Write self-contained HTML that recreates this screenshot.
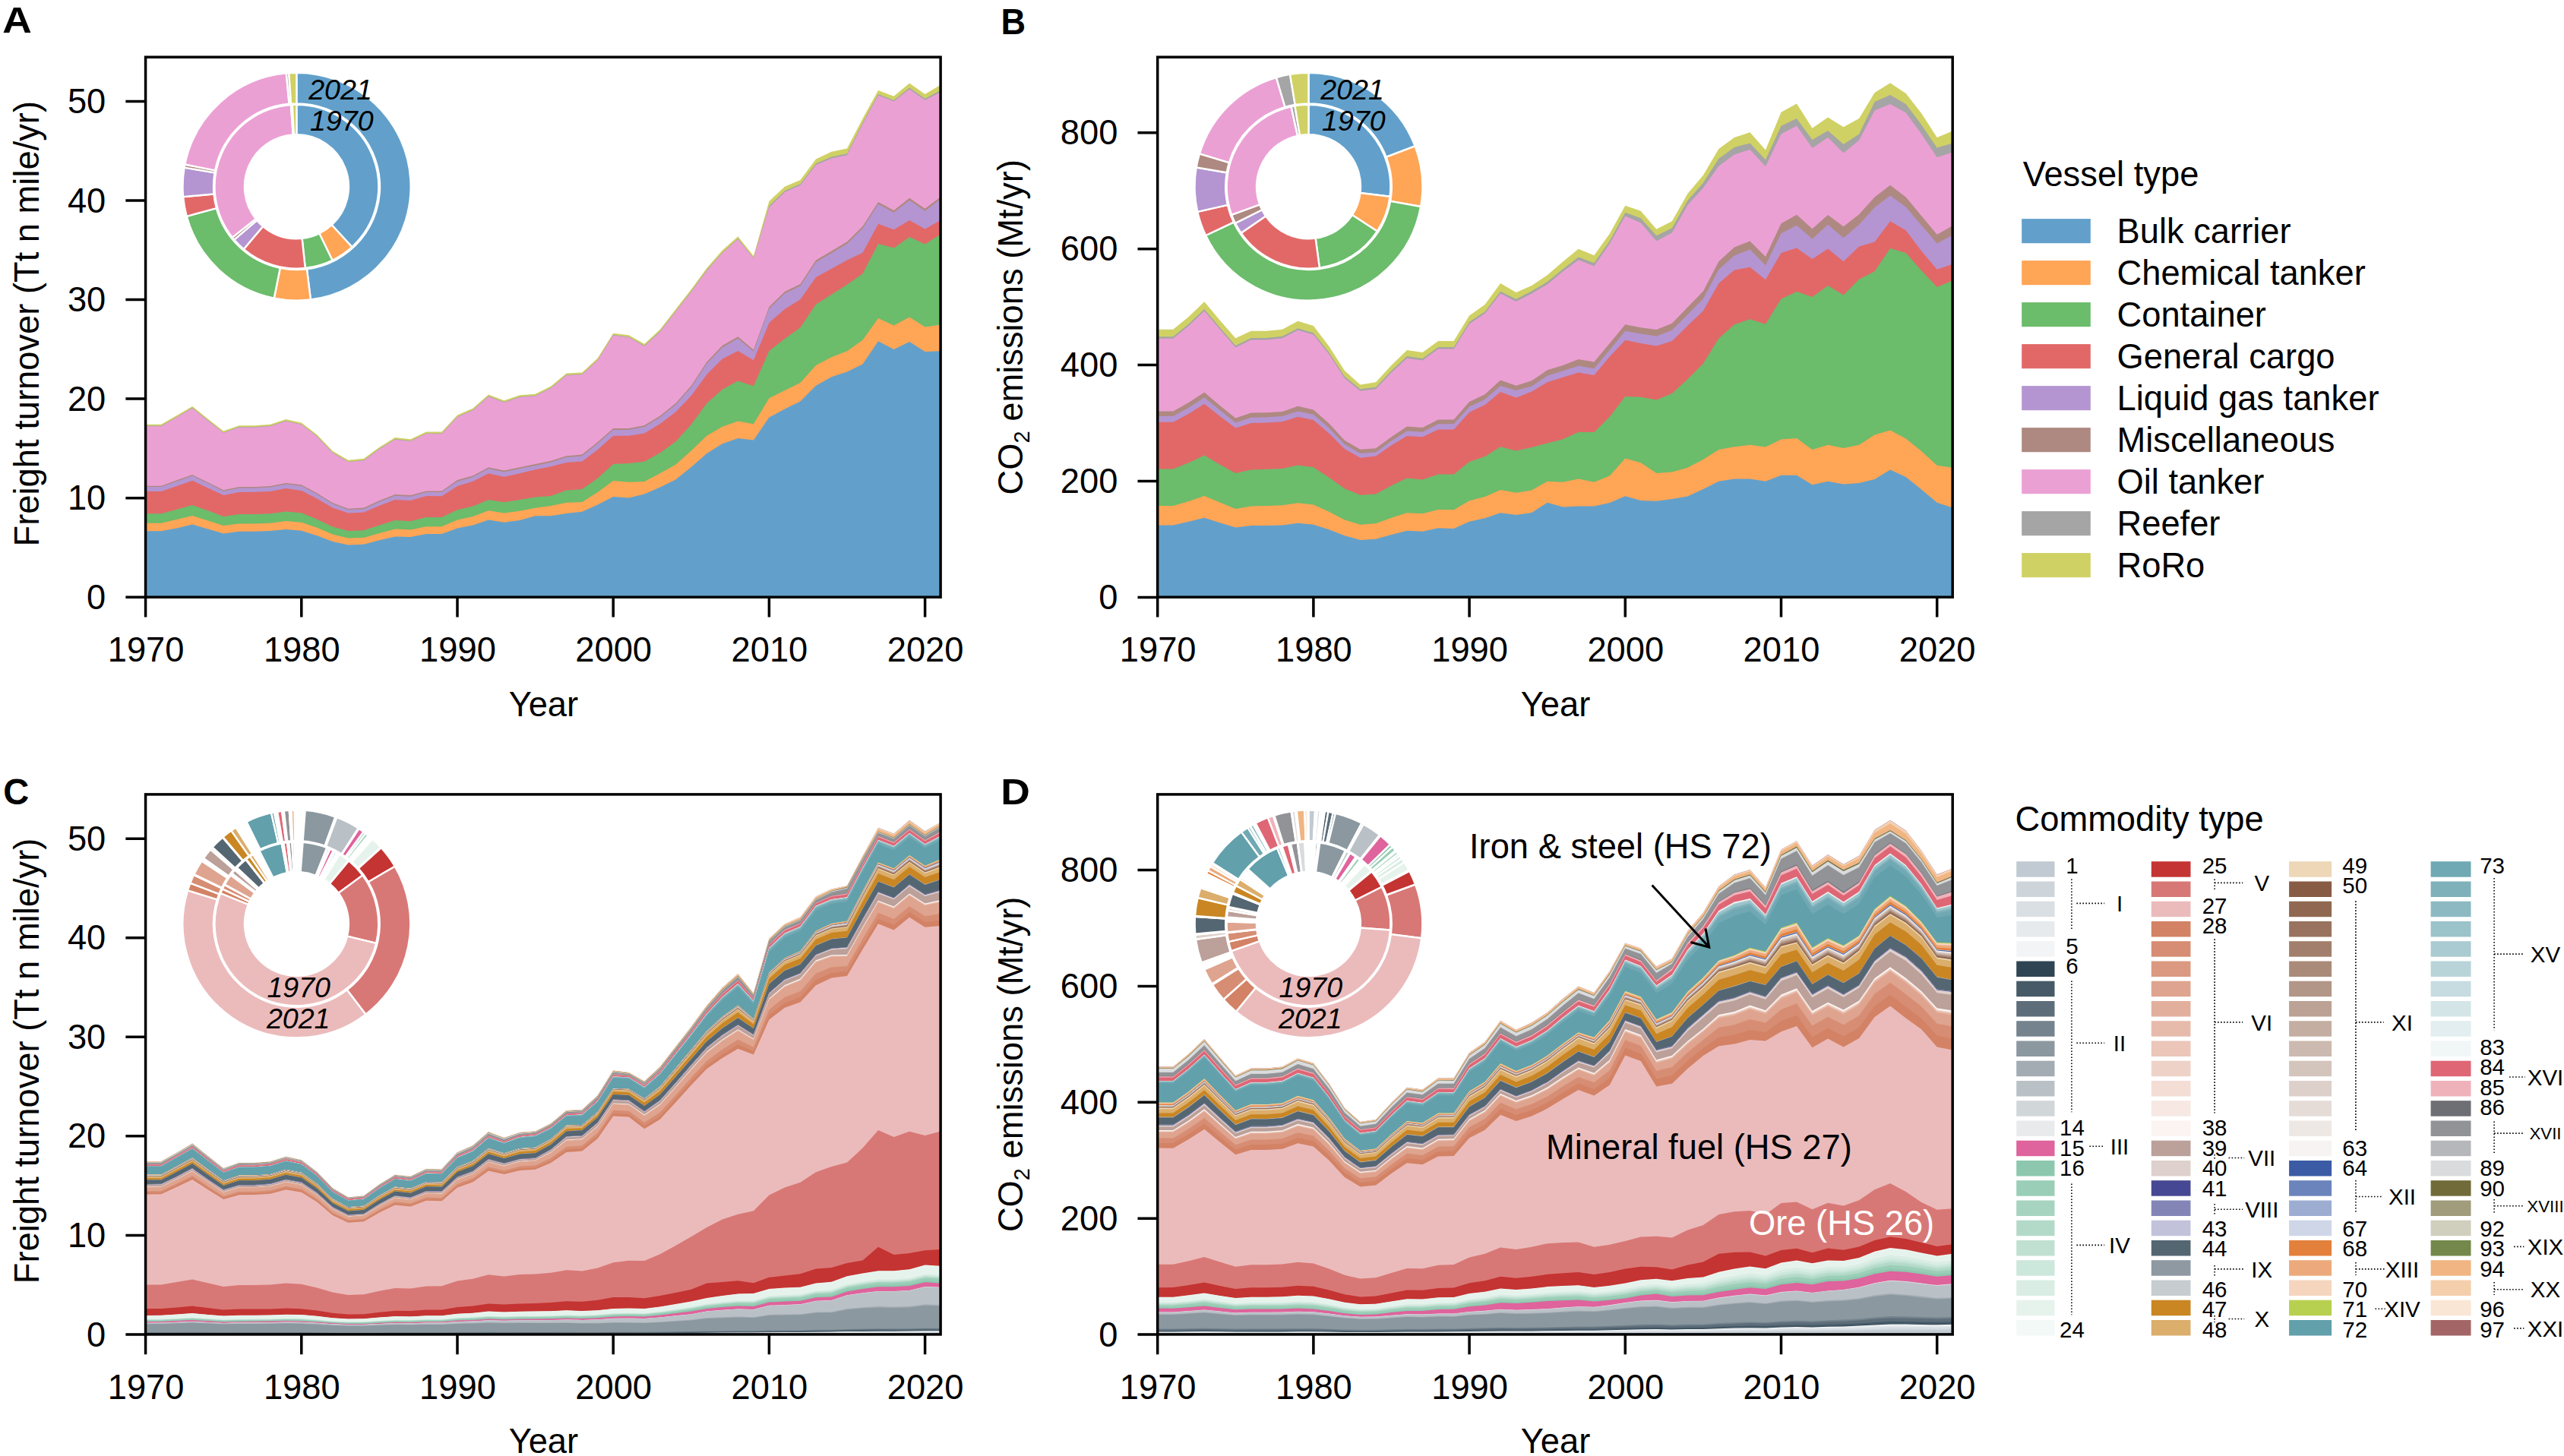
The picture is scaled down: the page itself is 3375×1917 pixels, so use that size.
<!DOCTYPE html>
<html><head><meta charset="utf-8"><title>Figure</title>
<style>html,body{margin:0;padding:0;background:#fff}svg{display:block}</style></head>
<body>
<svg width="3375" height="1917" viewBox="0 0 3375 1917" font-family="'Liberation Sans',sans-serif" font-size="45.3" fill="#000">
<rect width="3375" height="1917" fill="#fff"/>
<g id="pa">
<path fill="#d0d164" d="M191.6 786.2L191.6 558.7L212.1 558.7L232.6 547L253.2 534.9L273.7 551.4L294.2 567.5L314.7 560.2L335.2 560.2L355.8 558.7L376.3 552.1L396.8 556.5L417.3 572.3L437.8 593.8L458.4 605.7L478.9 603.7L499.4 588.8L519.9 576L540.4 578.2L561 568.4L581.5 568.6L602 546.4L622.5 537.6L643 519.6L663.6 527.3L684.1 520.2L704.6 518.7L725.1 508.5L745.6 491.4L766.2 490.4L786.7 471.6L807.2 438.7L827.7 441.3L848.2 452.8L868.8 433.7L889.3 407.3L909.8 381L930.3 353L950.8 329.6L971.4 311.2L991.9 337L1012.4 265L1032.9 245.7L1053.4 236.9L1074 209.5L1094.5 199.8L1115 195.6L1135.5 156.2L1156 119.1L1176.6 126.8L1197.1 109.4L1217.6 123.9L1238.1 111.7L1238.1 786.2Z"/>
<path fill="#a5a5a5" d="M191.6 786.2L191.6 560.6L212.1 560.6L232.6 548.9L253.2 536.8L273.7 553.3L294.2 569.4L314.7 562.1L335.2 562.1L355.8 560.6L376.3 554L396.8 558.4L417.3 574.3L437.8 595.8L458.4 607.7L478.9 605.7L499.4 590.8L519.9 578L540.4 580.2L561 570.4L581.5 570.6L602 548.4L622.5 539.6L643 521.6L663.6 529.3L684.1 522.3L704.6 520.8L725.1 510.6L745.6 493.5L766.2 492.5L786.7 473.7L807.2 440.8L827.7 443.5L848.2 455.1L868.8 436.1L889.3 409.8L909.8 383.5L930.3 355.6L950.8 332.4L971.4 314.1L991.9 339.5L1012.4 271.1L1032.9 251.2L1053.4 242.3L1074 215.3L1094.5 206.4L1115 202.2L1135.5 161.5L1156 123.9L1176.6 131.9L1197.1 115.5L1217.6 129.7L1238.1 118.9L1238.1 786.2Z"/>
<path fill="#eba0d4" d="M191.6 786.2L191.6 561.2L212.1 561.2L232.6 549.6L253.2 537.5L273.7 554L294.2 570L314.7 562.8L335.2 562.8L355.8 561.3L376.3 554.7L396.8 559.1L417.3 574.9L437.8 596.5L458.4 608.3L478.9 606.4L499.4 591.4L519.9 578.7L540.4 580.9L561 571L581.5 571.3L602 549.1L622.5 540.3L643 522.3L663.6 530L684.1 523L704.6 521.5L725.1 511.3L745.6 494.2L766.2 493.2L786.7 474.4L807.2 441.5L827.7 444.2L848.2 455.9L868.8 436.9L889.3 410.6L909.8 384.4L930.3 356.5L950.8 333.3L971.4 315.1L991.9 340.3L1012.4 273.1L1032.9 253.1L1053.4 244L1074 217.2L1094.5 208.5L1115 204.3L1135.5 163.3L1156 125.5L1176.6 133.6L1197.1 117.5L1217.6 131.7L1238.1 121.3L1238.1 786.2Z"/>
<path fill="#ae8981" d="M191.6 786.2L191.6 639.8L212.1 639.8L232.6 632.3L253.2 625.1L273.7 634.9L294.2 645.3L314.7 641.1L335.2 641.1L355.8 640L376.3 636L396.8 638.2L417.3 649.2L437.8 662L458.4 669.7L478.9 668.6L499.4 659.1L519.9 651L540.4 652.1L561 646.4L581.5 646.4L602 632.1L622.5 626.2L643 615.2L663.6 619.6L684.1 615.2L704.6 611L725.1 606.8L745.6 600.2L766.2 598.5L786.7 582L807.2 563.9L827.7 563.9L848.2 559.9L868.8 547.4L889.3 530.9L909.8 507.9L930.3 476.6L950.8 455.1L971.4 443.3L991.9 460.4L1012.4 403.9L1032.9 383.9L1053.4 373.9L1074 342.5L1094.5 330.6L1115 318.3L1135.5 298L1156 266L1176.6 277L1197.1 260.8L1217.6 274.7L1238.1 259.2L1238.1 786.2Z"/>
<path fill="#b495d1" d="M191.6 786.2L191.6 641.1L212.1 641.1L232.6 633.7L253.2 626.4L273.7 636.3L294.2 646.7L314.7 642.5L335.2 642.6L355.8 641.5L376.3 637.6L396.8 639.8L417.3 650.8L437.8 663.6L458.4 671.3L478.9 670.2L499.4 660.8L519.9 652.7L540.4 653.8L561 648.1L581.5 648.1L602 633.9L622.5 627.9L643 617L663.6 621.4L684.1 617L704.6 612.9L725.1 608.7L745.6 602.1L766.2 600.5L786.7 584L807.2 565.9L827.7 566L848.2 562L868.8 549.6L889.3 533.1L909.8 510.1L930.3 478.8L950.8 457.5L971.4 445.7L991.9 462.8L1012.4 406.4L1032.9 386.4L1053.4 376.4L1074 345.2L1094.5 333.3L1115 321L1135.5 300.7L1156 268.8L1176.6 279.8L1197.1 263.7L1217.6 277.7L1238.1 262.2L1238.1 786.2Z"/>
<path fill="#e26868" d="M191.6 786.2L191.6 647L212.1 647L232.6 640L253.2 632.7L273.7 642.6L294.2 652.1L314.7 648.1L335.2 647.7L355.8 647L376.3 643.1L396.8 645.9L417.3 656.5L437.8 668.6L458.4 675.6L478.9 674.5L499.4 665.7L519.9 658L540.4 659.1L561 653L581.5 653.2L602 640L622.5 633.8L643 623.3L663.6 627.7L684.1 623.3L704.6 618.3L725.1 614.3L745.6 609.1L766.2 607.4L786.7 591.9L807.2 573.8L827.7 573.8L848.2 570.5L868.8 558L889.3 542.5L909.8 521.1L930.3 493L950.8 472.6L971.4 462L991.9 474.3L1012.4 424.9L1032.9 407.1L1053.4 394.2L1074 365.1L1094.5 353.8L1115 342.5L1135.5 332.8L1156 294.7L1176.6 302.2L1197.1 289.9L1217.6 301.5L1238.1 289.9L1238.1 786.2Z"/>
<path fill="#6bbc6b" d="M191.6 786.2L191.6 676.3L212.1 676.3L232.6 670.8L253.2 665.1L273.7 672.3L294.2 680L314.7 677.1L335.2 677.1L355.8 676.3L376.3 673.4L396.8 675.2L417.3 683.7L437.8 693.6L458.4 699.1L478.9 698.2L499.4 691.4L519.9 685.1L540.4 686.2L561 681.1L581.5 681.1L602 671.2L622.5 666.4L643 658L663.6 661.3L684.1 658L704.6 654.5L725.1 652.9L745.6 645.6L766.2 644L786.7 629.8L807.2 611L827.7 610L848.2 607.7L868.8 596.2L889.3 581.4L909.8 559L930.3 530.9L950.8 512.8L971.4 501.4L991.9 508.2L1012.4 462L1032.9 445.9L1053.4 431.3L1074 400.7L1094.5 387.7L1115 374.8L1135.5 360.3L1156 320.9L1176.6 326.4L1197.1 311.9L1217.6 321.5L1238.1 308.6L1238.1 786.2Z"/>
<path fill="#ffa556" d="M191.6 786.2L191.6 688.8L212.1 688.8L232.6 684L253.2 678.9L273.7 685.5L294.2 692.1L314.7 689.5L335.2 689.5L355.8 688.8L376.3 685.9L396.8 687.7L417.3 694.7L437.8 703.5L458.4 708.6L478.9 707.9L499.4 702L519.9 696.5L540.4 697.6L561 693.2L581.5 693.2L602 684.4L622.5 680L643 672.3L663.6 675.6L684.1 672.7L704.6 668.7L725.1 666.1L745.6 661.8L766.2 661.1L786.7 647.9L807.2 633.1L827.7 634.8L848.2 634.1L868.8 623.2L889.3 611.7L909.8 593.6L930.3 573.8L950.8 561.7L971.4 554.5L991.9 558.2L1012.4 524.2L1032.9 514.1L1053.4 504L1074 480.9L1094.5 470.3L1115 462.2L1135.5 447.8L1156 418.9L1176.6 428.4L1197.1 417.5L1217.6 430.5L1238.1 427.6L1238.1 786.2Z"/>
<path fill="#62a0cb" d="M191.6 786.2L191.6 699.3L212.1 699.3L232.6 695.4L253.2 690.5L273.7 696.5L294.2 702.6L314.7 699.8L335.2 699.8L355.8 699.1L376.3 696.9L396.8 698.7L417.3 705.3L437.8 713L458.4 717.4L478.9 716.7L499.4 711.2L519.9 706.4L540.4 707L561 703.1L581.5 703.1L602 695.4L622.5 691.6L643 684.4L663.6 687.7L684.1 685.1L704.6 679.3L725.1 679.3L745.6 676L766.2 673.7L786.7 664.4L807.2 653.9L827.7 655.5L848.2 650.6L868.8 641.4L889.3 631.5L909.8 615L930.3 596.9L950.8 584.2L971.4 576.9L991.9 579.5L1012.4 549.6L1032.9 538.6L1053.4 528.5L1074 507.7L1094.5 496.2L1115 489.6L1135.5 479.5L1156 449.2L1176.6 459.9L1197.1 450.1L1217.6 463L1238.1 462.2L1238.1 786.2Z"/>
<rect x="191.6" y="75.2" width="1046.5" height="711" fill="none" stroke="#000" stroke-width="3.5"/>
<text x="192.1" y="871" text-anchor="middle">1970</text>
<text x="397.3" y="871" text-anchor="middle">1980</text>
<text x="602.5" y="871" text-anchor="middle">1990</text>
<text x="807.7" y="871" text-anchor="middle">2000</text>
<text x="1012.9" y="871" text-anchor="middle">2010</text>
<text x="1218.1" y="871" text-anchor="middle">2020</text>
<text x="139.3" y="801.8" text-anchor="end">0</text>
<text x="139.3" y="671.3" text-anchor="end">10</text>
<text x="139.3" y="540.7" text-anchor="end">20</text>
<text x="139.3" y="410.2" text-anchor="end">30</text>
<text x="139.3" y="279.6" text-anchor="end">40</text>
<text x="139.3" y="149.1" text-anchor="end">50</text>
<path d="M191.6 786.2v26.3M396.8 786.2v26.3M602 786.2v26.3M807.2 786.2v26.3M1012.4 786.2v26.3M1217.6 786.2v26.3M191.6 786.2h-26.2M191.6 655.7h-26.2M191.6 525.1h-26.2M191.6 394.6h-26.2M191.6 264h-26.2M191.6 133.5h-26.2" stroke="#000" stroke-width="3.5" fill="none"/>
<text x="715.4" y="942.5" text-anchor="middle">Year</text>
<text transform="translate(50.8 426.2) rotate(-90)" text-anchor="middle">Freight turnover (Tt n mile/yr)</text>
</g>
<g id="pb">
<path fill="#d0d164" d="M1523.7 786.4L1523.7 433.7L1544.2 433.7L1564.7 416.9L1585.3 397.3L1605.8 421.7L1626.3 445.3L1646.8 435.8L1667.3 435.8L1687.9 433.7L1708.4 422.8L1728.9 429.1L1749.4 455.9L1769.9 488.1L1790.5 506.4L1811 503.2L1831.5 481.1L1852 461.1L1872.5 463.9L1893.1 448.9L1913.6 448.9L1934.1 415.4L1954.6 401.1L1975.1 373.1L1995.7 385L2016.2 375.9L2036.7 362.3L2057.2 344.4L2077.7 327.8L2098.3 336.2L2118.8 307.7L2139.3 270.7L2159.8 277.7L2180.3 301.8L2200.9 291.3L2221.4 255L2241.9 230.8L2262.4 196L2282.9 180.9L2303.5 174.3L2324 197.5L2344.5 147.7L2365 136.5L2385.5 168.8L2406.1 154.6L2426.6 167.3L2447.1 156.1L2467.6 122L2488.1 109.3L2508.7 122.9L2529.2 149.2L2549.7 180.9L2570.2 172.5L2570.2 786.4Z"/>
<path fill="#a5a5a5" d="M1523.7 786.4L1523.7 443.2L1544.2 443.2L1564.7 426.4L1585.3 407L1605.8 431.2L1626.3 455L1646.8 444.9L1667.3 444.9L1687.9 442.8L1708.4 432.3L1728.9 438.2L1749.4 463.9L1769.9 495.5L1790.5 512.3L1811 509.8L1831.5 488.1L1852 469.1L1872.5 471.9L1893.1 457.1L1913.6 457.1L1934.1 423.8L1954.6 410.2L1975.1 383.8L1995.7 393.8L2016.2 383.2L2036.7 371.1L2057.2 354.3L2077.7 338.6L2098.3 346.3L2118.8 317.3L2139.3 279.8L2159.8 287.3L2180.3 310.3L2200.9 300.3L2221.4 264.1L2241.9 240.8L2262.4 208.7L2282.9 193.9L2303.5 188.5L2324 210.2L2344.5 165.8L2365 156.1L2385.5 183.9L2406.1 171.9L2426.6 190L2447.1 176.4L2467.6 134.1L2488.1 125L2508.7 137.1L2529.2 164.3L2549.7 194.5L2570.2 188.5L2570.2 786.4Z"/>
<path fill="#eba0d4" d="M1523.7 786.4L1523.7 445.7L1544.2 445.7L1564.7 428.9L1585.3 409.5L1605.8 433.7L1626.3 457.5L1646.8 447.4L1667.3 447.4L1687.9 445.3L1708.4 434.8L1728.9 440.7L1749.4 466.4L1769.9 498L1790.5 514.8L1811 512.3L1831.5 490.6L1852 471.7L1872.5 474.4L1893.1 459.6L1913.6 459.6L1934.1 426.4L1954.6 412.7L1975.1 386.4L1995.7 397.1L2016.2 386.5L2036.7 374.4L2057.2 357.4L2077.7 342.3L2098.3 350.3L2118.8 321L2139.3 284.6L2159.8 293.4L2180.3 317.6L2200.9 306.4L2221.4 270.1L2241.9 247.4L2262.4 218.7L2282.9 203.6L2303.5 196.9L2324 219.3L2344.5 176.4L2365 165.8L2385.5 195.1L2406.1 180.9L2426.6 201.5L2447.1 184.8L2467.6 145.6L2488.1 137.1L2508.7 148.6L2529.2 176.4L2549.7 207.2L2570.2 200.6L2570.2 786.4Z"/>
<path fill="#ae8981" d="M1523.7 786.4L1523.7 541.6L1544.2 541.6L1564.7 530.1L1585.3 516.6L1605.8 534.1L1626.3 550.5L1646.8 543.5L1667.3 543.2L1687.9 541.9L1708.4 534.8L1728.9 539.5L1749.4 557.5L1769.9 579.7L1790.5 591.7L1811 590.2L1831.5 575.3L1852 561.5L1872.5 563L1893.1 552.6L1913.6 552.6L1934.1 529.1L1954.6 519.2L1975.1 500.4L1995.7 507.8L2016.2 501.2L2036.7 487.3L2057.2 481L2077.7 472.9L2098.3 476.6L2118.8 452.1L2139.3 427.3L2159.8 431.2L2180.3 433.9L2200.9 425.8L2221.4 404.6L2241.9 383.5L2262.4 344.2L2282.9 325.4L2303.5 317.6L2324 338.1L2344.5 294.3L2365 282.8L2385.5 301.2L2406.1 283.1L2426.6 298.2L2447.1 282.2L2467.6 259.5L2488.1 243.8L2508.7 259.5L2529.2 284.3L2549.7 308.8L2570.2 297.3L2570.2 786.4Z"/>
<path fill="#b495d1" d="M1523.7 786.4L1523.7 547.9L1544.2 547.9L1564.7 536.7L1585.3 523.6L1605.8 540.1L1626.3 556.5L1646.8 549.7L1667.3 549.2L1687.9 547.9L1708.4 541.4L1728.9 545.8L1749.4 563.5L1769.9 584.9L1790.5 597L1811 595.4L1831.5 580.5L1852 567.5L1872.5 568.8L1893.1 558.3L1913.6 558.3L1934.1 535.6L1954.6 525.7L1975.1 508L1995.7 514.1L2016.2 508.4L2036.7 494.8L2057.2 488.2L2077.7 481.8L2098.3 485.3L2118.8 460.8L2139.3 435.8L2159.8 439.4L2180.3 442.4L2200.9 434.8L2221.4 414.3L2241.9 393.4L2262.4 354.7L2282.9 336.6L2303.5 328.4L2324 349.3L2344.5 307.3L2365 296.7L2385.5 314.5L2406.1 295.8L2426.6 313.3L2447.1 295.8L2467.6 273.1L2488.1 257.4L2508.7 272.5L2529.2 296.7L2549.7 320.6L2570.2 309.4L2570.2 786.4Z"/>
<path fill="#e26868" d="M1523.7 786.4L1523.7 555.7L1544.2 555.7L1564.7 544.8L1585.3 531.7L1605.8 547.9L1626.3 563.5L1646.8 557L1667.3 556.5L1687.9 555.2L1708.4 548.7L1728.9 553.1L1749.4 570.6L1769.9 591L1790.5 602.7L1811 600.6L1831.5 586.3L1852 574L1872.5 575.3L1893.1 565.4L1913.6 565.4L1934.1 542.7L1954.6 533L1975.1 516L1995.7 523.4L2016.2 515.6L2036.7 503.2L2057.2 496.8L2077.7 490.5L2098.3 493.9L2118.8 469.4L2139.3 447.8L2159.8 452.1L2180.3 455.4L2200.9 449.1L2221.4 428.8L2241.9 409.2L2262.4 372.9L2282.9 355.6L2303.5 351.7L2324 368.3L2344.5 333L2365 326.6L2385.5 341.1L2406.1 327.5L2426.6 344.2L2447.1 324.5L2467.6 318.5L2488.1 291.3L2508.7 303.3L2529.2 330.6L2549.7 354.7L2570.2 347.8L2570.2 786.4Z"/>
<path fill="#6bbc6b" d="M1523.7 786.4L1523.7 617.6L1544.2 617.6L1564.7 609.2L1585.3 599.6L1605.8 611.8L1626.3 623.1L1646.8 618.4L1667.3 617.8L1687.9 617.1L1708.4 612.4L1728.9 615.2L1749.4 628.8L1769.9 643.2L1790.5 651.8L1811 650.5L1831.5 639.2L1852 629.6L1872.5 631.4L1893.1 624.4L1913.6 624.4L1934.1 607.9L1954.6 600.9L1975.1 588.3L1995.7 593.5L2016.2 589.1L2036.7 583.4L2057.2 578.2L2077.7 568.9L2098.3 568.9L2118.8 548.7L2139.3 521.9L2159.8 522.8L2180.3 526.5L2200.9 517.9L2221.4 499.2L2241.9 478.7L2262.4 445.4L2282.9 427.3L2303.5 420.3L2324 426.7L2344.5 393.4L2365 384.1L2385.5 391L2406.1 375.9L2426.6 388.6L2447.1 367.7L2467.6 357.2L2488.1 326.9L2508.7 333L2529.2 356.3L2549.7 378L2570.2 369.3L2570.2 786.4Z"/>
<path fill="#ffa556" d="M1523.7 786.4L1523.7 665.9L1544.2 665.9L1564.7 660.1L1585.3 653.1L1605.8 661.4L1626.3 670L1646.8 666.6L1667.3 666.1L1687.9 665.3L1708.4 662.2L1728.9 664.6L1749.4 673.7L1769.9 684.4L1790.5 690.7L1811 689.3L1831.5 681.8L1852 675.3L1872.5 676.3L1893.1 671.1L1913.6 671.3L1934.1 659.3L1954.6 654.1L1975.1 645L1995.7 648.8L2016.2 645.4L2036.7 633.8L2057.2 634.7L2077.7 630.4L2098.3 634.7L2118.8 626.6L2139.3 603.6L2159.8 609.3L2180.3 622.9L2200.9 621.4L2221.4 615.7L2241.9 605L2262.4 592L2282.9 588.3L2303.5 585.7L2324 588.6L2344.5 578.5L2365 577L2385.5 592L2406.1 585.7L2426.6 590L2447.1 585.7L2467.6 572.4L2488.1 566.6L2508.7 577.6L2529.2 594L2549.7 612.8L2570.2 615.7L2570.2 786.4Z"/>
<path fill="#62a0cb" d="M1523.7 786.4L1523.7 691.4L1544.2 691.4L1564.7 686.7L1585.3 681.8L1605.8 688.3L1626.3 694.6L1646.8 692L1667.3 692L1687.9 691.4L1708.4 688.8L1728.9 690.7L1749.4 697.2L1769.9 705.3L1790.5 711L1811 709.7L1831.5 704L1852 698.7L1872.5 699.8L1893.1 695.3L1913.6 695.9L1934.1 686.7L1954.6 682.3L1975.1 675.3L1995.7 678L2016.2 675.1L2036.7 661.8L2057.2 667.6L2077.7 666.4L2098.3 666.4L2118.8 662.1L2139.3 653.2L2159.8 658.9L2180.3 659.8L2200.9 656.9L2221.4 653.5L2241.9 643.9L2262.4 633.8L2282.9 630.4L2303.5 630.4L2324 633.8L2344.5 625.8L2365 625.8L2385.5 638.2L2406.1 633.8L2426.6 637.6L2447.1 635.9L2467.6 631L2488.1 618.6L2508.7 628.1L2529.2 644.5L2549.7 661.8L2570.2 668.5L2570.2 786.4Z"/>
<rect x="1523.7" y="75.2" width="1046.5" height="711" fill="none" stroke="#000" stroke-width="3.5"/>
<text x="1524.2" y="871" text-anchor="middle">1970</text>
<text x="1729.4" y="871" text-anchor="middle">1980</text>
<text x="1934.6" y="871" text-anchor="middle">1990</text>
<text x="2139.8" y="871" text-anchor="middle">2000</text>
<text x="2345" y="871" text-anchor="middle">2010</text>
<text x="2550.2" y="871" text-anchor="middle">2020</text>
<text x="1471.4" y="802" text-anchor="end">0</text>
<text x="1471.4" y="649.1" text-anchor="end">200</text>
<text x="1471.4" y="496.2" text-anchor="end">400</text>
<text x="1471.4" y="343.3" text-anchor="end">600</text>
<text x="1471.4" y="190.4" text-anchor="end">800</text>
<path d="M1523.7 786.2v26.3M1728.9 786.2v26.3M1934.1 786.2v26.3M2139.3 786.2v26.3M2344.5 786.2v26.3M2549.7 786.2v26.3M1523.7 786.4h-26.2M1523.7 633.5h-26.2M1523.7 480.6h-26.2M1523.7 327.7h-26.2M1523.7 174.8h-26.2" stroke="#000" stroke-width="3.5" fill="none"/>
<text x="2047.5" y="942.5" text-anchor="middle">Year</text>
<text transform="translate(1346 430.7) rotate(-90)" text-anchor="middle">CO<tspan font-size="29" dy="9.2">2</tspan><tspan dy="-9.2"> emissions (Mt/yr)</tspan></text>
</g>
<g id="pc">
<path fill="#a46567" d="M191.6 1756.9L191.6 1529.4L212.1 1529.4L232.6 1517.7L253.2 1505.6L273.7 1522.1L294.2 1538.2L314.7 1530.9L335.2 1530.9L355.8 1529.4L376.3 1522.8L396.8 1527.2L417.3 1543L437.8 1564.5L458.4 1576.4L478.9 1574.4L499.4 1559.5L519.9 1546.7L540.4 1548.9L561 1539.1L581.5 1539.3L602 1517.1L622.5 1508.3L643 1490.3L663.6 1498L684.1 1490.9L704.6 1489.4L725.1 1479.2L745.6 1462.1L766.2 1461.1L786.7 1442.3L807.2 1409.4L827.7 1412L848.2 1423.5L868.8 1404.4L889.3 1378L909.8 1351.7L930.3 1323.7L950.8 1300.3L971.4 1281.9L991.9 1307.7L1012.4 1235.7L1032.9 1216.4L1053.4 1207.6L1074 1180.2L1094.5 1170.5L1115 1166.3L1135.5 1126.9L1156 1089.8L1176.6 1097.5L1197.1 1080.1L1217.6 1094.6L1238.1 1082.4L1238.1 1756.9Z"/>
<path fill="#fae6d5" d="M191.6 1756.9L191.6 1529.4L212.1 1529.4L232.6 1517.8L253.2 1505.7L273.7 1522.2L294.2 1538.2L314.7 1531L335.2 1531L355.8 1529.4L376.3 1522.8L396.8 1527.2L417.3 1543L437.8 1564.6L458.4 1576.4L478.9 1574.5L499.4 1559.5L519.9 1546.8L540.4 1549L561 1539.1L581.5 1539.3L602 1517.1L622.5 1508.3L643 1490.3L663.6 1498L684.1 1491L704.6 1489.5L725.1 1479.3L745.6 1462.1L766.2 1461.2L786.7 1442.4L807.2 1409.4L827.7 1412.1L848.2 1423.6L868.8 1404.5L889.3 1378.1L909.8 1351.8L930.3 1323.8L950.8 1300.5L971.4 1282.1L991.9 1307.9L1012.4 1235.9L1032.9 1216.5L1053.4 1207.8L1074 1180.4L1094.5 1170.6L1115 1166.4L1135.5 1127.1L1156 1090.1L1176.6 1097.8L1197.1 1080.4L1217.6 1094.9L1238.1 1082.6L1238.1 1756.9Z"/>
<path fill="#f5ceac" d="M191.6 1756.9L191.6 1529.5L212.1 1529.5L232.6 1517.8L253.2 1505.8L273.7 1522.2L294.2 1538.3L314.7 1531L335.2 1531L355.8 1529.5L376.3 1522.9L396.8 1527.3L417.3 1543.1L437.8 1564.6L458.4 1576.5L478.9 1574.5L499.4 1559.6L519.9 1546.8L540.4 1549L561 1539.2L581.5 1539.4L602 1517.2L622.5 1508.4L643 1490.4L663.6 1498.1L684.1 1491.1L704.6 1489.6L725.1 1479.4L745.6 1462.3L766.2 1461.3L786.7 1442.5L807.2 1409.6L827.7 1412.2L848.2 1423.7L868.8 1404.7L889.3 1378.3L909.8 1352L930.3 1324L950.8 1300.7L971.4 1282.4L991.9 1308.1L1012.4 1236.1L1032.9 1216.8L1053.4 1208.1L1074 1180.8L1094.5 1170.9L1115 1166.6L1135.5 1127.5L1156 1090.6L1176.6 1098.3L1197.1 1080.9L1217.6 1095.4L1238.1 1083.1L1238.1 1756.9Z"/>
<path fill="#f0b582" d="M191.6 1756.9L191.6 1529.6L212.1 1529.6L232.6 1518L253.2 1505.9L273.7 1522.4L294.2 1538.4L314.7 1531.2L335.2 1531.2L355.8 1529.6L376.3 1523L396.8 1527.4L417.3 1543.2L437.8 1564.8L458.4 1576.6L478.9 1574.6L499.4 1559.7L519.9 1547L540.4 1549.2L561 1539.3L581.5 1539.5L602 1517.4L622.5 1508.6L643 1490.6L663.6 1498.3L684.1 1491.3L704.6 1489.8L725.1 1479.6L745.6 1462.5L766.2 1461.5L786.7 1442.8L807.2 1409.8L827.7 1412.5L848.2 1424L868.8 1405L889.3 1378.7L909.8 1352.4L930.3 1324.5L950.8 1301.3L971.4 1283L991.9 1308.5L1012.4 1236.6L1032.9 1217.4L1053.4 1208.8L1074 1181.5L1094.5 1171.5L1115 1166.9L1135.5 1128.2L1156 1091.7L1176.6 1099.4L1197.1 1081.9L1217.6 1096.4L1238.1 1084.2L1238.1 1756.9Z"/>
<path fill="#74884b" d="M191.6 1756.9L191.6 1530.1L212.1 1530.1L232.6 1518.5L253.2 1506.4L273.7 1522.8L294.2 1538.8L314.7 1531.6L335.2 1531.6L355.8 1530.1L376.3 1523.5L396.8 1527.9L417.3 1543.6L437.8 1565.1L458.4 1576.9L478.9 1575L499.4 1560.1L519.9 1547.4L540.4 1549.6L561 1539.8L581.5 1540L602 1517.9L622.5 1509.1L643 1491.2L663.6 1498.8L684.1 1491.8L704.6 1490.4L725.1 1480.2L745.6 1463.2L766.2 1462.2L786.7 1443.5L807.2 1410.7L827.7 1413.3L848.2 1424.9L868.8 1406L889.3 1379.9L909.8 1353.7L930.3 1326L950.8 1303L971.4 1284.9L991.9 1309.9L1012.4 1238.1L1032.9 1219.1L1053.4 1210.7L1074 1183.7L1094.5 1173.1L1115 1168L1135.5 1130.3L1156 1095.1L1176.6 1102.7L1197.1 1085.1L1217.6 1099.4L1238.1 1087.3L1238.1 1756.9Z"/>
<path fill="#d0cebd" d="M191.6 1756.9L191.6 1530.1L212.1 1530.1L232.6 1518.5L253.2 1506.4L273.7 1522.8L294.2 1538.8L314.7 1531.6L335.2 1531.6L355.8 1530.1L376.3 1523.5L396.8 1527.9L417.3 1543.6L437.8 1565.1L458.4 1577L478.9 1575L499.4 1560.1L519.9 1547.4L540.4 1549.6L561 1539.8L581.5 1540L602 1517.9L622.5 1509.2L643 1491.2L663.6 1498.8L684.1 1491.8L704.6 1490.4L725.1 1480.2L745.6 1463.2L766.2 1462.2L786.7 1443.5L807.2 1410.7L827.7 1413.3L848.2 1424.9L868.8 1406.1L889.3 1379.9L909.8 1353.7L930.3 1326L950.8 1303L971.4 1285L991.9 1309.9L1012.4 1238.2L1032.9 1219.1L1053.4 1210.7L1074 1183.7L1094.5 1173.1L1115 1168L1135.5 1130.4L1156 1095.1L1176.6 1102.7L1197.1 1085.1L1217.6 1099.4L1238.1 1087.4L1238.1 1756.9Z"/>
<path fill="#a09c7c" d="M191.6 1756.9L191.6 1530.1L212.1 1530.1L232.6 1518.5L253.2 1506.4L273.7 1522.9L294.2 1538.9L314.7 1531.6L335.2 1531.6L355.8 1530.1L376.3 1523.5L396.8 1527.9L417.3 1543.7L437.8 1565.1L458.4 1577L478.9 1575L499.4 1560.1L519.9 1547.4L540.4 1549.6L561 1539.8L581.5 1540L602 1517.9L622.5 1509.2L643 1491.2L663.6 1498.9L684.1 1491.9L704.6 1490.4L725.1 1480.2L745.6 1463.2L766.2 1462.2L786.7 1443.5L807.2 1410.7L827.7 1413.3L848.2 1424.9L868.8 1406.1L889.3 1379.9L909.8 1353.7L930.3 1326L950.8 1303.1L971.4 1285L991.9 1309.9L1012.4 1238.2L1032.9 1219.2L1053.4 1210.8L1074 1183.8L1094.5 1173.2L1115 1168.1L1135.5 1130.4L1156 1095.1L1176.6 1102.7L1197.1 1085.2L1217.6 1099.5L1238.1 1087.4L1238.1 1756.9Z"/>
<path fill="#716b3a" d="M191.6 1756.9L191.6 1530.1L212.1 1530.1L232.6 1518.5L253.2 1506.4L273.7 1522.9L294.2 1538.9L314.7 1531.6L335.2 1531.6L355.8 1530.1L376.3 1523.5L396.8 1527.9L417.3 1543.7L437.8 1565.1L458.4 1577L478.9 1575L499.4 1560.1L519.9 1547.4L540.4 1549.6L561 1539.8L581.5 1540L602 1517.9L622.5 1509.2L643 1491.2L663.6 1498.9L684.1 1491.9L704.6 1490.4L725.1 1480.3L745.6 1463.2L766.2 1462.2L786.7 1443.6L807.2 1410.8L827.7 1413.3L848.2 1425L868.8 1406.1L889.3 1379.9L909.8 1353.8L930.3 1326.1L950.8 1303.1L971.4 1285L991.9 1310L1012.4 1238.2L1032.9 1219.2L1053.4 1210.8L1074 1183.8L1094.5 1173.2L1115 1168.1L1135.5 1130.5L1156 1095.2L1176.6 1102.8L1197.1 1085.2L1217.6 1099.5L1238.1 1087.5L1238.1 1756.9Z"/>
<path fill="#dadbdc" d="M191.6 1756.9L191.6 1530.3L212.1 1530.2L232.6 1518.6L253.2 1506.6L273.7 1523L294.2 1539L314.7 1531.7L335.2 1531.7L355.8 1530.2L376.3 1523.6L396.8 1528L417.3 1543.8L437.8 1565.2L458.4 1577L478.9 1575.1L499.4 1560.2L519.9 1547.5L540.4 1549.8L561 1539.9L581.5 1540.2L602 1518.1L622.5 1509.4L643 1491.5L663.6 1499.1L684.1 1492L704.6 1490.5L725.1 1480.4L745.6 1463.4L766.2 1462.4L786.7 1443.8L807.2 1411L827.7 1413.5L848.2 1425.2L868.8 1406.3L889.3 1380.2L909.8 1354L930.3 1326.3L950.8 1303.4L971.4 1285.4L991.9 1310.2L1012.4 1238.6L1032.9 1219.5L1053.4 1211.1L1074 1184.1L1094.5 1173.6L1115 1168.7L1135.5 1131L1156 1095.6L1176.6 1103.2L1197.1 1085.7L1217.6 1100L1238.1 1088L1238.1 1756.9Z"/>
<path fill="#b6b7ba" d="M191.6 1756.9L191.6 1531.3L212.1 1531.3L232.6 1519.7L253.2 1507.6L273.7 1523.9L294.2 1539.8L314.7 1532.6L335.2 1532.5L355.8 1530.9L376.3 1524.4L396.8 1528.7L417.3 1544.4L437.8 1565.7L458.4 1577.5L478.9 1575.6L499.4 1560.8L519.9 1548.2L540.4 1550.5L561 1540.8L581.5 1541.1L602 1519.2L622.5 1510.5L643 1492.7L663.6 1500.1L684.1 1492.9L704.6 1491.2L725.1 1481.1L745.6 1464.1L766.2 1463.1L786.7 1444.6L807.2 1411.9L827.7 1414.1L848.2 1425.8L868.8 1407.1L889.3 1380.9L909.8 1354.8L930.3 1327.2L950.8 1304.3L971.4 1286.3L991.9 1310.9L1012.4 1239.3L1032.9 1220.3L1053.4 1211.8L1074 1184.8L1094.5 1174.6L1115 1169.9L1135.5 1132L1156 1096.4L1176.6 1104L1197.1 1086.5L1217.6 1100.9L1238.1 1089L1238.1 1756.9Z"/>
<path fill="#929397" d="M191.6 1756.9L191.6 1531.4L212.1 1531.3L232.6 1519.7L253.2 1507.7L273.7 1524L294.2 1539.9L314.7 1532.6L335.2 1532.6L355.8 1531L376.3 1524.4L396.8 1528.7L417.3 1544.4L437.8 1565.8L458.4 1577.5L478.9 1575.6L499.4 1560.9L519.9 1548.3L540.4 1550.6L561 1540.9L581.5 1541.2L602 1519.3L622.5 1510.6L643 1492.8L663.6 1500.2L684.1 1493L704.6 1491.3L725.1 1481.2L745.6 1464.2L766.2 1463.2L786.7 1444.7L807.2 1412L827.7 1414.2L848.2 1425.9L868.8 1407.2L889.3 1381.1L909.8 1354.9L930.3 1327.3L950.8 1304.5L971.4 1286.5L991.9 1311L1012.4 1239.5L1032.9 1220.4L1053.4 1212L1074 1184.9L1094.5 1174.8L1115 1170.1L1135.5 1132.2L1156 1096.6L1176.6 1104.2L1197.1 1086.7L1217.6 1101.1L1238.1 1089.2L1238.1 1756.9Z"/>
<path fill="#6d6f74" d="M191.6 1756.9L191.6 1532.8L212.1 1532.7L232.6 1521.1L253.2 1509.1L273.7 1525.3L294.2 1541L314.7 1533.8L335.2 1533.7L355.8 1532.1L376.3 1525.5L396.8 1529.7L417.3 1545.3L437.8 1566.5L458.4 1578.2L478.9 1576.4L499.4 1561.8L519.9 1549.4L540.4 1551.8L561 1542.2L581.5 1542.7L602 1521.1L622.5 1512.6L643 1495.1L663.6 1502L684.1 1494.6L704.6 1492.6L725.1 1482.6L745.6 1465.7L766.2 1464.9L786.7 1446.7L807.2 1414.4L827.7 1415.9L848.2 1427.9L868.8 1409.4L889.3 1383.5L909.8 1357.5L930.3 1330.2L950.8 1307.7L971.4 1290L991.9 1313.7L1012.4 1242.8L1032.9 1223.7L1053.4 1215.1L1074 1188.1L1094.5 1179.1L1115 1175.7L1135.5 1136.9L1156 1100.4L1176.6 1108.3L1197.1 1091.1L1217.6 1105.5L1238.1 1094.3L1238.1 1756.9Z"/>
<path fill="#efb2ba" d="M191.6 1756.9L191.6 1533L212.1 1532.9L232.6 1521.3L253.2 1509.3L273.7 1525.4L294.2 1541.1L314.7 1533.9L335.2 1533.8L355.8 1532.2L376.3 1525.6L396.8 1529.8L417.3 1545.4L437.8 1566.6L458.4 1578.3L478.9 1576.5L499.4 1561.9L519.9 1549.5L540.4 1551.9L561 1542.4L581.5 1542.8L602 1521.2L622.5 1512.8L643 1495.3L663.6 1502.2L684.1 1494.8L704.6 1492.8L725.1 1482.7L745.6 1465.9L766.2 1465.1L786.7 1446.9L807.2 1414.6L827.7 1416.1L848.2 1428.1L868.8 1409.6L889.3 1383.7L909.8 1357.8L930.3 1330.5L950.8 1308.1L971.4 1290.4L991.9 1314L1012.4 1243.2L1032.9 1224.1L1053.4 1215.5L1074 1188.4L1094.5 1179.5L1115 1176.2L1135.5 1137.4L1156 1100.8L1176.6 1108.7L1197.1 1091.5L1217.6 1106L1238.1 1094.8L1238.1 1756.9Z"/>
<path fill="#df6675" d="M191.6 1756.9L191.6 1533.5L212.1 1533.4L232.6 1521.9L253.2 1509.9L273.7 1526L294.2 1541.7L314.7 1534.5L335.2 1534.4L355.8 1532.8L376.3 1526.2L396.8 1530.5L417.3 1546L437.8 1567.1L458.4 1578.8L478.9 1577L499.4 1562.4L519.9 1550.1L540.4 1552.5L561 1542.9L581.5 1543.4L602 1521.8L622.5 1513.4L643 1495.9L663.6 1502.7L684.1 1495.3L704.6 1493.3L725.1 1483.3L745.6 1466.5L766.2 1465.7L786.7 1447.5L807.2 1415.3L827.7 1416.6L848.2 1428.9L868.8 1410.4L889.3 1384.6L909.8 1358.7L930.3 1331.4L950.8 1309.1L971.4 1291.5L991.9 1314.9L1012.4 1244.3L1032.9 1225.2L1053.4 1216.5L1074 1189.4L1094.5 1180.6L1115 1177.4L1135.5 1138.7L1156 1102.1L1176.6 1110L1197.1 1092.8L1217.6 1107.3L1238.1 1096.2L1238.1 1756.9Z"/>
<path fill="#f1f6f7" d="M191.6 1756.9L191.6 1535.2L212.1 1535.1L232.6 1523.7L253.2 1511.8L273.7 1527.8L294.2 1543.4L314.7 1536.3L335.2 1536.2L355.8 1534.7L376.3 1528.2L396.8 1532.4L417.3 1547.8L437.8 1568.8L458.4 1580.4L478.9 1578.6L499.4 1564.1L519.9 1551.8L540.4 1554.1L561 1544.6L581.5 1545L602 1523.6L622.5 1515.1L643 1497.7L663.6 1504.4L684.1 1497L704.6 1494.9L725.1 1485L745.6 1468.3L766.2 1467.5L786.7 1449.4L807.2 1417.4L827.7 1418.3L848.2 1431.1L868.8 1412.9L889.3 1387.2L909.8 1361.4L930.3 1334.4L950.8 1312.4L971.4 1295L991.9 1317.6L1012.4 1247.7L1032.9 1228.5L1053.4 1219.7L1074 1192.6L1094.5 1184L1115 1181.2L1135.5 1142.4L1156 1105.8L1176.6 1113.8L1197.1 1096.7L1217.6 1111.2L1238.1 1100.6L1238.1 1756.9Z"/>
<path fill="#e2eef0" d="M191.6 1756.9L191.6 1535.2L212.1 1535.2L232.6 1523.7L253.2 1511.9L273.7 1527.9L294.2 1543.5L314.7 1536.4L335.2 1536.3L355.8 1534.7L376.3 1528.2L396.8 1532.5L417.3 1547.9L437.8 1568.9L458.4 1580.4L478.9 1578.6L499.4 1564.2L519.9 1551.9L540.4 1554.2L561 1544.7L581.5 1545.1L602 1523.7L622.5 1515.2L643 1497.8L663.6 1504.5L684.1 1497.1L704.6 1495L725.1 1485.1L745.6 1468.4L766.2 1467.6L786.7 1449.5L807.2 1417.5L827.7 1418.4L848.2 1431.2L868.8 1413L889.3 1387.3L909.8 1361.5L930.3 1334.5L950.8 1312.6L971.4 1295.2L991.9 1317.8L1012.4 1247.9L1032.9 1228.7L1053.4 1219.9L1074 1192.8L1094.5 1184.2L1115 1181.4L1135.5 1142.6L1156 1106L1176.6 1114L1197.1 1096.9L1217.6 1111.4L1238.1 1100.8L1238.1 1756.9Z"/>
<path fill="#d4e5e8" d="M191.6 1756.9L191.6 1535.3L212.1 1535.2L232.6 1523.8L253.2 1512L273.7 1528L294.2 1543.6L314.7 1536.4L335.2 1536.4L355.8 1534.8L376.3 1528.3L396.8 1532.5L417.3 1547.9L437.8 1568.9L458.4 1580.5L478.9 1578.7L499.4 1564.2L519.9 1551.9L540.4 1554.2L561 1544.8L581.5 1545.2L602 1523.7L622.5 1515.3L643 1497.9L663.6 1504.6L684.1 1497.2L704.6 1495.1L725.1 1485.1L745.6 1468.5L766.2 1467.7L786.7 1449.6L807.2 1417.6L827.7 1418.5L848.2 1431.3L868.8 1413.1L889.3 1387.4L909.8 1361.7L930.3 1334.7L950.8 1312.8L971.4 1295.4L991.9 1317.9L1012.4 1248.1L1032.9 1228.9L1053.4 1220.1L1074 1193L1094.5 1184.5L1115 1181.6L1135.5 1142.8L1156 1106.2L1176.6 1114.2L1197.1 1097.1L1217.6 1111.6L1238.1 1101L1238.1 1756.9Z"/>
<path fill="#c6dce0" d="M191.6 1756.9L191.6 1535.3L212.1 1535.3L232.6 1523.8L253.2 1512L273.7 1528L294.2 1543.6L314.7 1536.5L335.2 1536.4L355.8 1534.8L376.3 1528.3L396.8 1532.6L417.3 1548L437.8 1569L458.4 1580.5L478.9 1578.7L499.4 1564.3L519.9 1552L540.4 1554.3L561 1544.8L581.5 1545.2L602 1523.8L622.5 1515.3L643 1497.9L663.6 1504.6L684.1 1497.2L704.6 1495.2L725.1 1485.2L745.6 1468.5L766.2 1467.7L786.7 1449.7L807.2 1417.7L827.7 1418.5L848.2 1431.3L868.8 1413.2L889.3 1387.5L909.8 1361.7L930.3 1334.8L950.8 1312.8L971.4 1295.5L991.9 1318L1012.4 1248.3L1032.9 1229.1L1053.4 1220.3L1074 1193.1L1094.5 1184.6L1115 1181.7L1135.5 1142.9L1156 1106.3L1176.6 1114.3L1197.1 1097.2L1217.6 1111.7L1238.1 1101.1L1238.1 1756.9Z"/>
<path fill="#b8d4d9" d="M191.6 1756.9L191.6 1535.3L212.1 1535.3L232.6 1523.9L253.2 1512L273.7 1528L294.2 1543.6L314.7 1536.5L335.2 1536.4L355.8 1534.9L376.3 1528.4L396.8 1532.6L417.3 1548L437.8 1569L458.4 1580.5L478.9 1578.7L499.4 1564.3L519.9 1552L540.4 1554.3L561 1544.8L581.5 1545.2L602 1523.8L622.5 1515.4L643 1498L663.6 1504.6L684.1 1497.3L704.6 1495.2L725.1 1485.2L745.6 1468.6L766.2 1467.8L786.7 1449.7L807.2 1417.7L827.7 1418.6L848.2 1431.4L868.8 1413.2L889.3 1387.6L909.8 1361.8L930.3 1334.9L950.8 1312.9L971.4 1295.6L991.9 1318.1L1012.4 1248.4L1032.9 1229.2L1053.4 1220.4L1074 1193.2L1094.5 1184.7L1115 1181.8L1135.5 1143L1156 1106.4L1176.6 1114.4L1197.1 1097.3L1217.6 1111.8L1238.1 1101.2L1238.1 1756.9Z"/>
<path fill="#a9cbd1" d="M191.6 1756.9L191.6 1535.4L212.1 1535.3L232.6 1523.9L253.2 1512.1L273.7 1528.1L294.2 1543.6L314.7 1536.5L335.2 1536.5L355.8 1534.9L376.3 1528.4L396.8 1532.6L417.3 1548L437.8 1569L458.4 1580.6L478.9 1578.8L499.4 1564.3L519.9 1552L540.4 1554.3L561 1544.9L581.5 1545.3L602 1523.9L622.5 1515.4L643 1498L663.6 1504.7L684.1 1497.3L704.6 1495.3L725.1 1485.3L745.6 1468.6L766.2 1467.8L786.7 1449.8L807.2 1417.8L827.7 1418.6L848.2 1431.4L868.8 1413.3L889.3 1387.6L909.8 1361.9L930.3 1334.9L950.8 1313L971.4 1295.7L991.9 1318.2L1012.4 1248.5L1032.9 1229.3L1053.4 1220.5L1074 1193.4L1094.5 1184.8L1115 1181.9L1135.5 1143.1L1156 1106.5L1176.6 1114.5L1197.1 1097.4L1217.6 1111.9L1238.1 1101.3L1238.1 1756.9Z"/>
<path fill="#9bc3ca" d="M191.6 1756.9L191.6 1535.4L212.1 1535.4L232.6 1523.9L253.2 1512.1L273.7 1528.1L294.2 1543.7L314.7 1536.5L335.2 1536.5L355.8 1534.9L376.3 1528.4L396.8 1532.7L417.3 1548.1L437.8 1569L458.4 1580.6L478.9 1578.8L499.4 1564.3L519.9 1552.1L540.4 1554.4L561 1544.9L581.5 1545.3L602 1523.9L622.5 1515.5L643 1498.1L663.6 1504.7L684.1 1497.4L704.6 1495.3L725.1 1485.3L745.6 1468.6L766.2 1467.8L786.7 1449.8L807.2 1417.8L827.7 1418.7L848.2 1431.5L868.8 1413.3L889.3 1387.7L909.8 1362L930.3 1335L950.8 1313.1L971.4 1295.8L991.9 1318.3L1012.4 1248.6L1032.9 1229.4L1053.4 1220.6L1074 1193.5L1094.5 1184.9L1115 1182L1135.5 1143.2L1156 1106.6L1176.6 1114.6L1197.1 1097.5L1217.6 1112L1238.1 1101.4L1238.1 1756.9Z"/>
<path fill="#8dbac2" d="M191.6 1756.9L191.6 1535.5L212.1 1535.5L232.6 1524.1L253.2 1512.2L273.7 1528.2L294.2 1543.8L314.7 1536.7L335.2 1536.6L355.8 1535.1L376.3 1528.6L396.8 1532.8L417.3 1548.2L437.8 1569.2L458.4 1580.7L478.9 1578.9L499.4 1564.5L519.9 1552.2L540.4 1554.5L561 1545.1L581.5 1545.5L602 1524.1L622.5 1515.7L643 1498.3L663.6 1505L684.1 1497.6L704.6 1495.6L725.1 1485.6L745.6 1468.9L766.2 1468.2L786.7 1450.1L807.2 1418.2L827.7 1419.1L848.2 1431.9L868.8 1413.8L889.3 1388.2L909.8 1362.6L930.3 1335.7L950.8 1313.9L971.4 1296.7L991.9 1319.1L1012.4 1249.7L1032.9 1230.5L1053.4 1221.7L1074 1194.6L1094.5 1186L1115 1183.1L1135.5 1144.3L1156 1107.6L1176.6 1115.7L1197.1 1098.5L1217.6 1113L1238.1 1102.5L1238.1 1756.9Z"/>
<path fill="#7fb1ba" d="M191.6 1756.9L191.6 1535.6L212.1 1535.5L232.6 1524.1L253.2 1512.3L273.7 1528.3L294.2 1543.9L314.7 1536.7L335.2 1536.7L355.8 1535.1L376.3 1528.6L396.8 1532.9L417.3 1548.3L437.8 1569.2L458.4 1580.7L478.9 1579L499.4 1564.5L519.9 1552.3L540.4 1554.6L561 1545.1L581.5 1545.5L602 1524.2L622.5 1515.8L643 1498.4L663.6 1505.1L684.1 1497.7L704.6 1495.7L725.1 1485.7L745.6 1469L766.2 1468.2L786.7 1450.2L807.2 1418.3L827.7 1419.2L848.2 1432L868.8 1413.9L889.3 1388.4L909.8 1362.7L930.3 1335.9L950.8 1314.1L971.4 1296.9L991.9 1319.2L1012.4 1249.9L1032.9 1230.8L1053.4 1221.9L1074 1194.8L1094.5 1186.2L1115 1183.3L1135.5 1144.5L1156 1107.9L1176.6 1115.9L1197.1 1098.7L1217.6 1113.2L1238.1 1102.7L1238.1 1756.9Z"/>
<path fill="#70a9b3" d="M191.6 1756.9L191.6 1535.7L212.1 1535.7L232.6 1524.3L253.2 1512.5L273.7 1528.4L294.2 1544L314.7 1536.9L335.2 1536.8L355.8 1535.3L376.3 1528.8L396.8 1533L417.3 1548.4L437.8 1569.3L458.4 1580.9L478.9 1579.1L499.4 1564.7L519.9 1552.4L540.4 1554.7L561 1545.3L581.5 1545.7L602 1524.4L622.5 1516L643 1498.6L663.6 1505.3L684.1 1498L704.6 1496L725.1 1486L745.6 1469.3L766.2 1468.5L786.7 1450.5L807.2 1418.6L827.7 1419.5L848.2 1432.3L868.8 1414.4L889.3 1388.8L909.8 1363.2L930.3 1336.4L950.8 1314.8L971.4 1297.6L991.9 1319.9L1012.4 1250.8L1032.9 1231.7L1053.4 1222.8L1074 1195.7L1094.5 1187.1L1115 1184.2L1135.5 1145.4L1156 1108.7L1176.6 1116.7L1197.1 1099.6L1217.6 1114L1238.1 1103.6L1238.1 1756.9Z"/>
<path fill="#62a0ab" d="M191.6 1756.9L191.6 1536L212.1 1536L232.6 1524.6L253.2 1512.8L273.7 1528.8L294.2 1544.3L314.7 1537.2L335.2 1537.2L355.8 1535.6L376.3 1529.2L396.8 1533.4L417.3 1548.7L437.8 1569.7L458.4 1581.2L478.9 1579.4L499.4 1565L519.9 1552.8L540.4 1555.2L561 1545.8L581.5 1546.2L602 1524.9L622.5 1516.6L643 1499.3L663.6 1506L684.1 1498.7L704.6 1496.8L725.1 1486.7L745.6 1470L766.2 1469.3L786.7 1451.4L807.2 1419.7L827.7 1420.6L848.2 1433.4L868.8 1415.6L889.3 1390.2L909.8 1364.8L930.3 1338.2L950.8 1316.9L971.4 1300L991.9 1321.9L1012.4 1253.7L1032.9 1234.6L1053.4 1225.7L1074 1198.7L1094.5 1190L1115 1187L1135.5 1148.1L1156 1111.4L1176.6 1119.4L1197.1 1102.2L1217.6 1116.7L1238.1 1106.4L1238.1 1756.9Z"/>
<path fill="#b7d050" d="M191.6 1756.9L191.6 1546.4L212.1 1546.3L232.6 1535.5L253.2 1524.2L273.7 1539.4L294.2 1554.2L314.7 1547.4L335.2 1547.4L355.8 1545.9L376.3 1539.7L396.8 1543.7L417.3 1558.3L437.8 1578.3L458.4 1589.2L478.9 1587.6L499.4 1574L519.9 1562.4L540.4 1564.7L561 1555.9L581.5 1556.4L602 1536.2L622.5 1528.2L643 1511.7L663.6 1518.2L684.1 1512L704.6 1510.8L725.1 1499.4L745.6 1481.6L766.2 1480.9L786.7 1463.7L807.2 1432.9L827.7 1433.7L848.2 1446.2L868.8 1430.2L889.3 1406.1L909.8 1381.8L930.3 1357.3L950.8 1338.5L971.4 1323.6L991.9 1341.6L1012.4 1280.3L1032.9 1261.3L1053.4 1252.1L1074 1225.5L1094.5 1215.9L1115 1212.5L1135.5 1173L1156 1135.4L1176.6 1143.3L1197.1 1126L1217.6 1139.8L1238.1 1131.2L1238.1 1756.9Z"/>
<path fill="#f6d5be" d="M191.6 1756.9L191.6 1546.5L212.1 1546.4L232.6 1535.6L253.2 1524.3L273.7 1539.5L294.2 1554.3L314.7 1547.5L335.2 1547.4L355.8 1545.9L376.3 1539.8L396.8 1543.8L417.3 1558.4L437.8 1578.3L458.4 1589.3L478.9 1587.7L499.4 1574L519.9 1562.5L540.4 1564.8L561 1555.9L581.5 1556.4L602 1536.3L622.5 1528.3L643 1511.8L663.6 1518.3L684.1 1512.1L704.6 1510.8L725.1 1499.4L745.6 1481.7L766.2 1480.9L786.7 1463.7L807.2 1432.9L827.7 1433.7L848.2 1446.3L868.8 1430.3L889.3 1406.2L909.8 1381.9L930.3 1357.4L950.8 1338.6L971.4 1323.7L991.9 1341.7L1012.4 1280.4L1032.9 1261.4L1053.4 1252.2L1074 1225.7L1094.5 1216.1L1115 1212.7L1135.5 1173.3L1156 1135.6L1176.6 1143.5L1197.1 1126.2L1217.6 1140.1L1238.1 1131.5L1238.1 1756.9Z"/>
<path fill="#ecaa7c" d="M191.6 1756.9L191.6 1546.6L212.1 1546.6L232.6 1535.7L253.2 1524.5L273.7 1539.6L294.2 1554.4L314.7 1547.6L335.2 1547.6L355.8 1546.1L376.3 1539.9L396.8 1543.9L417.3 1558.5L437.8 1578.4L458.4 1589.4L478.9 1587.8L499.4 1574.2L519.9 1562.6L540.4 1564.9L561 1556.1L581.5 1556.5L602 1536.4L622.5 1528.4L643 1511.9L663.6 1518.4L684.1 1512.2L704.6 1510.9L725.1 1499.5L745.6 1481.8L766.2 1481.1L786.7 1463.8L807.2 1433L827.7 1433.8L848.2 1446.4L868.8 1430.4L889.3 1406.4L909.8 1382.1L930.3 1357.6L950.8 1338.9L971.4 1324L991.9 1341.9L1012.4 1280.5L1032.9 1261.6L1053.4 1252.5L1074 1226L1094.5 1216.5L1115 1213.1L1135.5 1173.7L1156 1136.1L1176.6 1143.9L1197.1 1126.7L1217.6 1140.6L1238.1 1132L1238.1 1756.9Z"/>
<path fill="#e3803b" d="M191.6 1756.9L191.6 1547L212.1 1546.9L232.6 1536.1L253.2 1524.8L273.7 1540L294.2 1554.7L314.7 1547.9L335.2 1547.8L355.8 1546.3L376.3 1540.2L396.8 1544.2L417.3 1558.7L437.8 1578.6L458.4 1589.6L478.9 1588L499.4 1574.4L519.9 1562.9L540.4 1565.2L561 1556.3L581.5 1556.8L602 1536.7L622.5 1528.7L643 1512.3L663.6 1518.7L684.1 1512.5L704.6 1511.2L725.1 1499.7L745.6 1482L766.2 1481.3L786.7 1464L807.2 1433.2L827.7 1434L848.2 1446.7L868.8 1430.7L889.3 1406.7L909.8 1382.5L930.3 1358L950.8 1339.3L971.4 1324.5L991.9 1342.2L1012.4 1280.9L1032.9 1262.1L1053.4 1253L1074 1226.7L1094.5 1217.2L1115 1213.9L1135.5 1174.5L1156 1136.9L1176.6 1144.8L1197.1 1127.7L1217.6 1141.6L1238.1 1133.2L1238.1 1756.9Z"/>
<path fill="#ced6e8" d="M191.6 1756.9L191.6 1547.3L212.1 1547.2L232.6 1536.4L253.2 1525.1L273.7 1540.3L294.2 1555L314.7 1548.2L335.2 1548.1L355.8 1546.6L376.3 1540.4L396.8 1544.4L417.3 1559L437.8 1578.8L458.4 1589.8L478.9 1588.2L499.4 1574.6L519.9 1563.1L540.4 1565.4L561 1556.6L581.5 1557.1L602 1537L622.5 1529L643 1512.6L663.6 1519L684.1 1512.7L704.6 1511.4L725.1 1499.9L745.6 1482.2L766.2 1481.5L786.7 1464.3L807.2 1433.4L827.7 1434.2L848.2 1447L868.8 1431L889.3 1407.1L909.8 1382.9L930.3 1358.4L950.8 1339.8L971.4 1325L991.9 1342.6L1012.4 1281.2L1032.9 1262.5L1053.4 1253.5L1074 1227.3L1094.5 1218L1115 1214.8L1135.5 1175.4L1156 1137.7L1176.6 1145.7L1197.1 1128.6L1217.6 1142.5L1238.1 1134.3L1238.1 1756.9Z"/>
<path fill="#9dadd2" d="M191.6 1756.9L191.6 1547.3L212.1 1547.3L232.6 1536.4L253.2 1525.2L273.7 1540.3L294.2 1555L314.7 1548.2L335.2 1548.2L355.8 1546.7L376.3 1540.5L396.8 1544.5L417.3 1559L437.8 1578.9L458.4 1589.8L478.9 1588.2L499.4 1574.6L519.9 1563.1L540.4 1565.4L561 1556.6L581.5 1557.1L602 1537L622.5 1529.1L643 1512.6L663.6 1519L684.1 1512.8L704.6 1511.4L725.1 1500L745.6 1482.2L766.2 1481.6L786.7 1464.3L807.2 1433.4L827.7 1434.3L848.2 1447L868.8 1431.1L889.3 1407.1L909.8 1382.9L930.3 1358.4L950.8 1339.9L971.4 1325.1L991.9 1342.6L1012.4 1281.2L1032.9 1262.6L1053.4 1253.6L1074 1227.4L1094.5 1218.1L1115 1214.9L1135.5 1175.5L1156 1137.8L1176.6 1145.8L1197.1 1128.7L1217.6 1142.7L1238.1 1134.4L1238.1 1756.9Z"/>
<path fill="#6c84bc" d="M191.6 1756.9L191.6 1547.4L212.1 1547.3L232.6 1536.5L253.2 1525.2L273.7 1540.3L294.2 1555.1L314.7 1548.3L335.2 1548.2L355.8 1546.7L376.3 1540.5L396.8 1544.5L417.3 1559L437.8 1578.9L458.4 1589.8L478.9 1588.2L499.4 1574.7L519.9 1563.2L540.4 1565.5L561 1556.6L581.5 1557.1L602 1537.1L622.5 1529.1L643 1512.7L663.6 1519L684.1 1512.8L704.6 1511.4L725.1 1500L745.6 1482.3L766.2 1481.6L786.7 1464.3L807.2 1433.5L827.7 1434.3L848.2 1447L868.8 1431.1L889.3 1407.1L909.8 1383L930.3 1358.5L950.8 1339.9L971.4 1325.1L991.9 1342.7L1012.4 1281.3L1032.9 1262.6L1053.4 1253.6L1074 1227.5L1094.5 1218.1L1115 1215L1135.5 1175.6L1156 1137.9L1176.6 1145.9L1197.1 1128.8L1217.6 1142.8L1238.1 1134.6L1238.1 1756.9Z"/>
<path fill="#3b5ba5" d="M191.6 1756.9L191.6 1547.4L212.1 1547.3L232.6 1536.5L253.2 1525.3L273.7 1540.4L294.2 1555.1L314.7 1548.3L335.2 1548.2L355.8 1546.7L376.3 1540.5L396.8 1544.5L417.3 1559.1L437.8 1578.9L458.4 1589.8L478.9 1588.2L499.4 1574.7L519.9 1563.2L540.4 1565.5L561 1556.7L581.5 1557.2L602 1537.1L622.5 1529.1L643 1512.7L663.6 1519.1L684.1 1512.8L704.6 1511.5L725.1 1500L745.6 1482.3L766.2 1481.6L786.7 1464.3L807.2 1433.5L827.7 1434.3L848.2 1447.1L868.8 1431.2L889.3 1407.2L909.8 1383L930.3 1358.6L950.8 1340L971.4 1325.2L991.9 1342.7L1012.4 1281.3L1032.9 1262.7L1053.4 1253.7L1074 1227.5L1094.5 1218.2L1115 1215.1L1135.5 1175.7L1156 1138.1L1176.6 1146L1197.1 1129L1217.6 1142.9L1238.1 1134.7L1238.1 1756.9Z"/>
<path fill="#f6f3f2" d="M191.6 1756.9L191.6 1547.6L212.1 1547.5L232.6 1536.7L253.2 1525.4L273.7 1540.5L294.2 1555.2L314.7 1548.5L335.2 1548.4L355.8 1546.9L376.3 1540.7L396.8 1544.7L417.3 1559.2L437.8 1579L458.4 1589.9L478.9 1588.3L499.4 1574.8L519.9 1563.3L540.4 1565.6L561 1556.8L581.5 1557.3L602 1537.3L622.5 1529.3L643 1512.9L663.6 1519.2L684.1 1512.9L704.6 1511.6L725.1 1500.1L745.6 1482.4L766.2 1481.8L786.7 1464.4L807.2 1433.6L827.7 1434.4L848.2 1447.2L868.8 1431.3L889.3 1407.4L909.8 1383.2L930.3 1358.8L950.8 1340.2L971.4 1325.4L991.9 1342.9L1012.4 1281.5L1032.9 1262.9L1053.4 1254L1074 1227.9L1094.5 1218.6L1115 1215.5L1135.5 1176.1L1156 1138.5L1176.6 1146.5L1197.1 1129.4L1217.6 1143.4L1238.1 1135.3L1238.1 1756.9Z"/>
<path fill="#eee8e4" d="M191.6 1756.9L191.6 1547.7L212.1 1547.6L232.6 1536.8L253.2 1525.6L273.7 1540.7L294.2 1555.3L314.7 1548.6L335.2 1548.5L355.8 1547L376.3 1540.8L396.8 1544.8L417.3 1559.3L437.8 1579.1L458.4 1590L478.9 1588.4L499.4 1574.9L519.9 1563.4L540.4 1565.7L561 1556.9L581.5 1557.4L602 1537.4L622.5 1529.4L643 1513L663.6 1519.3L684.1 1513L704.6 1511.6L725.1 1500.2L745.6 1482.5L766.2 1481.8L786.7 1464.5L807.2 1433.6L827.7 1434.5L848.2 1447.3L868.8 1431.4L889.3 1407.5L909.8 1383.3L930.3 1358.9L950.8 1340.4L971.4 1325.6L991.9 1343L1012.4 1281.6L1032.9 1263L1053.4 1254.2L1074 1228.1L1094.5 1218.9L1115 1215.8L1135.5 1176.4L1156 1138.8L1176.6 1146.8L1197.1 1129.8L1217.6 1143.8L1238.1 1135.7L1238.1 1756.9Z"/>
<path fill="#e6dcd7" d="M191.6 1756.9L191.6 1547.8L212.1 1547.7L232.6 1536.9L253.2 1525.7L273.7 1540.8L294.2 1555.5L314.7 1548.7L335.2 1548.6L355.8 1547.1L376.3 1540.9L396.8 1544.9L417.3 1559.4L437.8 1579.2L458.4 1590.1L478.9 1588.5L499.4 1575L519.9 1563.5L540.4 1565.8L561 1557L581.5 1557.5L602 1537.5L622.5 1529.5L643 1513.1L663.6 1519.4L684.1 1513.1L704.6 1511.7L725.1 1500.3L745.6 1482.6L766.2 1481.9L786.7 1464.6L807.2 1433.7L827.7 1434.6L848.2 1447.4L868.8 1431.6L889.3 1407.6L909.8 1383.5L930.3 1359.1L950.8 1340.6L971.4 1325.8L991.9 1343.1L1012.4 1281.7L1032.9 1263.2L1053.4 1254.4L1074 1228.4L1094.5 1219.2L1115 1216.1L1135.5 1176.7L1156 1139.1L1176.6 1147.2L1197.1 1130.1L1217.6 1144.1L1238.1 1136.1L1238.1 1756.9Z"/>
<path fill="#ddd0ca" d="M191.6 1756.9L191.6 1547.9L212.1 1547.9L232.6 1537L253.2 1525.8L273.7 1540.9L294.2 1555.6L314.7 1548.8L335.2 1548.7L355.8 1547.2L376.3 1541L396.8 1545L417.3 1559.5L437.8 1579.3L458.4 1590.2L478.9 1588.6L499.4 1575L519.9 1563.6L540.4 1565.9L561 1557.1L581.5 1557.6L602 1537.6L622.5 1529.6L643 1513.2L663.6 1519.5L684.1 1513.2L704.6 1511.8L725.1 1500.4L745.6 1482.6L766.2 1482L786.7 1464.7L807.2 1433.8L827.7 1434.6L848.2 1447.5L868.8 1431.7L889.3 1407.8L909.8 1383.6L930.3 1359.2L950.8 1340.8L971.4 1326L991.9 1343.2L1012.4 1281.9L1032.9 1263.4L1053.4 1254.6L1074 1228.6L1094.5 1219.4L1115 1216.5L1135.5 1177L1156 1139.4L1176.6 1147.5L1197.1 1130.5L1217.6 1144.5L1238.1 1136.5L1238.1 1756.9Z"/>
<path fill="#d4c5bc" d="M191.6 1756.9L191.6 1548.1L212.1 1548L232.6 1537.2L253.2 1526L273.7 1541L294.2 1555.7L314.7 1548.9L335.2 1548.8L355.8 1547.3L376.3 1541.1L396.8 1545.1L417.3 1559.6L437.8 1579.3L458.4 1590.2L478.9 1588.6L499.4 1575.1L519.9 1563.7L540.4 1566L561 1557.2L581.5 1557.7L602 1537.7L622.5 1529.7L643 1513.4L663.6 1519.6L684.1 1513.3L704.6 1511.9L725.1 1500.4L745.6 1482.7L766.2 1482.1L786.7 1464.8L807.2 1433.9L827.7 1434.7L848.2 1447.6L868.8 1431.8L889.3 1407.9L909.8 1383.8L930.3 1359.4L950.8 1340.9L971.4 1326.2L991.9 1343.4L1012.4 1282L1032.9 1263.5L1053.4 1254.8L1074 1228.8L1094.5 1219.7L1115 1216.8L1135.5 1177.4L1156 1139.7L1176.6 1147.8L1197.1 1130.8L1217.6 1144.9L1238.1 1136.9L1238.1 1756.9Z"/>
<path fill="#ccb9af" d="M191.6 1756.9L191.6 1548.2L212.1 1548.1L232.6 1537.3L253.2 1526.1L273.7 1541.1L294.2 1555.8L314.7 1549L335.2 1548.9L355.8 1547.4L376.3 1541.2L396.8 1545.2L417.3 1559.7L437.8 1579.4L458.4 1590.3L478.9 1588.7L499.4 1575.2L519.9 1563.8L540.4 1566.1L561 1557.3L581.5 1557.8L602 1537.8L622.5 1529.9L643 1513.5L663.6 1519.7L684.1 1513.4L704.6 1512L725.1 1500.5L745.6 1482.8L766.2 1482.2L786.7 1464.8L807.2 1433.9L827.7 1434.8L848.2 1447.7L868.8 1431.9L889.3 1408L909.8 1383.9L930.3 1359.5L950.8 1341.1L971.4 1326.4L991.9 1343.5L1012.4 1282.1L1032.9 1263.7L1053.4 1255L1074 1229.1L1094.5 1220L1115 1217.1L1135.5 1177.7L1156 1140L1176.6 1148.2L1197.1 1131.2L1217.6 1145.2L1238.1 1137.4L1238.1 1756.9Z"/>
<path fill="#c4aea2" d="M191.6 1756.9L191.6 1548.3L212.1 1548.2L232.6 1537.4L253.2 1526.2L273.7 1541.2L294.2 1555.9L314.7 1549.1L335.2 1549L355.8 1547.5L376.3 1541.3L396.8 1545.3L417.3 1559.7L437.8 1579.5L458.4 1590.4L478.9 1588.8L499.4 1575.3L519.9 1563.8L540.4 1566.1L561 1557.4L581.5 1557.9L602 1537.9L622.5 1530L643 1513.6L663.6 1519.8L684.1 1513.5L704.6 1512L725.1 1500.6L745.6 1482.9L766.2 1482.3L786.7 1464.9L807.2 1434L827.7 1434.9L848.2 1447.8L868.8 1432L889.3 1408.1L909.8 1384L930.3 1359.7L950.8 1341.3L971.4 1326.6L991.9 1343.6L1012.4 1282.2L1032.9 1263.9L1053.4 1255.2L1074 1229.3L1094.5 1220.3L1115 1217.4L1135.5 1178L1156 1140.4L1176.6 1148.5L1197.1 1131.6L1217.6 1145.6L1238.1 1137.8L1238.1 1756.9Z"/>
<path fill="#bba294" d="M191.6 1756.9L191.6 1548.4L212.1 1548.3L232.6 1537.5L253.2 1526.3L273.7 1541.4L294.2 1556L314.7 1549.2L335.2 1549.1L355.8 1547.6L376.3 1541.4L396.8 1545.4L417.3 1559.8L437.8 1579.6L458.4 1590.4L478.9 1588.9L499.4 1575.4L519.9 1563.9L540.4 1566.2L561 1557.5L581.5 1558L602 1538L622.5 1530.1L643 1513.7L663.6 1519.9L684.1 1513.6L704.6 1512.1L725.1 1500.7L745.6 1483L766.2 1482.4L786.7 1465L807.2 1434.1L827.7 1434.9L848.2 1448L868.8 1432.1L889.3 1408.3L909.8 1384.2L930.3 1359.9L950.8 1341.5L971.4 1326.8L991.9 1343.8L1012.4 1282.4L1032.9 1264L1053.4 1255.4L1074 1229.6L1094.5 1220.5L1115 1217.7L1135.5 1178.3L1156 1140.7L1176.6 1148.8L1197.1 1131.9L1217.6 1146L1238.1 1138.2L1238.1 1756.9Z"/>
<path fill="#b29687" d="M191.6 1756.9L191.6 1548.6L212.1 1548.4L232.6 1537.7L253.2 1526.5L273.7 1541.5L294.2 1556.1L314.7 1549.3L335.2 1549.2L355.8 1547.7L376.3 1541.5L396.8 1545.5L417.3 1559.9L437.8 1579.7L458.4 1590.5L478.9 1588.9L499.4 1575.5L519.9 1564L540.4 1566.3L561 1557.6L581.5 1558.1L602 1538.1L622.5 1530.2L643 1513.8L663.6 1520L684.1 1513.7L704.6 1512.2L725.1 1500.8L745.6 1483L766.2 1482.5L786.7 1465.1L807.2 1434.1L827.7 1435L848.2 1448.1L868.8 1432.3L889.3 1408.4L909.8 1384.3L930.3 1360L950.8 1341.7L971.4 1327L991.9 1343.9L1012.4 1282.5L1032.9 1264.2L1053.4 1255.6L1074 1229.8L1094.5 1220.8L1115 1218L1135.5 1178.6L1156 1141L1176.6 1149.2L1197.1 1132.3L1217.6 1146.3L1238.1 1138.6L1238.1 1756.9Z"/>
<path fill="#aa8b79" d="M191.6 1756.9L191.6 1548.7L212.1 1548.6L232.6 1537.8L253.2 1526.6L273.7 1541.6L294.2 1556.2L314.7 1549.4L335.2 1549.3L355.8 1547.8L376.3 1541.6L396.8 1545.6L417.3 1560L437.8 1579.7L458.4 1590.6L478.9 1589L499.4 1575.5L519.9 1564.1L540.4 1566.4L561 1557.7L581.5 1558.2L602 1538.2L622.5 1530.3L643 1514L663.6 1520.1L684.1 1513.8L704.6 1512.3L725.1 1500.8L745.6 1483.1L766.2 1482.6L786.7 1465.2L807.2 1434.2L827.7 1435.1L848.2 1448.2L868.8 1432.4L889.3 1408.5L909.8 1384.5L930.3 1360.2L950.8 1341.8L971.4 1327.2L991.9 1344L1012.4 1282.6L1032.9 1264.4L1053.4 1255.8L1074 1230.1L1094.5 1221.1L1115 1218.3L1135.5 1178.9L1156 1141.3L1176.6 1149.5L1197.1 1132.6L1217.6 1146.7L1238.1 1139L1238.1 1756.9Z"/>
<path fill="#a27f6c" d="M191.6 1756.9L191.6 1548.8L212.1 1548.7L232.6 1537.9L253.2 1526.7L273.7 1541.7L294.2 1556.3L314.7 1549.5L335.2 1549.4L355.8 1547.9L376.3 1541.7L396.8 1545.7L417.3 1560.1L437.8 1579.8L458.4 1590.7L478.9 1589.1L499.4 1575.6L519.9 1564.2L540.4 1566.5L561 1557.8L581.5 1558.3L602 1538.3L622.5 1530.4L643 1514.1L663.6 1520.2L684.1 1513.9L704.6 1512.4L725.1 1500.9L745.6 1483.2L766.2 1482.7L786.7 1465.2L807.2 1434.3L827.7 1435.1L848.2 1448.3L868.8 1432.5L889.3 1408.7L909.8 1384.6L930.3 1360.3L950.8 1342L971.4 1327.4L991.9 1344.1L1012.4 1282.7L1032.9 1264.5L1053.4 1256L1074 1230.3L1094.5 1221.4L1115 1218.6L1135.5 1179.2L1156 1141.6L1176.6 1149.8L1197.1 1133L1217.6 1147.1L1238.1 1139.5L1238.1 1756.9Z"/>
<path fill="#99735f" d="M191.6 1756.9L191.6 1548.9L212.1 1548.8L232.6 1538L253.2 1526.8L273.7 1541.8L294.2 1556.4L314.7 1549.6L335.2 1549.5L355.8 1548L376.3 1541.8L396.8 1545.8L417.3 1560.2L437.8 1579.9L458.4 1590.7L478.9 1589.2L499.4 1575.7L519.9 1564.3L540.4 1566.6L561 1557.9L581.5 1558.4L602 1538.5L622.5 1530.5L643 1514.2L663.6 1520.3L684.1 1514L704.6 1512.5L725.1 1501L745.6 1483.3L766.2 1482.7L786.7 1465.3L807.2 1434.3L827.7 1435.2L848.2 1448.4L868.8 1432.6L889.3 1408.8L909.8 1384.7L930.3 1360.5L950.8 1342.2L971.4 1327.6L991.9 1344.3L1012.4 1282.9L1032.9 1264.7L1053.4 1256.2L1074 1230.6L1094.5 1221.7L1115 1219L1135.5 1179.6L1156 1141.9L1176.6 1150.2L1197.1 1133.3L1217.6 1147.5L1238.1 1139.9L1238.1 1756.9Z"/>
<path fill="#906851" d="M191.6 1756.9L191.6 1549L212.1 1548.9L232.6 1538.2L253.2 1527L273.7 1541.9L294.2 1556.5L314.7 1549.8L335.2 1549.6L355.8 1548.1L376.3 1541.9L396.8 1545.9L417.3 1560.3L437.8 1580L458.4 1590.8L478.9 1589.2L499.4 1575.8L519.9 1564.4L540.4 1566.7L561 1557.9L581.5 1558.5L602 1538.6L622.5 1530.6L643 1514.3L663.6 1520.4L684.1 1514.1L704.6 1512.5L725.1 1501.1L745.6 1483.4L766.2 1482.8L786.7 1465.4L807.2 1434.4L827.7 1435.3L848.2 1448.5L868.8 1432.7L889.3 1408.9L909.8 1384.9L930.3 1360.6L950.8 1342.4L971.4 1327.8L991.9 1344.4L1012.4 1283L1032.9 1264.8L1053.4 1256.4L1074 1230.8L1094.5 1221.9L1115 1219.3L1135.5 1179.9L1156 1142.2L1176.6 1150.5L1197.1 1133.7L1217.6 1147.8L1238.1 1140.3L1238.1 1756.9Z"/>
<path fill="#885c44" d="M191.6 1756.9L191.6 1549.2L212.1 1549L232.6 1538.3L253.2 1527.1L273.7 1542.1L294.2 1556.6L314.7 1549.9L335.2 1549.7L355.8 1548.2L376.3 1542L396.8 1546L417.3 1560.4L437.8 1580.1L458.4 1590.9L478.9 1589.3L499.4 1575.9L519.9 1564.5L540.4 1566.8L561 1558L581.5 1558.6L602 1538.7L622.5 1530.8L643 1514.5L663.6 1520.5L684.1 1514.2L704.6 1512.6L725.1 1501.2L745.6 1483.5L766.2 1482.9L786.7 1465.5L807.2 1434.5L827.7 1435.4L848.2 1448.6L868.8 1432.9L889.3 1409.1L909.8 1385L930.3 1360.8L950.8 1342.5L971.4 1328L991.9 1344.5L1012.4 1283.1L1032.9 1265L1053.4 1256.6L1074 1231L1094.5 1222.2L1115 1219.6L1135.5 1180.2L1156 1142.5L1176.6 1150.8L1197.1 1134L1217.6 1148.2L1238.1 1140.7L1238.1 1756.9Z"/>
<path fill="#edd7b6" d="M191.6 1756.9L191.6 1549.3L212.1 1549.2L232.6 1538.4L253.2 1527.2L273.7 1542.2L294.2 1556.7L314.7 1550L335.2 1549.8L355.8 1548.3L376.3 1542.1L396.8 1546.1L417.3 1560.5L437.8 1580.1L458.4 1591L478.9 1589.4L499.4 1575.9L519.9 1564.6L540.4 1566.9L561 1558.1L581.5 1558.7L602 1538.8L622.5 1530.9L643 1514.6L663.6 1520.6L684.1 1514.2L704.6 1512.7L725.1 1501.2L745.6 1483.5L766.2 1483L786.7 1465.6L807.2 1434.5L827.7 1435.4L848.2 1448.7L868.8 1433L889.3 1409.2L909.8 1385.2L930.3 1360.9L950.8 1342.7L971.4 1328.2L991.9 1344.6L1012.4 1283.2L1032.9 1265.2L1053.4 1256.8L1074 1231.3L1094.5 1222.5L1115 1219.9L1135.5 1180.5L1156 1142.9L1176.6 1151.2L1197.1 1134.4L1217.6 1148.6L1238.1 1141.1L1238.1 1756.9Z"/>
<path fill="#dbae6c" d="M191.6 1756.9L191.6 1549.6L212.1 1549.5L232.6 1538.7L253.2 1527.6L273.7 1542.5L294.2 1557L314.7 1550.3L335.2 1550.2L355.8 1548.6L376.3 1542.5L396.8 1546.4L417.3 1560.8L437.8 1580.4L458.4 1591.2L478.9 1589.7L499.4 1576.2L519.9 1564.9L540.4 1567.2L561 1558.4L581.5 1559L602 1539.1L622.5 1531.2L643 1514.9L663.6 1521L684.1 1514.6L704.6 1513.1L725.1 1501.7L745.6 1484L766.2 1483.4L786.7 1466L807.2 1435.1L827.7 1436L848.2 1449.3L868.8 1433.6L889.3 1409.9L909.8 1385.9L930.3 1361.8L950.8 1343.6L971.4 1329.2L991.9 1345.4L1012.4 1284.3L1032.9 1266.2L1053.4 1257.8L1074 1232.4L1094.5 1223.6L1115 1221.1L1135.5 1181.9L1156 1144.3L1176.6 1152.6L1197.1 1135.8L1217.6 1149.9L1238.1 1142.6L1238.1 1756.9Z"/>
<path fill="#c98623" d="M191.6 1756.9L191.6 1551.3L212.1 1551.2L232.6 1540.5L253.2 1529.4L273.7 1544.2L294.2 1558.7L314.7 1552L335.2 1551.8L355.8 1550.3L376.3 1544.2L396.8 1548.1L417.3 1562.4L437.8 1581.9L458.4 1592.6L478.9 1591L499.4 1577.7L519.9 1566.4L540.4 1568.6L561 1559.9L581.5 1560.4L602 1540.7L622.5 1532.8L643 1516.6L663.6 1522.7L684.1 1516.5L704.6 1515.1L725.1 1503.7L745.6 1486.2L766.2 1485.2L786.7 1468L807.2 1437.3L827.7 1438.2L848.2 1451.8L868.8 1436.4L889.3 1412.8L909.8 1389L930.3 1365.1L950.8 1347.3L971.4 1333.1L991.9 1348.5L1012.4 1288.2L1032.9 1270.3L1053.4 1262L1074 1236.8L1094.5 1228.1L1115 1225.7L1135.5 1187L1156 1150L1176.6 1158.2L1197.1 1141.2L1217.6 1155.1L1238.1 1148L1238.1 1756.9Z"/>
<path fill="#c6ccd0" d="M191.6 1756.9L191.6 1553.4L212.1 1553.3L232.6 1542.7L253.2 1531.8L273.7 1546.4L294.2 1560.7L314.7 1554.1L335.2 1554L355.8 1552.5L376.3 1546.5L396.8 1550.3L417.3 1564.4L437.8 1583.7L458.4 1594.3L478.9 1592.8L499.4 1579.5L519.9 1568.3L540.4 1570.6L561 1562L581.5 1562.4L602 1542.9L622.5 1535L643 1518.9L663.6 1525L684.1 1519.1L704.6 1517.9L725.1 1506.6L745.6 1489.3L766.2 1487.9L786.7 1471L807.2 1440.7L827.7 1441.7L848.2 1455.8L868.8 1440.9L889.3 1417.6L909.8 1394L930.3 1370.6L950.8 1353.6L971.4 1339.8L991.9 1353.9L1012.4 1295.1L1032.9 1277.5L1053.4 1269.3L1074 1244.5L1094.5 1236L1115 1233.9L1135.5 1196.2L1156 1160.2L1176.6 1168L1197.1 1150.9L1217.6 1164.3L1238.1 1157.7L1238.1 1756.9Z"/>
<path fill="#8e99a2" d="M191.6 1756.9L191.6 1553.5L212.1 1553.4L232.6 1542.9L253.2 1532L273.7 1546.6L294.2 1560.9L314.7 1554.3L335.2 1554.2L355.8 1552.7L376.3 1546.7L396.8 1550.5L417.3 1564.6L437.8 1583.9L458.4 1594.5L478.9 1592.9L499.4 1579.7L519.9 1568.5L540.4 1570.7L561 1562.1L581.5 1562.6L602 1543.1L622.5 1535.2L643 1519.1L663.6 1525.2L684.1 1519.3L704.6 1518.1L725.1 1506.8L745.6 1489.5L766.2 1488.1L786.7 1471.2L807.2 1441L827.7 1441.9L848.2 1456L868.8 1441.1L889.3 1417.8L909.8 1394.3L930.3 1370.9L950.8 1353.8L971.4 1340.1L991.9 1354.1L1012.4 1295.5L1032.9 1277.9L1053.4 1269.7L1074 1244.9L1094.5 1236.4L1115 1234.3L1135.5 1196.6L1156 1160.6L1176.6 1168.5L1197.1 1151.3L1217.6 1164.8L1238.1 1158.1L1238.1 1756.9Z"/>
<path fill="#556673" d="M191.6 1756.9L191.6 1553.6L212.1 1553.5L232.6 1543L253.2 1532L273.7 1546.7L294.2 1560.9L314.7 1554.3L335.2 1554.2L355.8 1552.7L376.3 1546.7L396.8 1550.6L417.3 1564.7L437.8 1583.9L458.4 1594.5L478.9 1593L499.4 1579.8L519.9 1568.6L540.4 1570.8L561 1562.2L581.5 1562.7L602 1543.1L622.5 1535.3L643 1519.2L663.6 1525.3L684.1 1519.4L704.6 1518.2L725.1 1506.9L745.6 1489.6L766.2 1488.2L786.7 1471.3L807.2 1441L827.7 1442L848.2 1456.1L868.8 1441.2L889.3 1417.9L909.8 1394.4L930.3 1371L950.8 1353.9L971.4 1340.2L991.9 1354.2L1012.4 1295.6L1032.9 1278L1053.4 1269.8L1074 1245L1094.5 1236.5L1115 1234.5L1135.5 1196.8L1156 1160.8L1176.6 1168.6L1197.1 1151.4L1217.6 1164.9L1238.1 1158.3L1238.1 1756.9Z"/>
<path fill="#c2c2db" d="M191.6 1756.9L191.6 1558.9L212.1 1558.8L232.6 1548.7L253.2 1538.1L273.7 1552.4L294.2 1566.3L314.7 1560L335.2 1560L355.8 1558.6L376.3 1552.8L396.8 1556.6L417.3 1570.3L437.8 1589.1L458.4 1599.4L478.9 1597.9L499.4 1585.1L519.9 1574.2L540.4 1576.4L561 1568L581.5 1568.5L602 1549.5L622.5 1541.8L643 1526.1L663.6 1531.6L684.1 1525.9L704.6 1524.6L725.1 1513.3L745.6 1496.2L766.2 1494.9L786.7 1477.9L807.2 1447.6L827.7 1448.6L848.2 1463L868.8 1448.6L889.3 1425.6L909.8 1402.1L930.3 1379.1L950.8 1362.6L971.4 1349L991.9 1362.1L1012.4 1307L1032.9 1289.6L1053.4 1281.3L1074 1256.8L1094.5 1248.7L1115 1247.1L1135.5 1209.8L1156 1174.2L1176.6 1181.9L1197.1 1164.5L1217.6 1177.6L1238.1 1171.8L1238.1 1756.9Z"/>
<path fill="#8485b7" d="M191.6 1756.9L191.6 1559L212.1 1558.9L232.6 1548.8L253.2 1538.2L273.7 1552.5L294.2 1566.4L314.7 1560.1L335.2 1560L355.8 1558.6L376.3 1552.9L396.8 1556.6L417.3 1570.4L437.8 1589.1L458.4 1599.5L478.9 1597.9L499.4 1585.1L519.9 1574.3L540.4 1576.4L561 1568.1L581.5 1568.5L602 1549.6L622.5 1541.9L643 1526.2L663.6 1531.7L684.1 1525.9L704.6 1524.6L725.1 1513.3L745.6 1496.3L766.2 1495L786.7 1478L807.2 1447.7L827.7 1448.6L848.2 1463.1L868.8 1448.7L889.3 1425.6L909.8 1402.1L930.3 1379.1L950.8 1362.6L971.4 1349.1L991.9 1362.2L1012.4 1307L1032.9 1289.6L1053.4 1281.4L1074 1256.9L1094.5 1248.7L1115 1247.2L1135.5 1209.9L1156 1174.3L1176.6 1181.9L1197.1 1164.6L1217.6 1177.7L1238.1 1171.9L1238.1 1756.9Z"/>
<path fill="#474893" d="M191.6 1756.9L191.6 1559.1L212.1 1559L232.6 1548.8L253.2 1538.3L273.7 1552.6L294.2 1566.5L314.7 1560.1L335.2 1560.1L355.8 1558.7L376.3 1552.9L396.8 1556.7L417.3 1570.5L437.8 1589.2L458.4 1599.5L478.9 1598L499.4 1585.2L519.9 1574.3L540.4 1576.5L561 1568.2L581.5 1568.6L602 1549.7L622.5 1541.9L643 1526.2L663.6 1531.8L684.1 1526L704.6 1524.7L725.1 1513.4L745.6 1496.3L766.2 1495.1L786.7 1478L807.2 1447.7L827.7 1448.7L848.2 1463.1L868.8 1448.7L889.3 1425.7L909.8 1402.2L930.3 1379.2L950.8 1362.7L971.4 1349.1L991.9 1362.2L1012.4 1307.1L1032.9 1289.7L1053.4 1281.5L1074 1257L1094.5 1248.8L1115 1247.3L1135.5 1210L1156 1174.4L1176.6 1182L1197.1 1164.7L1217.6 1177.8L1238.1 1172L1238.1 1756.9Z"/>
<path fill="#ded0cc" d="M191.6 1756.9L191.6 1559.4L212.1 1559.3L232.6 1549.2L253.2 1538.6L273.7 1552.9L294.2 1566.8L314.7 1560.4L335.2 1560.4L355.8 1559L376.3 1553.2L396.8 1557L417.3 1570.7L437.8 1589.4L458.4 1599.7L478.9 1598.2L499.4 1585.4L519.9 1574.6L540.4 1576.7L561 1568.4L581.5 1568.8L602 1549.9L622.5 1542.2L643 1526.5L663.6 1532L684.1 1526.2L704.6 1524.9L725.1 1513.7L745.6 1496.6L766.2 1495.4L786.7 1478.3L807.2 1448L827.7 1449L848.2 1463.4L868.8 1449L889.3 1425.9L909.8 1402.4L930.3 1379.4L950.8 1362.9L971.4 1349.4L991.9 1362.5L1012.4 1307.4L1032.9 1290L1053.4 1281.7L1074 1257.2L1094.5 1249.1L1115 1247.6L1135.5 1210.4L1156 1174.7L1176.6 1182.4L1197.1 1165.1L1217.6 1178.2L1238.1 1172.4L1238.1 1756.9Z"/>
<path fill="#bca09a" d="M191.6 1756.9L191.6 1560.2L212.1 1560.2L232.6 1550L253.2 1539.5L273.7 1553.7L294.2 1567.5L314.7 1561.2L335.2 1561.1L355.8 1559.7L376.3 1553.9L396.8 1557.7L417.3 1571.3L437.8 1590L458.4 1600.2L478.9 1598.7L499.4 1586L519.9 1575.2L540.4 1577.3L561 1569L581.5 1569.5L602 1550.6L622.5 1542.9L643 1527.3L663.6 1532.7L684.1 1526.9L704.6 1525.5L725.1 1514.4L745.6 1497.6L766.2 1496.3L786.7 1479.2L807.2 1449L827.7 1449.9L848.2 1464.3L868.8 1449.9L889.3 1426.9L909.8 1403.4L930.3 1380.4L950.8 1364L971.4 1350.4L991.9 1363.3L1012.4 1308.6L1032.9 1291.2L1053.4 1282.9L1074 1258.4L1094.5 1250.5L1115 1249.2L1135.5 1212.1L1156 1176.6L1176.6 1184.3L1197.1 1167L1217.6 1180.1L1238.1 1174.5L1238.1 1756.9Z"/>
<path fill="#fbf4f1" d="M191.6 1756.9L191.6 1562.3L212.1 1562.2L232.6 1552.1L253.2 1541.6L273.7 1555.7L294.2 1569.3L314.7 1563L335.2 1562.9L355.8 1561.5L376.3 1555.8L396.8 1559.4L417.3 1573L437.8 1591.4L458.4 1601.5L478.9 1600.1L499.4 1587.5L519.9 1576.8L540.4 1578.9L561 1570.8L581.5 1571.2L602 1552.6L622.5 1545L643 1529.5L663.6 1534.7L684.1 1528.8L704.6 1527.4L725.1 1516.8L745.6 1500.6L766.2 1499.3L786.7 1482.5L807.2 1452.5L827.7 1453.5L848.2 1467.6L868.8 1453.6L889.3 1430.7L909.8 1407.3L930.3 1384.6L950.8 1368.6L971.4 1355.2L991.9 1367.5L1012.4 1314.4L1032.9 1297L1053.4 1288.6L1074 1264.2L1094.5 1257.3L1115 1257L1135.5 1220.6L1156 1185.7L1176.6 1193.6L1197.1 1176.5L1217.6 1189.6L1238.1 1185L1238.1 1756.9Z"/>
<path fill="#f7e8e3" d="M191.6 1756.9L191.6 1562.7L212.1 1562.6L232.6 1552.5L253.2 1542.1L273.7 1556.1L294.2 1569.7L314.7 1563.4L335.2 1563.3L355.8 1561.9L376.3 1556.2L396.8 1559.9L417.3 1573.3L437.8 1591.8L458.4 1601.9L478.9 1600.4L499.4 1587.8L519.9 1577.2L540.4 1579.3L561 1571.2L581.5 1571.6L602 1553L622.5 1545.4L643 1529.9L663.6 1535.1L684.1 1529.3L704.6 1527.9L725.1 1517.4L745.6 1501.2L766.2 1499.9L786.7 1483.1L807.2 1453.1L827.7 1454.1L848.2 1468.3L868.8 1454.3L889.3 1431.5L909.8 1408.1L930.3 1385.5L950.8 1369.5L971.4 1356.2L991.9 1368.3L1012.4 1315.5L1032.9 1298.1L1053.4 1289.8L1074 1265.5L1094.5 1258.4L1115 1258L1135.5 1221.7L1156 1186.8L1176.6 1194.8L1197.1 1177.7L1217.6 1190.8L1238.1 1186.3L1238.1 1756.9Z"/>
<path fill="#f3ddd5" d="M191.6 1756.9L191.6 1562.7L212.1 1562.6L232.6 1552.6L253.2 1542.1L273.7 1556.1L294.2 1569.8L314.7 1563.5L335.2 1563.4L355.8 1562L376.3 1556.2L396.8 1559.9L417.3 1573.4L437.8 1591.8L458.4 1601.9L478.9 1600.4L499.4 1587.9L519.9 1577.2L540.4 1579.4L561 1571.2L581.5 1571.7L602 1553.1L622.5 1545.5L643 1530L663.6 1535.2L684.1 1529.4L704.6 1527.9L725.1 1517.4L745.6 1501.3L766.2 1500L786.7 1483.2L807.2 1453.2L827.7 1454.2L848.2 1468.4L868.8 1454.4L889.3 1431.5L909.8 1408.2L930.3 1385.5L950.8 1369.6L971.4 1356.3L991.9 1368.4L1012.4 1315.5L1032.9 1298.2L1053.4 1289.9L1074 1265.6L1094.5 1258.5L1115 1258.1L1135.5 1221.7L1156 1186.9L1176.6 1194.9L1197.1 1177.8L1217.6 1190.9L1238.1 1186.4L1238.1 1756.9Z"/>
<path fill="#efd2c7" d="M191.6 1756.9L191.6 1562.8L212.1 1562.7L232.6 1552.6L253.2 1542.2L273.7 1556.2L294.2 1569.8L314.7 1563.5L335.2 1563.4L355.8 1562L376.3 1556.3L396.8 1559.9L417.3 1573.4L437.8 1591.8L458.4 1601.9L478.9 1600.5L499.4 1587.9L519.9 1577.3L540.4 1579.4L561 1571.2L581.5 1571.7L602 1553.1L622.5 1545.5L643 1530L663.6 1535.2L684.1 1529.4L704.6 1528L725.1 1517.5L745.6 1501.3L766.2 1500.1L786.7 1483.2L807.2 1453.3L827.7 1454.3L848.2 1468.4L868.8 1454.5L889.3 1431.6L909.8 1408.3L930.3 1385.6L950.8 1369.6L971.4 1356.3L991.9 1368.4L1012.4 1315.6L1032.9 1298.3L1053.4 1290L1074 1265.7L1094.5 1258.6L1115 1258.2L1135.5 1221.8L1156 1187L1176.6 1194.9L1197.1 1177.9L1217.6 1191L1238.1 1186.5L1238.1 1756.9Z"/>
<path fill="#ebc6b9" d="M191.6 1756.9L191.6 1562.8L212.1 1562.7L232.6 1552.7L253.2 1542.3L273.7 1556.3L294.2 1569.9L314.7 1563.6L335.2 1563.5L355.8 1562.1L376.3 1556.4L396.8 1560L417.3 1573.5L437.8 1591.9L458.4 1602L478.9 1600.5L499.4 1588L519.9 1577.3L540.4 1579.5L561 1571.3L581.5 1571.8L602 1553.2L622.5 1545.6L643 1530.1L663.6 1535.3L684.1 1529.5L704.6 1528.1L725.1 1517.6L745.6 1501.5L766.2 1500.2L786.7 1483.3L807.2 1453.4L827.7 1454.4L848.2 1468.6L868.8 1454.6L889.3 1431.7L909.8 1408.4L930.3 1385.8L950.8 1369.8L971.4 1356.5L991.9 1368.6L1012.4 1315.8L1032.9 1298.5L1053.4 1290.2L1074 1265.9L1094.5 1258.7L1115 1258.4L1135.5 1222L1156 1187.2L1176.6 1195.1L1197.1 1178.1L1217.6 1191.2L1238.1 1186.7L1238.1 1756.9Z"/>
<path fill="#e7bbab" d="M191.6 1756.9L191.6 1562.9L212.1 1562.8L232.6 1552.8L253.2 1542.4L273.7 1556.4L294.2 1570L314.7 1563.7L335.2 1563.6L355.8 1562.2L376.3 1556.4L396.8 1560.1L417.3 1573.6L437.8 1592L458.4 1602.1L478.9 1600.6L499.4 1588L519.9 1577.4L540.4 1579.6L561 1571.4L581.5 1571.9L602 1553.3L622.5 1545.7L643 1530.2L663.6 1535.4L684.1 1529.6L704.6 1528.2L725.1 1517.7L745.6 1501.6L766.2 1500.3L786.7 1483.5L807.2 1453.6L827.7 1454.6L848.2 1468.8L868.8 1454.8L889.3 1432L909.8 1408.6L930.3 1386L950.8 1370.1L971.4 1356.8L991.9 1368.8L1012.4 1316.1L1032.9 1298.9L1053.4 1290.5L1074 1266.3L1094.5 1259.1L1115 1258.7L1135.5 1222.4L1156 1187.6L1176.6 1195.5L1197.1 1178.5L1217.6 1191.5L1238.1 1187.1L1238.1 1756.9Z"/>
<path fill="#e3af9d" d="M191.6 1756.9L191.6 1563L212.1 1562.9L232.6 1552.9L253.2 1542.5L273.7 1556.4L294.2 1570L314.7 1563.8L335.2 1563.7L355.8 1562.3L376.3 1556.5L396.8 1560.2L417.3 1573.7L437.8 1592L458.4 1602.1L478.9 1600.7L499.4 1588.1L519.9 1577.5L540.4 1579.6L561 1571.5L581.5 1572L602 1553.4L622.5 1545.8L643 1530.3L663.6 1535.5L684.1 1529.7L704.6 1528.3L725.1 1517.8L745.6 1501.8L766.2 1500.5L786.7 1483.7L807.2 1453.7L827.7 1454.7L848.2 1469L868.8 1455L889.3 1432.2L909.8 1408.9L930.3 1386.3L950.8 1370.4L971.4 1357.1L991.9 1369.1L1012.4 1316.5L1032.9 1299.2L1053.4 1290.9L1074 1266.7L1094.5 1259.5L1115 1259.1L1135.5 1222.7L1156 1188L1176.6 1195.9L1197.1 1178.8L1217.6 1191.9L1238.1 1187.5L1238.1 1756.9Z"/>
<path fill="#dfa48f" d="M191.6 1756.9L191.6 1563.2L212.1 1563.1L232.6 1553.1L253.2 1542.6L273.7 1556.6L294.2 1570.2L314.7 1563.9L335.2 1563.8L355.8 1562.4L376.3 1556.7L396.8 1560.4L417.3 1573.8L437.8 1592.2L458.4 1602.3L478.9 1600.8L499.4 1588.3L519.9 1577.7L540.4 1579.8L561 1571.7L581.5 1572.1L602 1553.6L622.5 1546L643 1530.5L663.6 1535.7L684.1 1529.9L704.6 1528.5L725.1 1518.1L745.6 1502.1L766.2 1500.8L786.7 1484L807.2 1454L827.7 1455L848.2 1469.3L868.8 1455.4L889.3 1432.6L909.8 1409.3L930.3 1386.7L950.8 1370.8L971.4 1357.6L991.9 1369.4L1012.4 1317L1032.9 1299.8L1053.4 1291.5L1074 1267.3L1094.5 1260L1115 1259.6L1135.5 1223.3L1156 1188.5L1176.6 1196.5L1197.1 1179.4L1217.6 1192.5L1238.1 1188.1L1238.1 1756.9Z"/>
<path fill="#db9981" d="M191.6 1756.9L191.6 1568.1L212.1 1568L232.6 1558.2L253.2 1548.1L273.7 1561.7L294.2 1575L314.7 1568.8L335.2 1568.8L355.8 1567.4L376.3 1561.8L396.8 1565.4L417.3 1578.5L437.8 1596.4L458.4 1606.2L478.9 1604.8L499.4 1592.6L519.9 1582.2L540.4 1584.3L561 1576.4L581.5 1576.9L602 1558.8L622.5 1551.3L643 1536.2L663.6 1541.1L684.1 1535.6L704.6 1534.3L725.1 1524.6L745.6 1509.7L766.2 1508.2L786.7 1491.5L807.2 1461.8L827.7 1462.8L848.2 1477.6L868.8 1464.4L889.3 1441.9L909.8 1418.7L930.3 1396.7L950.8 1381.6L971.4 1368.7L991.9 1378.6L1012.4 1329.2L1032.9 1312.6L1053.4 1304.8L1074 1281.5L1094.5 1273.1L1115 1271.7L1135.5 1235.9L1156 1201.6L1176.6 1209.7L1197.1 1192.9L1217.6 1205.9L1238.1 1202.7L1238.1 1756.9Z"/>
<path fill="#d78d73" d="M191.6 1756.9L191.6 1568.3L212.1 1568.2L232.6 1558.4L253.2 1548.3L273.7 1561.9L294.2 1575.1L314.7 1569L335.2 1568.9L355.8 1567.5L376.3 1562L396.8 1565.5L417.3 1578.6L437.8 1596.5L458.4 1606.3L478.9 1604.9L499.4 1592.7L519.9 1582.4L540.4 1584.5L561 1576.6L581.5 1577L602 1559L622.5 1551.5L643 1536.4L663.6 1541.3L684.1 1535.8L704.6 1534.5L725.1 1524.9L745.6 1510L766.2 1508.5L786.7 1491.8L807.2 1462.1L827.7 1463.1L848.2 1478L868.8 1464.7L889.3 1442.2L909.8 1419.1L930.3 1397.1L950.8 1382L971.4 1369.1L991.9 1379L1012.4 1329.7L1032.9 1313.2L1053.4 1305.4L1074 1282.1L1094.5 1273.7L1115 1272.2L1135.5 1236.5L1156 1202.2L1176.6 1210.3L1197.1 1193.4L1217.6 1206.4L1238.1 1203.3L1238.1 1756.9Z"/>
<path fill="#d38265" d="M191.6 1756.9L191.6 1570.3L212.1 1570.2L232.6 1560.6L253.2 1550.6L273.7 1564L294.2 1577.1L314.7 1571.1L335.2 1571L355.8 1569.7L376.3 1564.1L396.8 1567.7L417.3 1580.6L437.8 1598.3L458.4 1608L478.9 1606.6L499.4 1594.6L519.9 1584.4L540.4 1586.5L561 1578.7L581.5 1579.1L602 1561.3L622.5 1553.9L643 1539L663.6 1543.7L684.1 1538.4L704.6 1537.2L725.1 1528L745.6 1513.6L766.2 1512.1L786.7 1495.5L807.2 1466L827.7 1467L848.2 1482.3L868.8 1469.4L889.3 1447.1L909.8 1424.1L930.3 1402.5L950.8 1387.9L971.4 1375.3L991.9 1384.1L1012.4 1336.5L1032.9 1320.4L1053.4 1312.9L1074 1290.1L1094.5 1281.1L1115 1279L1135.5 1243.6L1156 1209.7L1176.6 1217.8L1197.1 1201.1L1217.6 1214.1L1238.1 1211.7L1238.1 1756.9Z"/>
<path fill="#ebbbbb" d="M191.6 1756.9L191.6 1572.4L212.1 1572.3L232.6 1562.8L253.2 1552.9L273.7 1566.2L294.2 1579.1L314.7 1573.2L335.2 1573.1L355.8 1571.7L376.3 1566.3L396.8 1569.8L417.3 1582.6L437.8 1600.1L458.4 1609.7L478.9 1608.3L499.4 1596.4L519.9 1586.4L540.4 1588.4L561 1580.7L581.5 1581.2L602 1563.6L622.5 1556.3L643 1541.5L663.6 1546.1L684.1 1540.9L704.6 1539.7L725.1 1530.9L745.6 1517.1L766.2 1515.5L786.7 1498.9L807.2 1469.6L827.7 1470.6L848.2 1486.2L868.8 1473.7L889.3 1451.5L909.8 1428.7L930.3 1407.3L950.8 1393.1L971.4 1380.7L991.9 1388.6L1012.4 1342.6L1032.9 1326.8L1053.4 1319.5L1074 1297.2L1094.5 1287.6L1115 1285L1135.5 1249.9L1156 1216.2L1176.6 1224.5L1197.1 1207.8L1217.6 1220.7L1238.1 1219L1238.1 1756.9Z"/>
<path fill="#d87876" d="M191.6 1756.9L191.6 1691.4L212.1 1691.4L232.6 1688L253.2 1684.6L273.7 1689.3L294.2 1693.9L314.7 1691.9L335.2 1691.9L355.8 1691.4L376.3 1689.5L396.8 1690.8L417.3 1695.4L437.8 1701.6L458.4 1705L478.9 1704.3L499.4 1699.8L519.9 1696L540.4 1696.4L561 1693.4L581.5 1693.3L602 1686.6L622.5 1683.8L643 1678.3L663.6 1680.4L684.1 1678.1L704.6 1677.5L725.1 1675.8L745.6 1672.2L766.2 1673.4L786.7 1669.6L807.2 1662.2L827.7 1659.8L848.2 1660L868.8 1651.3L889.3 1640L909.8 1628.2L930.3 1616.1L950.8 1605.5L971.4 1598.7L991.9 1594.2L1012.4 1573.6L1032.9 1563.4L1053.4 1556.8L1074 1543.2L1094.5 1535.9L1115 1530.6L1135.5 1511.5L1156 1488L1176.6 1497L1197.1 1489.7L1217.6 1494.9L1238.1 1489.6L1238.1 1756.9Z"/>
<path fill="#c43432" d="M191.6 1756.9L191.6 1723L212.1 1723.1L232.6 1721.4L253.2 1719.6L273.7 1722.1L294.2 1724.6L314.7 1723.5L335.2 1723.6L355.8 1723.4L376.3 1722.5L396.8 1723.2L417.3 1725.6L437.8 1728.8L458.4 1730.5L478.9 1730.2L499.4 1727.8L519.9 1725.8L540.4 1726.1L561 1724.5L581.5 1724.4L602 1720.9L622.5 1719.4L643 1716.6L663.6 1717.6L684.1 1716.4L704.6 1716L725.1 1715.1L745.6 1713.2L766.2 1713.8L786.7 1711.8L807.2 1707.9L827.7 1707.9L848.2 1709.2L868.8 1706.1L889.3 1701.9L909.8 1697.7L930.3 1689.4L950.8 1687.9L971.4 1686.3L991.9 1689.3L1012.4 1681.8L1032.9 1679.5L1053.4 1677.3L1074 1670.5L1094.5 1668.9L1115 1662.9L1135.5 1659.4L1156 1641.8L1176.6 1651.9L1197.1 1650.1L1217.6 1646.3L1238.1 1645.1L1238.1 1756.9Z"/>
<path fill="#f2f9f6" d="M191.6 1756.9L191.6 1731.9L212.1 1731.8L232.6 1730.5L253.2 1729.1L273.7 1730.9L294.2 1732.6L314.7 1731.7L335.2 1731.7L355.8 1731.5L376.3 1730.7L396.8 1731.1L417.3 1732.8L437.8 1735.2L458.4 1736.5L478.9 1736.3L499.4 1734.6L519.9 1733.1L540.4 1733.4L561 1732.2L581.5 1732.2L602 1729.7L622.5 1728.7L643 1726.6L663.6 1727.5L684.1 1726.7L704.6 1726.5L725.1 1726.2L745.6 1725.3L766.2 1726.1L786.7 1725.2L807.2 1723L827.7 1722.6L848.2 1723.1L868.8 1720.5L889.3 1717.1L909.8 1713.5L930.3 1709L950.8 1706L971.4 1703.4L991.9 1703L1012.4 1696.9L1032.9 1695.4L1053.4 1694.7L1074 1689.4L1094.5 1687.8L1115 1680.3L1135.5 1676.5L1156 1673.2L1176.6 1673.2L1197.1 1671.2L1217.6 1665.6L1238.1 1666.8L1238.1 1756.9Z"/>
<path fill="#e6f3ed" d="M191.6 1756.9L191.6 1732.1L212.1 1732L232.6 1730.7L253.2 1729.3L273.7 1731.1L294.2 1732.8L314.7 1731.9L335.2 1731.9L355.8 1731.7L376.3 1730.9L396.8 1731.3L417.3 1733L437.8 1735.4L458.4 1736.7L478.9 1736.4L499.4 1734.8L519.9 1733.3L540.4 1733.5L561 1732.4L581.5 1732.4L602 1729.9L622.5 1728.9L643 1726.9L663.6 1727.7L684.1 1726.9L704.6 1726.8L725.1 1726.5L745.6 1725.5L766.2 1726.4L786.7 1725.4L807.2 1723.3L827.7 1722.9L848.2 1723.4L868.8 1720.8L889.3 1717.4L909.8 1713.9L930.3 1709.4L950.8 1706.4L971.4 1703.8L991.9 1703.4L1012.4 1697.4L1032.9 1695.9L1053.4 1695.2L1074 1689.9L1094.5 1688.4L1115 1680.8L1135.5 1677.1L1156 1673.7L1176.6 1673.7L1197.1 1671.8L1217.6 1666.3L1238.1 1667.5L1238.1 1756.9Z"/>
<path fill="#d9ede4" d="M191.6 1756.9L191.6 1736.9L212.1 1736.8L232.6 1735.8L253.2 1734.6L273.7 1736L294.2 1737.4L314.7 1736.7L335.2 1736.6L355.8 1736.4L376.3 1735.8L396.8 1736.1L417.3 1737.5L437.8 1739.4L458.4 1740.4L478.9 1740.2L499.4 1738.9L519.9 1737.7L540.4 1737.9L561 1737L581.5 1737L602 1734.9L622.5 1734.1L643 1732.5L663.6 1733.2L684.1 1732.5L704.6 1732.4L725.1 1732L745.6 1731.1L766.2 1731.7L786.7 1730.8L807.2 1728.9L827.7 1728.4L848.2 1728.8L868.8 1726.5L889.3 1723.6L909.8 1720.5L930.3 1716.6L950.8 1714.1L971.4 1712L991.9 1712L1012.4 1706.2L1032.9 1705L1053.4 1704.2L1074 1699.3L1094.5 1698.1L1115 1690.8L1135.5 1687.2L1156 1684.3L1176.6 1684.2L1197.1 1682.7L1217.6 1677.5L1238.1 1678.6L1238.1 1756.9Z"/>
<path fill="#cce7db" d="M191.6 1756.9L191.6 1737.3L212.1 1737.3L232.6 1736.2L253.2 1735.1L273.7 1736.5L294.2 1737.8L314.7 1737.1L335.2 1737L355.8 1736.9L376.3 1736.2L396.8 1736.5L417.3 1737.9L437.8 1739.8L458.4 1740.8L478.9 1740.6L499.4 1739.3L519.9 1738.1L540.4 1738.3L561 1737.4L581.5 1737.4L602 1735.4L622.5 1734.6L643 1733L663.6 1733.7L684.1 1733.1L704.6 1732.9L725.1 1732.6L745.6 1731.8L766.2 1732.3L786.7 1731.4L807.2 1729.5L827.7 1729.1L848.2 1729.5L868.8 1727.3L889.3 1724.4L909.8 1721.4L930.3 1717.5L950.8 1715.1L971.4 1713.2L991.9 1713.2L1012.4 1707.5L1032.9 1706.2L1053.4 1705.5L1074 1700.6L1094.5 1699.5L1115 1692.3L1135.5 1688.7L1156 1685.8L1176.6 1685.8L1197.1 1684.3L1217.6 1679.1L1238.1 1680.2L1238.1 1756.9Z"/>
<path fill="#c0e0d2" d="M191.6 1756.9L191.6 1737.6L212.1 1737.5L232.6 1736.5L253.2 1735.4L273.7 1736.7L294.2 1738.1L314.7 1737.4L335.2 1737.3L355.8 1737.1L376.3 1736.5L396.8 1736.8L417.3 1738.2L437.8 1740L458.4 1741L478.9 1740.8L499.4 1739.5L519.9 1738.4L540.4 1738.6L561 1737.7L581.5 1737.7L602 1735.8L622.5 1735L643 1733.4L663.6 1734.1L684.1 1733.5L704.6 1733.3L725.1 1733L745.6 1732.2L766.2 1732.7L786.7 1731.8L807.2 1730L827.7 1729.6L848.2 1729.9L868.8 1727.7L889.3 1724.9L909.8 1721.9L930.3 1718.1L950.8 1715.8L971.4 1713.9L991.9 1714L1012.4 1708.3L1032.9 1707.1L1053.4 1706.3L1074 1701.5L1094.5 1700.4L1115 1693.2L1135.5 1689.6L1156 1686.7L1176.6 1686.7L1197.1 1685.3L1217.6 1680.1L1238.1 1681.3L1238.1 1756.9Z"/>
<path fill="#b3dac9" d="M191.6 1756.9L191.6 1737.9L212.1 1737.8L232.6 1736.8L253.2 1735.7L273.7 1737L294.2 1738.3L314.7 1737.7L335.2 1737.6L355.8 1737.4L376.3 1736.8L396.8 1737.1L417.3 1738.4L437.8 1740.2L458.4 1741.2L478.9 1741.1L499.4 1739.8L519.9 1738.7L540.4 1738.8L561 1738L581.5 1738L602 1736.1L622.5 1735.3L643 1733.8L663.6 1734.4L684.1 1733.8L704.6 1733.7L725.1 1733.4L745.6 1732.6L766.2 1733.1L786.7 1732.2L807.2 1730.4L827.7 1730L848.2 1730.3L868.8 1728.2L889.3 1725.4L909.8 1722.5L930.3 1718.7L950.8 1716.4L971.4 1714.6L991.9 1714.7L1012.4 1709.1L1032.9 1707.9L1053.4 1707.1L1074 1702.3L1094.5 1701.3L1115 1694.1L1135.5 1690.5L1156 1687.7L1176.6 1687.7L1197.1 1686.2L1217.6 1681.2L1238.1 1682.3L1238.1 1756.9Z"/>
<path fill="#a6d4c0" d="M191.6 1756.9L191.6 1738.1L212.1 1738.1L232.6 1737.1L253.2 1736L273.7 1737.3L294.2 1738.6L314.7 1737.9L335.2 1737.9L355.8 1737.7L376.3 1737.1L396.8 1737.4L417.3 1738.7L437.8 1740.5L458.4 1741.5L478.9 1741.3L499.4 1740L519.9 1738.9L540.4 1739.1L561 1738.3L581.5 1738.3L602 1736.4L622.5 1735.7L643 1734.1L663.6 1734.8L684.1 1734.2L704.6 1734.1L725.1 1733.8L745.6 1732.9L766.2 1733.5L786.7 1732.6L807.2 1730.8L827.7 1730.4L848.2 1730.7L868.8 1728.6L889.3 1725.9L909.8 1723L930.3 1719.4L950.8 1717.1L971.4 1715.3L991.9 1715.5L1012.4 1709.8L1032.9 1708.7L1053.4 1707.9L1074 1703.2L1094.5 1702.2L1115 1695L1135.5 1691.4L1156 1688.6L1176.6 1688.6L1197.1 1687.2L1217.6 1682.2L1238.1 1683.3L1238.1 1756.9Z"/>
<path fill="#9aceb7" d="M191.6 1756.9L191.6 1738.3L212.1 1738.3L232.6 1737.3L253.2 1736.2L273.7 1737.5L294.2 1738.8L314.7 1738.1L335.2 1738.1L355.8 1737.9L376.3 1737.3L396.8 1737.6L417.3 1738.9L437.8 1740.7L458.4 1741.6L478.9 1741.5L499.4 1740.2L519.9 1739.1L540.4 1739.3L561 1738.5L581.5 1738.5L602 1736.6L622.5 1735.9L643 1734.4L663.6 1735L684.1 1734.5L704.6 1734.3L725.1 1734L745.6 1733.2L766.2 1733.7L786.7 1732.9L807.2 1731.1L827.7 1730.7L848.2 1731L868.8 1728.9L889.3 1726.2L909.8 1723.4L930.3 1719.7L950.8 1717.5L971.4 1715.7L991.9 1715.9L1012.4 1710.3L1032.9 1709.2L1053.4 1708.4L1074 1703.7L1094.5 1702.7L1115 1695.5L1135.5 1692L1156 1689.2L1176.6 1689.2L1197.1 1687.8L1217.6 1682.8L1238.1 1683.9L1238.1 1756.9Z"/>
<path fill="#8dc8ae" d="M191.6 1756.9L191.6 1739.4L212.1 1739.3L232.6 1738.4L253.2 1737.4L273.7 1738.6L294.2 1739.8L314.7 1739.2L335.2 1739.1L355.8 1738.9L376.3 1738.4L396.8 1738.7L417.3 1739.9L437.8 1741.5L458.4 1742.4L478.9 1742.3L499.4 1741.1L519.9 1740.1L540.4 1740.3L561 1739.5L581.5 1739.5L602 1737.8L622.5 1737.1L643 1735.7L663.6 1736.3L684.1 1735.7L704.6 1735.6L725.1 1735.3L745.6 1734.5L766.2 1735L786.7 1734.2L807.2 1732.5L827.7 1732.1L848.2 1732.4L868.8 1730.4L889.3 1727.8L909.8 1725.1L930.3 1721.6L950.8 1719.5L971.4 1717.9L991.9 1718.2L1012.4 1712.7L1032.9 1711.6L1053.4 1710.9L1074 1706.2L1094.5 1705.4L1115 1698.2L1135.5 1694.7L1156 1692L1176.6 1692L1197.1 1690.8L1217.6 1685.8L1238.1 1686.9L1238.1 1756.9Z"/>
<path fill="#df639c" d="M191.6 1756.9L191.6 1740.1L212.1 1740L232.6 1739.1L253.2 1738.1L273.7 1739.3L294.2 1740.5L314.7 1739.9L335.2 1739.8L355.8 1739.6L376.3 1739.1L396.8 1739.4L417.3 1740.5L437.8 1742.1L458.4 1743L478.9 1742.9L499.4 1741.7L519.9 1740.8L540.4 1741L561 1740.2L581.5 1740.3L602 1738.6L622.5 1737.9L643 1736.6L663.6 1737.2L684.1 1736.7L704.6 1736.6L725.1 1736.3L745.6 1735.5L766.2 1736L786.7 1735.2L807.2 1733.5L827.7 1733.1L848.2 1733.4L868.8 1731.5L889.3 1729L909.8 1726.4L930.3 1723.1L950.8 1721.1L971.4 1719.6L991.9 1720L1012.4 1714.6L1032.9 1713.5L1053.4 1712.8L1074 1708.2L1094.5 1707.5L1115 1700.4L1135.5 1696.9L1156 1694.3L1176.6 1694.3L1197.1 1693.1L1217.6 1688.3L1238.1 1689.4L1238.1 1756.9Z"/>
<path fill="#e8eaec" d="M191.6 1756.9L191.6 1741.7L212.1 1741.6L232.6 1740.7L253.2 1739.8L273.7 1740.9L294.2 1741.9L314.7 1741.3L335.2 1741.3L355.8 1741.1L376.3 1740.6L396.8 1740.8L417.3 1741.8L437.8 1743.3L458.4 1744.1L478.9 1744L499.4 1742.9L519.9 1742L540.4 1742.2L561 1741.5L581.5 1741.6L602 1740L622.5 1739.4L643 1738.2L663.6 1738.7L684.1 1738.3L704.6 1738.2L725.1 1738L745.6 1737.4L766.2 1737.9L786.7 1737.2L807.2 1735.8L827.7 1735.6L848.2 1736L868.8 1734.4L889.3 1732.3L909.8 1730.2L930.3 1726.4L950.8 1724.8L971.4 1723.4L991.9 1724.1L1012.4 1718.8L1032.9 1718.1L1053.4 1717.3L1074 1712.8L1094.5 1712L1115 1705.2L1135.5 1702.2L1156 1699.9L1176.6 1699.9L1197.1 1698.9L1217.6 1693.9L1238.1 1694.7L1238.1 1756.9Z"/>
<path fill="#d1d6d9" d="M191.6 1756.9L191.6 1741.8L212.1 1741.7L232.6 1740.9L253.2 1740L273.7 1741L294.2 1742L314.7 1741.5L335.2 1741.4L355.8 1741.3L376.3 1740.7L396.8 1741L417.3 1742L437.8 1743.4L458.4 1744.2L478.9 1744.1L499.4 1743.1L519.9 1742.2L540.4 1742.4L561 1741.7L581.5 1741.7L602 1740.2L622.5 1739.6L643 1738.4L663.6 1739L684.1 1738.5L704.6 1738.4L725.1 1738.2L745.6 1737.6L766.2 1738.1L786.7 1737.5L807.2 1736.1L827.7 1735.9L848.2 1736.2L868.8 1734.6L889.3 1732.6L909.8 1730.4L930.3 1726.6L950.8 1725.1L971.4 1723.6L991.9 1724.3L1012.4 1719L1032.9 1718.3L1053.4 1717.6L1074 1713.1L1094.5 1712.3L1115 1705.6L1135.5 1702.6L1156 1700.3L1176.6 1700.3L1197.1 1699.3L1217.6 1694.3L1238.1 1695.1L1238.1 1756.9Z"/>
<path fill="#bac1c6" d="M191.6 1756.9L191.6 1741.9L212.1 1741.8L232.6 1740.9L253.2 1740.1L273.7 1741.1L294.2 1742.1L314.7 1741.6L335.2 1741.5L355.8 1741.3L376.3 1740.8L396.8 1741L417.3 1742.1L437.8 1743.5L458.4 1744.3L478.9 1744.2L499.4 1743.1L519.9 1742.3L540.4 1742.5L561 1741.8L581.5 1741.8L602 1740.3L622.5 1739.7L643 1738.5L663.6 1739.1L684.1 1738.6L704.6 1738.5L725.1 1738.3L745.6 1737.7L766.2 1738.2L786.7 1737.6L807.2 1736.2L827.7 1736L848.2 1736.3L868.8 1734.8L889.3 1732.7L909.8 1730.5L930.3 1726.8L950.8 1725.3L971.4 1723.8L991.9 1724.5L1012.4 1719.2L1032.9 1718.5L1053.4 1717.7L1074 1713.2L1094.5 1712.5L1115 1705.7L1135.5 1702.7L1156 1700.5L1176.6 1700.5L1197.1 1699.4L1217.6 1694.5L1238.1 1695.3L1238.1 1756.9Z"/>
<path fill="#a3acb3" d="M191.6 1756.9L191.6 1742.8L212.1 1742.8L232.6 1742.1L253.2 1741.3L273.7 1742.3L294.2 1743.2L314.7 1742.7L335.2 1742.7L355.8 1742.6L376.3 1742.1L396.8 1742.4L417.3 1743.3L437.8 1744.7L458.4 1745.4L478.9 1745.4L499.4 1744.5L519.9 1743.8L540.4 1744.1L561 1743.5L581.5 1743.7L602 1742.4L622.5 1742L643 1741.1L663.6 1741.6L684.1 1741.3L704.6 1741.4L725.1 1741.5L745.6 1741.3L766.2 1742L786.7 1741.8L807.2 1741L827.7 1741L848.2 1741.4L868.8 1740.4L889.3 1739L909.8 1737.6L930.3 1735.1L950.8 1734.3L971.4 1733.5L991.9 1734.2L1012.4 1730.9L1032.9 1730.6L1053.4 1730.3L1074 1727.5L1094.5 1727.2L1115 1723L1135.5 1721.3L1156 1720.1L1176.6 1720.4L1197.1 1720.1L1217.6 1717.2L1238.1 1718.1L1238.1 1756.9Z"/>
<path fill="#8b98a0" d="M191.6 1756.9L191.6 1743.2L212.1 1743.2L232.6 1742.4L253.2 1741.7L273.7 1742.6L294.2 1743.6L314.7 1743.1L335.2 1743.1L355.8 1743L376.3 1742.5L396.8 1742.8L417.3 1743.7L437.8 1745L458.4 1745.8L478.9 1745.7L499.4 1744.9L519.9 1744.2L540.4 1744.5L561 1744L581.5 1744.1L602 1742.9L622.5 1742.6L643 1741.7L663.6 1742.2L684.1 1742L704.6 1742L725.1 1742.1L745.6 1742L766.2 1742.6L786.7 1742.5L807.2 1741.7L827.7 1741.7L848.2 1742.1L868.8 1741.1L889.3 1739.8L909.8 1738.4L930.3 1736L950.8 1735.2L971.4 1734.4L991.9 1735.1L1012.4 1731.8L1032.9 1731.5L1053.4 1731.2L1074 1728.5L1094.5 1728.3L1115 1724.2L1135.5 1722.6L1156 1721.5L1176.6 1721.8L1197.1 1721.5L1217.6 1718.8L1238.1 1719.6L1238.1 1756.9Z"/>
<path fill="#74838d" d="M191.6 1756.9L191.6 1754.2L212.1 1754.1L232.6 1754L253.2 1753.8L273.7 1754L294.2 1754.2L314.7 1754.1L335.2 1754.1L355.8 1754.1L376.3 1754L396.8 1754.1L417.3 1754.3L437.8 1754.5L458.4 1754.7L478.9 1754.6L499.4 1754.5L519.9 1754.3L540.4 1754.4L561 1754.3L581.5 1754.3L602 1754.1L622.5 1754L643 1753.8L663.6 1753.9L684.1 1753.9L704.6 1753.9L725.1 1753.9L745.6 1753.8L766.2 1753.9L786.7 1753.9L807.2 1753.7L827.7 1753.7L848.2 1753.8L868.8 1753.6L889.3 1753.3L909.8 1753L930.3 1752.5L950.8 1752.3L971.4 1752.1L991.9 1752.3L1012.4 1751.6L1032.9 1751.5L1053.4 1751.4L1074 1750.8L1094.5 1750.8L1115 1749.9L1135.5 1749.5L1156 1749.3L1176.6 1749.3L1197.1 1749.3L1217.6 1748.7L1238.1 1748.8L1238.1 1756.9Z"/>
<path fill="#5d6e7a" d="M191.6 1756.9L191.6 1754.6L212.1 1754.6L232.6 1754.5L253.2 1754.4L273.7 1754.5L294.2 1754.7L314.7 1754.6L335.2 1754.6L355.8 1754.6L376.3 1754.5L396.8 1754.5L417.3 1754.7L437.8 1754.9L458.4 1755L478.9 1755L499.4 1754.9L519.9 1754.8L540.4 1754.8L561 1754.7L581.5 1754.7L602 1754.5L622.5 1754.4L643 1754.3L663.6 1754.4L684.1 1754.3L704.6 1754.3L725.1 1754.3L745.6 1754.3L766.2 1754.4L786.7 1754.3L807.2 1754.2L827.7 1754.2L848.2 1754.2L868.8 1754L889.3 1753.8L909.8 1753.5L930.3 1753.1L950.8 1752.9L971.4 1752.7L991.9 1752.8L1012.4 1752.2L1032.9 1752.2L1053.4 1752.1L1074 1751.6L1094.5 1751.5L1115 1750.7L1135.5 1750.4L1156 1750.1L1176.6 1750.2L1197.1 1750.1L1217.6 1749.5L1238.1 1749.7L1238.1 1756.9Z"/>
<path fill="#465a67" d="M191.6 1756.9L191.6 1755.3L212.1 1755.3L232.6 1755.3L253.2 1755.2L273.7 1755.3L294.2 1755.4L314.7 1755.3L335.2 1755.3L355.8 1755.3L376.3 1755.2L396.8 1755.3L417.3 1755.4L437.8 1755.5L458.4 1755.6L478.9 1755.6L499.4 1755.5L519.9 1755.4L540.4 1755.4L561 1755.4L581.5 1755.4L602 1755.2L622.5 1755.2L643 1755L663.6 1755.1L684.1 1755L704.6 1755L725.1 1755L745.6 1755L766.2 1755L786.7 1755L807.2 1754.8L827.7 1754.8L848.2 1754.9L868.8 1754.7L889.3 1754.5L909.8 1754.3L930.3 1754L950.8 1753.8L971.4 1753.7L991.9 1753.8L1012.4 1753.3L1032.9 1753.2L1053.4 1753.1L1074 1752.7L1094.5 1752.6L1115 1752L1135.5 1751.7L1156 1751.5L1176.6 1751.5L1197.1 1751.4L1217.6 1751L1238.1 1751L1238.1 1756.9Z"/>
<path fill="#2f4554" d="M191.6 1756.9L191.6 1755.8L212.1 1755.8L232.6 1755.7L253.2 1755.7L273.7 1755.7L294.2 1755.8L314.7 1755.8L335.2 1755.8L355.8 1755.8L376.3 1755.7L396.8 1755.7L417.3 1755.8L437.8 1755.9L458.4 1756L478.9 1756L499.4 1755.9L519.9 1755.8L540.4 1755.8L561 1755.8L581.5 1755.8L602 1755.6L622.5 1755.6L643 1755.5L663.6 1755.5L684.1 1755.5L704.6 1755.5L725.1 1755.5L745.6 1755.4L766.2 1755.4L786.7 1755.4L807.2 1755.3L827.7 1755.3L848.2 1755.3L868.8 1755.2L889.3 1755L909.8 1754.8L930.3 1754.5L950.8 1754.4L971.4 1754.3L991.9 1754.3L1012.4 1753.9L1032.9 1753.8L1053.4 1753.8L1074 1753.4L1094.5 1753.3L1115 1752.8L1135.5 1752.5L1156 1752.3L1176.6 1752.3L1197.1 1752.2L1217.6 1751.8L1238.1 1751.9L1238.1 1756.9Z"/>
<path fill="#f3f4f6" d="M191.6 1756.9L191.6 1756L212.1 1756L232.6 1755.9L253.2 1755.9L273.7 1755.9L294.2 1756L314.7 1756L335.2 1755.9L355.8 1755.9L376.3 1755.9L396.8 1755.9L417.3 1756L437.8 1756.1L458.4 1756.1L478.9 1756.1L499.4 1756L519.9 1756L540.4 1756L561 1755.9L581.5 1755.9L602 1755.8L622.5 1755.8L643 1755.7L663.6 1755.7L684.1 1755.7L704.6 1755.7L725.1 1755.7L745.6 1755.6L766.2 1755.6L786.7 1755.6L807.2 1755.4L827.7 1755.4L848.2 1755.4L868.8 1755.3L889.3 1755.2L909.8 1755L930.3 1754.7L950.8 1754.6L971.4 1754.5L991.9 1754.5L1012.4 1754.2L1032.9 1754.1L1053.4 1754L1074 1753.7L1094.5 1753.6L1115 1753.1L1135.5 1752.9L1156 1752.7L1176.6 1752.7L1197.1 1752.6L1217.6 1752.2L1238.1 1752.2L1238.1 1756.9Z"/>
<path fill="#e6eaed" d="M191.6 1756.9L191.6 1756.1L212.1 1756.1L232.6 1756L253.2 1756L273.7 1756L294.2 1756.1L314.7 1756.1L335.2 1756.1L355.8 1756L376.3 1756L396.8 1756L417.3 1756.1L437.8 1756.2L458.4 1756.2L478.9 1756.2L499.4 1756.1L519.9 1756.1L540.4 1756.1L561 1756L581.5 1756L602 1755.9L622.5 1755.9L643 1755.8L663.6 1755.9L684.1 1755.8L704.6 1755.8L725.1 1755.8L745.6 1755.7L766.2 1755.8L786.7 1755.7L807.2 1755.6L827.7 1755.6L848.2 1755.6L868.8 1755.5L889.3 1755.4L909.8 1755.2L930.3 1755L950.8 1754.9L971.4 1754.8L991.9 1754.8L1012.4 1754.5L1032.9 1754.4L1053.4 1754.3L1074 1754L1094.5 1754L1115 1753.5L1135.5 1753.3L1156 1753.1L1176.6 1753.1L1197.1 1753L1217.6 1752.7L1238.1 1752.7L1238.1 1756.9Z"/>
<path fill="#dadfe4" d="M191.6 1756.9L191.6 1756.2L212.1 1756.2L232.6 1756.2L253.2 1756.2L273.7 1756.2L294.2 1756.3L314.7 1756.2L335.2 1756.2L355.8 1756.2L376.3 1756.2L396.8 1756.2L417.3 1756.2L437.8 1756.3L458.4 1756.3L478.9 1756.3L499.4 1756.3L519.9 1756.2L540.4 1756.2L561 1756.2L581.5 1756.2L602 1756.1L622.5 1756.1L643 1756L663.6 1756.1L684.1 1756L704.6 1756L725.1 1756L745.6 1756L766.2 1756L786.7 1755.9L807.2 1755.9L827.7 1755.8L848.2 1755.9L868.8 1755.8L889.3 1755.7L909.8 1755.6L930.3 1755.4L950.8 1755.3L971.4 1755.2L991.9 1755.2L1012.4 1754.9L1032.9 1754.9L1053.4 1754.8L1074 1754.6L1094.5 1754.6L1115 1754.2L1135.5 1754L1156 1753.9L1176.6 1753.9L1197.1 1753.8L1217.6 1753.5L1238.1 1753.6L1238.1 1756.9Z"/>
<path fill="#cdd5db" d="M191.6 1756.9L191.6 1756.4L212.1 1756.4L232.6 1756.4L253.2 1756.4L273.7 1756.4L294.2 1756.4L314.7 1756.4L335.2 1756.4L355.8 1756.4L376.3 1756.4L396.8 1756.4L417.3 1756.4L437.8 1756.5L458.4 1756.5L478.9 1756.5L499.4 1756.5L519.9 1756.4L540.4 1756.4L561 1756.4L581.5 1756.4L602 1756.4L622.5 1756.3L643 1756.3L663.6 1756.3L684.1 1756.3L704.6 1756.3L725.1 1756.3L745.6 1756.2L766.2 1756.3L786.7 1756.2L807.2 1756.2L827.7 1756.2L848.2 1756.2L868.8 1756.1L889.3 1756L909.8 1756L930.3 1755.8L950.8 1755.8L971.4 1755.7L991.9 1755.7L1012.4 1755.5L1032.9 1755.5L1053.4 1755.5L1074 1755.3L1094.5 1755.3L1115 1755L1135.5 1754.9L1156 1754.8L1176.6 1754.8L1197.1 1754.7L1217.6 1754.5L1238.1 1754.6L1238.1 1756.9Z"/>
<path fill="#c1cad2" d="M191.6 1756.9L191.6 1756.6L212.1 1756.6L232.6 1756.6L253.2 1756.5L273.7 1756.6L294.2 1756.6L314.7 1756.6L335.2 1756.6L355.8 1756.6L376.3 1756.5L396.8 1756.5L417.3 1756.6L437.8 1756.6L458.4 1756.6L478.9 1756.6L499.4 1756.6L519.9 1756.6L540.4 1756.6L561 1756.6L581.5 1756.6L602 1756.5L622.5 1756.5L643 1756.5L663.6 1756.5L684.1 1756.5L704.6 1756.5L725.1 1756.5L745.6 1756.4L766.2 1756.4L786.7 1756.4L807.2 1756.4L827.7 1756.4L848.2 1756.4L868.8 1756.3L889.3 1756.3L909.8 1756.2L930.3 1756.1L950.8 1756.1L971.4 1756L991.9 1756.1L1012.4 1755.9L1032.9 1755.9L1053.4 1755.9L1074 1755.8L1094.5 1755.7L1115 1755.5L1135.5 1755.5L1156 1755.4L1176.6 1755.4L1197.1 1755.4L1217.6 1755.2L1238.1 1755.2L1238.1 1756.9Z"/>
<rect x="191.6" y="1045.9" width="1046.5" height="711" fill="none" stroke="#000" stroke-width="3.5"/>
<text x="192.1" y="1841.7" text-anchor="middle">1970</text>
<text x="397.3" y="1841.7" text-anchor="middle">1980</text>
<text x="602.5" y="1841.7" text-anchor="middle">1990</text>
<text x="807.7" y="1841.7" text-anchor="middle">2000</text>
<text x="1012.9" y="1841.7" text-anchor="middle">2010</text>
<text x="1218.1" y="1841.7" text-anchor="middle">2020</text>
<text x="139.3" y="1772.5" text-anchor="end">0</text>
<text x="139.3" y="1642" text-anchor="end">10</text>
<text x="139.3" y="1511.4" text-anchor="end">20</text>
<text x="139.3" y="1380.9" text-anchor="end">30</text>
<text x="139.3" y="1250.3" text-anchor="end">40</text>
<text x="139.3" y="1119.8" text-anchor="end">50</text>
<path d="M191.6 1756.9v26.3M396.8 1756.9v26.3M602 1756.9v26.3M807.2 1756.9v26.3M1012.4 1756.9v26.3M1217.6 1756.9v26.3M191.6 1756.9h-26.2M191.6 1626.4h-26.2M191.6 1495.8h-26.2M191.6 1365.3h-26.2M191.6 1234.7h-26.2M191.6 1104.2h-26.2" stroke="#000" stroke-width="3.5" fill="none"/>
<text x="715.4" y="1913.2" text-anchor="middle">Year</text>
<text transform="translate(50.8 1396.9) rotate(-90)" text-anchor="middle">Freight turnover (Tt n mile/yr)</text>
</g>
<g id="pd">
<path fill="#a46567" d="M1523.7 1757.1L1523.7 1404.4L1544.2 1404.4L1564.7 1387.6L1585.3 1368L1605.8 1392.4L1626.3 1416L1646.8 1406.5L1667.3 1406.5L1687.9 1404.4L1708.4 1393.5L1728.9 1399.8L1749.4 1426.6L1769.9 1458.8L1790.5 1477.1L1811 1473.9L1831.5 1451.8L1852 1431.8L1872.5 1434.6L1893.1 1419.6L1913.6 1419.6L1934.1 1386.1L1954.6 1371.8L1975.1 1343.8L1995.7 1355.7L2016.2 1346.6L2036.7 1333L2057.2 1315.1L2077.7 1298.5L2098.3 1306.9L2118.8 1278.4L2139.3 1241.4L2159.8 1248.4L2180.3 1272.5L2200.9 1262L2221.4 1225.7L2241.9 1201.5L2262.4 1166.7L2282.9 1151.6L2303.5 1145L2324 1168.2L2344.5 1118.4L2365 1107.2L2385.5 1139.5L2406.1 1125.3L2426.6 1138L2447.1 1126.8L2467.6 1092.7L2488.1 1080L2508.7 1093.6L2529.2 1119.9L2549.7 1151.6L2570.2 1143.2L2570.2 1757.1Z"/>
<path fill="#fae6d5" d="M1523.7 1757.1L1523.7 1404.7L1544.2 1404.7L1564.7 1387.8L1585.3 1368.2L1605.8 1392.7L1626.3 1416.2L1646.8 1406.8L1667.3 1406.8L1687.9 1404.7L1708.4 1393.7L1728.9 1400L1749.4 1426.8L1769.9 1459L1790.5 1477.3L1811 1474.1L1831.5 1452L1852 1432L1872.5 1434.8L1893.1 1419.8L1913.6 1419.8L1934.1 1386.4L1954.6 1372.1L1975.1 1344.1L1995.7 1355.9L2016.2 1346.9L2036.7 1333.3L2057.2 1315.4L2077.7 1298.8L2098.3 1307.2L2118.8 1278.7L2139.3 1241.6L2159.8 1248.6L2180.3 1272.8L2200.9 1262.2L2221.4 1226L2241.9 1201.8L2262.4 1167.1L2282.9 1152L2303.5 1145.3L2324 1168.5L2344.5 1118.7L2365 1107.5L2385.5 1139.9L2406.1 1125.7L2426.6 1138.4L2447.1 1127.3L2467.6 1093.2L2488.1 1080.6L2508.7 1094.1L2529.2 1120.4L2549.7 1152.1L2570.2 1143.6L2570.2 1757.1Z"/>
<path fill="#f5ceac" d="M1523.7 1757.1L1523.7 1404.9L1544.2 1404.9L1564.7 1388L1585.3 1368.5L1605.8 1392.9L1626.3 1416.4L1646.8 1407L1667.3 1407L1687.9 1404.9L1708.4 1393.9L1728.9 1400.2L1749.4 1427L1769.9 1459.1L1790.5 1477.4L1811 1474.3L1831.5 1452.2L1852 1432.2L1872.5 1435L1893.1 1420.1L1913.6 1420.1L1934.1 1386.6L1954.6 1372.3L1975.1 1344.4L1995.7 1356.2L2016.2 1347.2L2036.7 1333.6L2057.2 1315.7L2077.7 1299.1L2098.3 1307.4L2118.8 1279L2139.3 1241.9L2159.8 1248.9L2180.3 1273.1L2200.9 1262.5L2221.4 1226.3L2241.9 1202.2L2262.4 1167.5L2282.9 1152.4L2303.5 1145.8L2324 1168.9L2344.5 1119.2L2365 1108L2385.5 1140.4L2406.1 1126.2L2426.6 1138.8L2447.1 1127.9L2467.6 1094L2488.1 1081.5L2508.7 1095L2529.2 1121.2L2549.7 1152.8L2570.2 1144.3L2570.2 1757.1Z"/>
<path fill="#f0b582" d="M1523.7 1757.1L1523.7 1405.3L1544.2 1405.3L1564.7 1388.5L1585.3 1368.9L1605.8 1393.3L1626.3 1416.9L1646.8 1407.4L1667.3 1407.4L1687.9 1405.3L1708.4 1394.4L1728.9 1400.7L1749.4 1427.4L1769.9 1459.5L1790.5 1477.8L1811 1474.7L1831.5 1452.6L1852 1432.7L1872.5 1435.5L1893.1 1420.6L1913.6 1420.6L1934.1 1387.2L1954.6 1372.9L1975.1 1345L1995.7 1356.9L2016.2 1347.8L2036.7 1334.3L2057.2 1316.4L2077.7 1299.9L2098.3 1308.2L2118.8 1279.8L2139.3 1242.7L2159.8 1249.7L2180.3 1274L2200.9 1263.5L2221.4 1227.4L2241.9 1203.3L2262.4 1168.7L2282.9 1153.8L2303.5 1147.2L2324 1170.3L2344.5 1120.8L2365 1109.7L2385.5 1142L2406.1 1127.8L2426.6 1140.4L2447.1 1129.9L2467.6 1096.5L2488.1 1084.4L2508.7 1097.8L2529.2 1123.7L2549.7 1155.1L2570.2 1146.6L2570.2 1757.1Z"/>
<path fill="#74884b" d="M1523.7 1757.1L1523.7 1406.6L1544.2 1406.6L1564.7 1389.8L1585.3 1370.4L1605.8 1394.7L1626.3 1418.1L1646.8 1408.7L1667.3 1408.7L1687.9 1406.6L1708.4 1395.8L1728.9 1402L1749.4 1428.6L1769.9 1460.7L1790.5 1478.9L1811 1475.8L1831.5 1453.9L1852 1434.1L1872.5 1436.9L1893.1 1422.1L1913.6 1422.1L1934.1 1389L1954.6 1374.8L1975.1 1347.1L1995.7 1358.9L2016.2 1349.9L2036.7 1336.4L2057.2 1318.6L2077.7 1302.2L2098.3 1310.4L2118.8 1282.2L2139.3 1245L2159.8 1252.1L2180.3 1276.6L2200.9 1266.2L2221.4 1230.5L2241.9 1206.6L2262.4 1172.6L2282.9 1157.9L2303.5 1151.4L2324 1174.2L2344.5 1125.5L2365 1114.6L2385.5 1146.8L2406.1 1132.6L2426.6 1145.3L2447.1 1136L2467.6 1104L2488.1 1093.2L2508.7 1106.2L2529.2 1131.3L2549.7 1162L2570.2 1153.4L2570.2 1757.1Z"/>
<path fill="#d0cebd" d="M1523.7 1757.1L1523.7 1406.6L1544.2 1406.6L1564.7 1389.9L1585.3 1370.4L1605.8 1394.7L1626.3 1418.2L1646.8 1408.8L1667.3 1408.8L1687.9 1406.7L1708.4 1395.8L1728.9 1402.1L1749.4 1428.7L1769.9 1460.7L1790.5 1478.9L1811 1475.8L1831.5 1453.9L1852 1434.1L1872.5 1436.9L1893.1 1422.1L1913.6 1422.2L1934.1 1389L1954.6 1374.9L1975.1 1347.1L1995.7 1358.9L2016.2 1349.9L2036.7 1336.4L2057.2 1318.7L2077.7 1302.2L2098.3 1310.5L2118.8 1282.2L2139.3 1245L2159.8 1252.1L2180.3 1276.6L2200.9 1266.3L2221.4 1230.5L2241.9 1206.7L2262.4 1172.6L2282.9 1158L2303.5 1151.5L2324 1174.2L2344.5 1125.6L2365 1114.7L2385.5 1146.9L2406.1 1132.7L2426.6 1145.3L2447.1 1136L2467.6 1104.1L2488.1 1093.2L2508.7 1106.3L2529.2 1131.3L2549.7 1162L2570.2 1153.5L2570.2 1757.1Z"/>
<path fill="#a09c7c" d="M1523.7 1757.1L1523.7 1406.6L1544.2 1406.6L1564.7 1389.9L1585.3 1370.5L1605.8 1394.7L1626.3 1418.2L1646.8 1408.8L1667.3 1408.8L1687.9 1406.7L1708.4 1395.8L1728.9 1402.1L1749.4 1428.7L1769.9 1460.7L1790.5 1478.9L1811 1475.8L1831.5 1453.9L1852 1434.1L1872.5 1436.9L1893.1 1422.1L1913.6 1422.2L1934.1 1389L1954.6 1374.9L1975.1 1347.2L1995.7 1359L2016.2 1350L2036.7 1336.5L2057.2 1318.7L2077.7 1302.3L2098.3 1310.5L2118.8 1282.3L2139.3 1245.1L2159.8 1252.1L2180.3 1276.7L2200.9 1266.3L2221.4 1230.6L2241.9 1206.7L2262.4 1172.6L2282.9 1158L2303.5 1151.5L2324 1174.3L2344.5 1125.7L2365 1114.7L2385.5 1146.9L2406.1 1132.8L2426.6 1145.4L2447.1 1136.1L2467.6 1104.1L2488.1 1093.3L2508.7 1106.3L2529.2 1131.4L2549.7 1162.1L2570.2 1153.5L2570.2 1757.1Z"/>
<path fill="#716b3a" d="M1523.7 1757.1L1523.7 1406.7L1544.2 1406.7L1564.7 1390L1585.3 1370.5L1605.8 1394.8L1626.3 1418.2L1646.8 1408.8L1667.3 1408.8L1687.9 1406.8L1708.4 1395.9L1728.9 1402.2L1749.4 1428.7L1769.9 1460.8L1790.5 1479L1811 1475.9L1831.5 1454L1852 1434.2L1872.5 1437L1893.1 1422.2L1913.6 1422.2L1934.1 1389.1L1954.6 1374.9L1975.1 1347.2L1995.7 1359L2016.2 1350L2036.7 1336.5L2057.2 1318.8L2077.7 1302.3L2098.3 1310.6L2118.8 1282.3L2139.3 1245.1L2159.8 1252.2L2180.3 1276.7L2200.9 1266.3L2221.4 1230.6L2241.9 1206.7L2262.4 1172.7L2282.9 1158.1L2303.5 1151.6L2324 1174.3L2344.5 1125.7L2365 1114.8L2385.5 1147L2406.1 1132.9L2426.6 1145.5L2447.1 1136.2L2467.6 1104.2L2488.1 1093.3L2508.7 1106.4L2529.2 1131.4L2549.7 1162.1L2570.2 1153.6L2570.2 1757.1Z"/>
<path fill="#dadbdc" d="M1523.7 1757.1L1523.7 1407.1L1544.2 1407.1L1564.7 1390.4L1585.3 1370.9L1605.8 1395.2L1626.3 1418.6L1646.8 1409.2L1667.3 1409.2L1687.9 1407.2L1708.4 1396.3L1728.9 1402.6L1749.4 1429.1L1769.9 1461.1L1790.5 1479.3L1811 1476.2L1831.5 1454.3L1852 1434.6L1872.5 1437.4L1893.1 1422.6L1913.6 1422.7L1934.1 1389.5L1954.6 1375.4L1975.1 1347.8L1995.7 1359.5L2016.2 1350.5L2036.7 1337.1L2057.2 1319.3L2077.7 1302.9L2098.3 1311.1L2118.8 1282.9L2139.3 1245.6L2159.8 1252.7L2180.3 1277.3L2200.9 1266.7L2221.4 1231.1L2241.9 1207.3L2262.4 1173.4L2282.9 1158.9L2303.5 1152.5L2324 1175.2L2344.5 1126.8L2365 1116L2385.5 1148.3L2406.1 1134.3L2426.6 1147L2447.1 1137.4L2467.6 1105.3L2488.1 1094.2L2508.7 1107.3L2529.2 1132.3L2549.7 1163L2570.2 1154.6L2570.2 1757.1Z"/>
<path fill="#b6b7ba" d="M1523.7 1757.1L1523.7 1411.7L1544.2 1411.7L1564.7 1395.2L1585.3 1376L1605.8 1399.9L1626.3 1423L1646.8 1413.7L1667.3 1413.7L1687.9 1411.6L1708.4 1400.8L1728.9 1407L1749.4 1433.1L1769.9 1464.7L1790.5 1482.6L1811 1479.6L1831.5 1458L1852 1438.4L1872.5 1441.1L1893.1 1426.5L1913.6 1426.6L1934.1 1393.8L1954.6 1379.8L1975.1 1352.4L1995.7 1363.9L2016.2 1354.9L2036.7 1341.5L2057.2 1323.7L2077.7 1307.2L2098.3 1315L2118.8 1286.5L2139.3 1248.5L2159.8 1255.8L2180.3 1280.8L2200.9 1268.8L2221.4 1233.5L2241.9 1209.9L2262.4 1176.4L2282.9 1162.2L2303.5 1155.8L2324 1178.3L2344.5 1130.5L2365 1119.9L2385.5 1152.4L2406.1 1138.7L2426.6 1151.7L2447.1 1141.4L2467.6 1108.6L2488.1 1096.7L2508.7 1110L2529.2 1135L2549.7 1165.7L2570.2 1157.6L2570.2 1757.1Z"/>
<path fill="#929397" d="M1523.7 1757.1L1523.7 1412.1L1544.2 1412.1L1564.7 1395.6L1585.3 1376.4L1605.8 1400.3L1626.3 1423.4L1646.8 1414.1L1667.3 1414L1687.9 1412L1708.4 1401.2L1728.9 1407.4L1749.4 1433.5L1769.9 1465L1790.5 1482.9L1811 1479.9L1831.5 1458.3L1852 1438.8L1872.5 1441.5L1893.1 1426.9L1913.6 1426.9L1934.1 1394.2L1954.6 1380.2L1975.1 1352.8L1995.7 1364.4L2016.2 1355.4L2036.7 1342L2057.2 1324.2L2077.7 1307.7L2098.3 1315.4L2118.8 1286.9L2139.3 1248.9L2159.8 1256.2L2180.3 1281.2L2200.9 1269.1L2221.4 1233.8L2241.9 1210.3L2262.4 1176.9L2282.9 1162.7L2303.5 1156.4L2324 1178.8L2344.5 1131.1L2365 1120.6L2385.5 1153.2L2406.1 1139.5L2426.6 1152.6L2447.1 1142.2L2467.6 1109.2L2488.1 1097.2L2508.7 1110.5L2529.2 1135.6L2549.7 1166.3L2570.2 1158.2L2570.2 1757.1Z"/>
<path fill="#6d6f74" d="M1523.7 1757.1L1523.7 1416.8L1544.2 1416.8L1564.7 1400.5L1585.3 1381.6L1605.8 1405.2L1626.3 1427.9L1646.8 1418.8L1667.3 1418.8L1687.9 1416.7L1708.4 1406.2L1728.9 1412.2L1749.4 1438L1769.9 1469.1L1790.5 1486.7L1811 1483.8L1831.5 1462.6L1852 1443.5L1872.5 1446.3L1893.1 1432L1913.6 1432.2L1934.1 1400.1L1954.6 1386.4L1975.1 1359.6L1995.7 1371L2016.2 1362.2L2036.7 1349.1L2057.2 1331.8L2077.7 1315.7L2098.3 1323.2L2118.8 1294.6L2139.3 1255.7L2159.8 1263.8L2180.3 1290.2L2200.9 1274.7L2221.4 1240.9L2241.9 1218.5L2262.4 1187L2282.9 1174.4L2303.5 1169.3L2324 1191.5L2344.5 1147.4L2365 1138.2L2385.5 1171.9L2406.1 1160L2426.6 1174.3L2447.1 1160.7L2467.6 1125L2488.1 1109.6L2508.7 1123.7L2529.2 1148.9L2549.7 1179.7L2570.2 1173L2570.2 1757.1Z"/>
<path fill="#efb2ba" d="M1523.7 1757.1L1523.7 1417.2L1544.2 1417.2L1564.7 1400.9L1585.3 1382L1605.8 1405.6L1626.3 1428.3L1646.8 1419.2L1667.3 1419.2L1687.9 1417.1L1708.4 1406.6L1728.9 1412.6L1749.4 1438.4L1769.9 1469.4L1790.5 1487L1811 1484.2L1831.5 1463L1852 1443.9L1872.5 1446.7L1893.1 1432.5L1913.6 1432.6L1934.1 1400.5L1954.6 1386.9L1975.1 1360.2L1995.7 1371.5L2016.2 1362.7L2036.7 1349.6L2057.2 1332.4L2077.7 1316.3L2098.3 1323.7L2118.8 1295.2L2139.3 1256.2L2159.8 1264.4L2180.3 1290.8L2200.9 1275.1L2221.4 1241.3L2241.9 1219L2262.4 1187.7L2282.9 1175.2L2303.5 1170.2L2324 1192.3L2344.5 1148.5L2365 1139.4L2385.5 1173.2L2406.1 1161.3L2426.6 1175.8L2447.1 1161.9L2467.6 1126.1L2488.1 1110.4L2508.7 1124.6L2529.2 1149.7L2549.7 1180.6L2570.2 1174L2570.2 1757.1Z"/>
<path fill="#df6675" d="M1523.7 1757.1L1523.7 1418.4L1544.2 1418.4L1564.7 1402.3L1585.3 1383.5L1605.8 1406.9L1626.3 1429.6L1646.8 1420.5L1667.3 1420.5L1687.9 1418.5L1708.4 1408L1728.9 1414L1749.4 1439.6L1769.9 1470.6L1790.5 1488.1L1811 1485.2L1831.5 1464.2L1852 1445.1L1872.5 1447.9L1893.1 1433.7L1913.6 1433.9L1934.1 1402L1954.6 1388.4L1975.1 1361.8L1995.7 1373.1L2016.2 1364.4L2036.7 1351.3L2057.2 1334.1L2077.7 1318.2L2098.3 1325.6L2118.8 1297.2L2139.3 1258.1L2159.8 1266.4L2180.3 1292.6L2200.9 1277.4L2221.4 1243.9L2241.9 1221.8L2262.4 1190.9L2282.9 1178.7L2303.5 1173.8L2324 1195.7L2344.5 1152.6L2365 1143.7L2385.5 1177.1L2406.1 1165L2426.6 1179.1L2447.1 1165.4L2467.6 1129.8L2488.1 1114.3L2508.7 1128.8L2529.2 1154L2549.7 1185L2570.2 1178.9L2570.2 1757.1Z"/>
<path fill="#f1f6f7" d="M1523.7 1757.1L1523.7 1423L1544.2 1423L1564.7 1407L1585.3 1388.5L1605.8 1411.7L1626.3 1434L1646.8 1425.1L1667.3 1425.1L1687.9 1423.1L1708.4 1412.8L1728.9 1418.7L1749.4 1444L1769.9 1474.5L1790.5 1491.8L1811 1488.9L1831.5 1468.1L1852 1449.2L1872.5 1451.9L1893.1 1437.9L1913.6 1438L1934.1 1406.5L1954.6 1393.2L1975.1 1366.9L1995.7 1378L2016.2 1369.4L2036.7 1356.5L2057.2 1339.5L2077.7 1323.8L2098.3 1331.2L2118.8 1303.1L2139.3 1263.6L2159.8 1271.8L2180.3 1297.4L2200.9 1283.3L2221.4 1250.6L2241.9 1229L2262.4 1199L2282.9 1187.6L2303.5 1182.9L2324 1204.1L2344.5 1162.8L2365 1154.2L2385.5 1186.7L2406.1 1174L2426.6 1187.3L2447.1 1173.9L2467.6 1138.9L2488.1 1123.6L2508.7 1138.9L2529.2 1164.2L2549.7 1195.4L2570.2 1190.5L2570.2 1757.1Z"/>
<path fill="#e2eef0" d="M1523.7 1757.1L1523.7 1423.2L1544.2 1423.2L1564.7 1407.3L1585.3 1388.8L1605.8 1411.9L1626.3 1434.3L1646.8 1425.4L1667.3 1425.4L1687.9 1423.4L1708.4 1413.1L1728.9 1419L1749.4 1444.3L1769.9 1474.7L1790.5 1492.1L1811 1489.1L1831.5 1468.3L1852 1449.5L1872.5 1452.1L1893.1 1438.2L1913.6 1438.3L1934.1 1406.8L1954.6 1393.5L1975.1 1367.2L1995.7 1378.4L2016.2 1369.8L2036.7 1356.9L2057.2 1339.9L2077.7 1324.2L2098.3 1331.6L2118.8 1303.6L2139.3 1264.1L2159.8 1272.3L2180.3 1298L2200.9 1284L2221.4 1251.4L2241.9 1229.7L2262.4 1199.9L2282.9 1188.6L2303.5 1183.8L2324 1204.8L2344.5 1163.6L2365 1155.1L2385.5 1187.6L2406.1 1174.9L2426.6 1188.1L2447.1 1174.8L2467.6 1139.7L2488.1 1124.4L2508.7 1139.7L2529.2 1164.9L2549.7 1196L2570.2 1191.2L2570.2 1757.1Z"/>
<path fill="#d4e5e8" d="M1523.7 1757.1L1523.7 1423.5L1544.2 1423.5L1564.7 1407.6L1585.3 1389.1L1605.8 1412.2L1626.3 1434.6L1646.8 1425.6L1667.3 1425.6L1687.9 1423.7L1708.4 1413.4L1728.9 1419.3L1749.4 1444.5L1769.9 1475L1790.5 1492.3L1811 1489.4L1831.5 1468.6L1852 1449.7L1872.5 1452.4L1893.1 1438.4L1913.6 1438.6L1934.1 1407.2L1954.6 1393.8L1975.1 1367.6L1995.7 1378.7L2016.2 1370.1L2036.7 1357.2L2057.2 1340.3L2077.7 1324.6L2098.3 1332L2118.8 1304L2139.3 1264.6L2159.8 1272.8L2180.3 1298.5L2200.9 1284.6L2221.4 1252.1L2241.9 1230.5L2262.4 1200.8L2282.9 1189.5L2303.5 1184.7L2324 1205.5L2344.5 1164.4L2365 1155.9L2385.5 1188.5L2406.1 1175.7L2426.6 1188.9L2447.1 1175.6L2467.6 1140.5L2488.1 1125.2L2508.7 1140.4L2529.2 1165.6L2549.7 1196.7L2570.2 1192L2570.2 1757.1Z"/>
<path fill="#c6dce0" d="M1523.7 1757.1L1523.7 1423.5L1544.2 1423.5L1564.7 1407.6L1585.3 1389.1L1605.8 1412.3L1626.3 1434.6L1646.8 1425.7L1667.3 1425.7L1687.9 1423.7L1708.4 1413.4L1728.9 1419.3L1749.4 1444.6L1769.9 1475L1790.5 1492.3L1811 1489.4L1831.5 1468.6L1852 1449.8L1872.5 1452.5L1893.1 1438.5L1913.6 1438.7L1934.1 1407.2L1954.6 1393.9L1975.1 1367.7L1995.7 1378.8L2016.2 1370.2L2036.7 1357.3L2057.2 1340.4L2077.7 1324.7L2098.3 1332.1L2118.8 1304.1L2139.3 1264.7L2159.8 1272.9L2180.3 1298.6L2200.9 1284.7L2221.4 1252.2L2241.9 1230.6L2262.4 1201L2282.9 1189.7L2303.5 1184.8L2324 1205.6L2344.5 1164.6L2365 1156.1L2385.5 1188.6L2406.1 1175.9L2426.6 1189.1L2447.1 1175.7L2467.6 1140.7L2488.1 1125.4L2508.7 1140.6L2529.2 1165.7L2549.7 1196.8L2570.2 1192.1L2570.2 1757.1Z"/>
<path fill="#b8d4d9" d="M1523.7 1757.1L1523.7 1423.6L1544.2 1423.6L1564.7 1407.7L1585.3 1389.2L1605.8 1412.3L1626.3 1434.6L1646.8 1425.7L1667.3 1425.7L1687.9 1423.8L1708.4 1413.5L1728.9 1419.4L1749.4 1444.6L1769.9 1475.1L1790.5 1492.4L1811 1489.5L1831.5 1468.6L1852 1449.8L1872.5 1452.5L1893.1 1438.5L1913.6 1438.7L1934.1 1407.3L1954.6 1393.9L1975.1 1367.7L1995.7 1378.9L2016.2 1370.3L2036.7 1357.4L2057.2 1340.4L2077.7 1324.7L2098.3 1332.1L2118.8 1304.2L2139.3 1264.8L2159.8 1273L2180.3 1298.7L2200.9 1284.9L2221.4 1252.3L2241.9 1230.8L2262.4 1201.1L2282.9 1189.9L2303.5 1185L2324 1205.7L2344.5 1164.7L2365 1156.3L2385.5 1188.8L2406.1 1176.1L2426.6 1189.2L2447.1 1175.9L2467.6 1140.8L2488.1 1125.6L2508.7 1140.7L2529.2 1165.9L2549.7 1196.9L2570.2 1192.2L2570.2 1757.1Z"/>
<path fill="#a9cbd1" d="M1523.7 1757.1L1523.7 1423.7L1544.2 1423.7L1564.7 1407.8L1585.3 1389.3L1605.8 1412.4L1626.3 1434.7L1646.8 1425.8L1667.3 1425.8L1687.9 1423.9L1708.4 1413.5L1728.9 1419.5L1749.4 1444.7L1769.9 1475.1L1790.5 1492.4L1811 1489.5L1831.5 1468.7L1852 1449.9L1872.5 1452.6L1893.1 1438.6L1913.6 1438.8L1934.1 1407.4L1954.6 1394.1L1975.1 1367.9L1995.7 1379L2016.2 1370.4L2036.7 1357.5L2057.2 1340.6L2077.7 1324.9L2098.3 1332.3L2118.8 1304.4L2139.3 1265L2159.8 1273.2L2180.3 1299L2200.9 1285.1L2221.4 1252.6L2241.9 1231.1L2262.4 1201.5L2282.9 1190.3L2303.5 1185.4L2324 1206L2344.5 1165.1L2365 1156.6L2385.5 1189.2L2406.1 1176.4L2426.6 1189.6L2447.1 1176.2L2467.6 1141.2L2488.1 1125.9L2508.7 1141L2529.2 1166.2L2549.7 1197.2L2570.2 1192.5L2570.2 1757.1Z"/>
<path fill="#9bc3ca" d="M1523.7 1757.1L1523.7 1423.7L1544.2 1423.7L1564.7 1407.8L1585.3 1389.3L1605.8 1412.5L1626.3 1434.8L1646.8 1425.9L1667.3 1425.9L1687.9 1423.9L1708.4 1413.6L1728.9 1419.5L1749.4 1444.8L1769.9 1475.2L1790.5 1492.5L1811 1489.6L1831.5 1468.8L1852 1450L1872.5 1452.7L1893.1 1438.7L1913.6 1438.9L1934.1 1407.4L1954.6 1394.1L1975.1 1367.9L1995.7 1379L2016.2 1370.4L2036.7 1357.6L2057.2 1340.7L2077.7 1325L2098.3 1332.4L2118.8 1304.5L2139.3 1265.1L2159.8 1273.3L2180.3 1299.1L2200.9 1285.2L2221.4 1252.8L2241.9 1231.2L2262.4 1201.7L2282.9 1190.4L2303.5 1185.5L2324 1206.1L2344.5 1165.2L2365 1156.8L2385.5 1189.3L2406.1 1176.6L2426.6 1189.7L2447.1 1176.4L2467.6 1141.3L2488.1 1126L2508.7 1141.2L2529.2 1166.3L2549.7 1197.3L2570.2 1192.7L2570.2 1757.1Z"/>
<path fill="#8dbac2" d="M1523.7 1757.1L1523.7 1424.1L1544.2 1424.2L1564.7 1408.3L1585.3 1389.9L1605.8 1413L1626.3 1435.3L1646.8 1426.3L1667.3 1426.4L1687.9 1424.4L1708.4 1414.1L1728.9 1420.1L1749.4 1445.3L1769.9 1475.7L1790.5 1492.9L1811 1490L1831.5 1469.3L1852 1450.6L1872.5 1453.3L1893.1 1439.4L1913.6 1439.5L1934.1 1408.2L1954.6 1394.9L1975.1 1368.8L1995.7 1380L2016.2 1371.4L2036.7 1358.6L2057.2 1341.8L2077.7 1326.2L2098.3 1333.6L2118.8 1306L2139.3 1266.7L2159.8 1275L2180.3 1301L2200.9 1287.5L2221.4 1255.3L2241.9 1234L2262.4 1204.9L2282.9 1194L2303.5 1189L2324 1208.8L2344.5 1168.5L2365 1160.2L2385.5 1192.7L2406.1 1180L2426.6 1193L2447.1 1179.6L2467.6 1144.6L2488.1 1129.2L2508.7 1144.3L2529.2 1169.1L2549.7 1199.9L2570.2 1195.6L2570.2 1757.1Z"/>
<path fill="#7fb1ba" d="M1523.7 1757.1L1523.7 1424.3L1544.2 1424.3L1564.7 1408.5L1585.3 1390.1L1605.8 1413.1L1626.3 1435.4L1646.8 1426.5L1667.3 1426.6L1687.9 1424.6L1708.4 1414.3L1728.9 1420.3L1749.4 1445.5L1769.9 1475.8L1790.5 1493.1L1811 1490.2L1831.5 1469.5L1852 1450.7L1872.5 1453.4L1893.1 1439.5L1913.6 1439.7L1934.1 1408.4L1954.6 1395.2L1975.1 1369.1L1995.7 1380.2L2016.2 1371.6L2036.7 1358.8L2057.2 1342L2077.7 1326.4L2098.3 1333.9L2118.8 1306.3L2139.3 1267.1L2159.8 1275.3L2180.3 1301.3L2200.9 1287.9L2221.4 1255.8L2241.9 1234.5L2262.4 1205.4L2282.9 1194.6L2303.5 1189.5L2324 1209.2L2344.5 1169L2365 1160.7L2385.5 1193.2L2406.1 1180.5L2426.6 1193.4L2447.1 1180.1L2467.6 1145.1L2488.1 1129.7L2508.7 1144.8L2529.2 1169.6L2549.7 1200.3L2570.2 1196L2570.2 1757.1Z"/>
<path fill="#70a9b3" d="M1523.7 1757.1L1523.7 1424.7L1544.2 1424.8L1564.7 1409L1585.3 1390.6L1605.8 1413.6L1626.3 1435.9L1646.8 1427L1667.3 1427.1L1687.9 1425.1L1708.4 1414.9L1728.9 1420.8L1749.4 1445.9L1769.9 1476.3L1790.5 1493.5L1811 1490.6L1831.5 1470L1852 1451.3L1872.5 1454L1893.1 1440.1L1913.6 1440.3L1934.1 1409.1L1954.6 1395.9L1975.1 1369.8L1995.7 1380.9L2016.2 1372.4L2036.7 1359.6L2057.2 1342.9L2077.7 1327.4L2098.3 1334.9L2118.8 1307.6L2139.3 1268.4L2159.8 1276.6L2180.3 1302.9L2200.9 1289.6L2221.4 1257.7L2241.9 1236.6L2262.4 1207.9L2282.9 1197.3L2303.5 1192.1L2324 1211.1L2344.5 1171.4L2365 1163.2L2385.5 1195.8L2406.1 1183.1L2426.6 1195.9L2447.1 1182.6L2467.6 1147.6L2488.1 1132.1L2508.7 1147.1L2529.2 1171.7L2549.7 1202.3L2570.2 1198.2L2570.2 1757.1Z"/>
<path fill="#62a0ab" d="M1523.7 1757.1L1523.7 1426.5L1544.2 1426.6L1564.7 1410.8L1585.3 1392.6L1605.8 1415.5L1626.3 1437.7L1646.8 1428.9L1667.3 1428.9L1687.9 1427L1708.4 1416.8L1728.9 1422.8L1749.4 1447.8L1769.9 1477.9L1790.5 1495.1L1811 1492.3L1831.5 1471.7L1852 1453.2L1872.5 1455.9L1893.1 1442.2L1913.6 1442.4L1934.1 1411.4L1954.6 1398.3L1975.1 1372.5L1995.7 1383.6L2016.2 1375.1L2036.7 1362.5L2057.2 1346L2077.7 1330.7L2098.3 1338.2L2118.8 1311.5L2139.3 1272.6L2159.8 1280.9L2180.3 1307.6L2200.9 1295L2221.4 1263.9L2241.9 1243.2L2262.4 1215.5L2282.9 1205.7L2303.5 1199.9L2324 1217.2L2344.5 1178.8L2365 1170.9L2385.5 1203.5L2406.1 1190.9L2426.6 1203.2L2447.1 1190L2467.6 1155L2488.1 1139.3L2508.7 1154L2529.2 1178L2549.7 1208.1L2570.2 1204.8L2570.2 1757.1Z"/>
<path fill="#b7d050" d="M1523.7 1757.1L1523.7 1451.4L1544.2 1451.5L1564.7 1437L1585.3 1420.1L1605.8 1441.4L1626.3 1461.9L1646.8 1453.8L1667.3 1453.9L1687.9 1452.2L1708.4 1442.8L1728.9 1448.2L1749.4 1471.3L1769.9 1499.1L1790.5 1514.9L1811 1512.2L1831.5 1493.2L1852 1475.9L1872.5 1478.3L1893.1 1465.4L1913.6 1465.5L1934.1 1436.6L1954.6 1424.2L1975.1 1400.1L1995.7 1410L2016.2 1401.9L2036.7 1389.8L2057.2 1373.9L2077.7 1359.2L2098.3 1365.8L2118.8 1343.1L2139.3 1304.8L2159.8 1312.2L2180.3 1341.9L2200.9 1332.8L2221.4 1305.6L2241.9 1286.8L2262.4 1264.4L2282.9 1257.8L2303.5 1247.8L2324 1252.7L2344.5 1221.4L2365 1214.8L2385.5 1247.6L2406.1 1235.2L2426.6 1244.7L2447.1 1231.7L2467.6 1196.8L2488.1 1179.7L2508.7 1193.1L2529.2 1213.6L2549.7 1240.8L2570.2 1241.4L2570.2 1757.1Z"/>
<path fill="#f6d5be" d="M1523.7 1757.1L1523.7 1451.7L1544.2 1451.8L1564.7 1437.3L1585.3 1420.5L1605.8 1441.7L1626.3 1462.2L1646.8 1454.1L1667.3 1454.2L1687.9 1452.5L1708.4 1443.1L1728.9 1448.5L1749.4 1471.6L1769.9 1499.3L1790.5 1515.1L1811 1512.4L1831.5 1493.4L1852 1476.2L1872.5 1478.6L1893.1 1465.7L1913.6 1465.7L1934.1 1436.9L1954.6 1424.5L1975.1 1400.4L1995.7 1410.3L2016.2 1402.2L2036.7 1390.1L2057.2 1374.2L2077.7 1359.5L2098.3 1366.1L2118.8 1343.6L2139.3 1305.3L2159.8 1312.7L2180.3 1342.4L2200.9 1333.3L2221.4 1306.2L2241.9 1287.4L2262.4 1265.1L2282.9 1258.5L2303.5 1248.7L2324 1253.7L2344.5 1222.5L2365 1216L2385.5 1248.6L2406.1 1236.3L2426.6 1245.7L2447.1 1232.6L2467.6 1197.8L2488.1 1180.8L2508.7 1194.1L2529.2 1214.5L2549.7 1241.7L2570.2 1242.4L2570.2 1757.1Z"/>
<path fill="#ecaa7c" d="M1523.7 1757.1L1523.7 1452.5L1544.2 1452.6L1564.7 1438.1L1585.3 1421.3L1605.8 1442.5L1626.3 1462.9L1646.8 1454.8L1667.3 1454.9L1687.9 1453.2L1708.4 1443.8L1728.9 1449.2L1749.4 1472.2L1769.9 1499.9L1790.5 1515.6L1811 1512.9L1831.5 1493.9L1852 1476.7L1872.5 1479.2L1893.1 1466.3L1913.6 1466.4L1934.1 1437.6L1954.6 1425.3L1975.1 1401.2L1995.7 1411.1L2016.2 1402.9L2036.7 1390.8L2057.2 1375L2077.7 1360.2L2098.3 1367L2118.8 1344.6L2139.3 1306.5L2159.8 1313.8L2180.3 1343.6L2200.9 1334.4L2221.4 1307.5L2241.9 1288.8L2262.4 1266.7L2282.9 1260.2L2303.5 1250.8L2324 1255.9L2344.5 1225.2L2365 1218.8L2385.5 1251.1L2406.1 1238.7L2426.6 1248.3L2447.1 1234.8L2467.6 1200.2L2488.1 1183.4L2508.7 1196.5L2529.2 1216.6L2549.7 1243.9L2570.2 1244.9L2570.2 1757.1Z"/>
<path fill="#e3803b" d="M1523.7 1757.1L1523.7 1453.9L1544.2 1453.9L1564.7 1439.5L1585.3 1422.7L1605.8 1443.8L1626.3 1464.1L1646.8 1456L1667.3 1456.1L1687.9 1454.3L1708.4 1445L1728.9 1450.3L1749.4 1473.2L1769.9 1500.7L1790.5 1516.4L1811 1513.8L1831.5 1494.8L1852 1477.7L1872.5 1480.1L1893.1 1467.4L1913.6 1467.4L1934.1 1438.7L1954.6 1426.5L1975.1 1402.5L1995.7 1412.3L2016.2 1404.1L2036.7 1392L2057.2 1376.2L2077.7 1361.4L2098.3 1368.3L2118.8 1346.4L2139.3 1308.5L2159.8 1315.6L2180.3 1345.5L2200.9 1336.2L2221.4 1309.6L2241.9 1291.2L2262.4 1269.5L2282.9 1263.1L2303.5 1254.3L2324 1259.5L2344.5 1229.7L2365 1223.6L2385.5 1255.2L2406.1 1242.9L2426.6 1252.5L2447.1 1238.5L2467.6 1204.3L2488.1 1187.6L2508.7 1200.5L2529.2 1220.1L2549.7 1247.6L2570.2 1249L2570.2 1757.1Z"/>
<path fill="#ced6e8" d="M1523.7 1757.1L1523.7 1454.9L1544.2 1454.9L1564.7 1440.5L1585.3 1423.8L1605.8 1444.7L1626.3 1465L1646.8 1456.9L1667.3 1456.9L1687.9 1455.2L1708.4 1445.8L1728.9 1451.1L1749.4 1473.9L1769.9 1501.4L1790.5 1517L1811 1514.4L1831.5 1495.5L1852 1478.4L1872.5 1480.9L1893.1 1468.1L1913.6 1468.2L1934.1 1439.6L1954.6 1427.4L1975.1 1403.5L1995.7 1413.3L2016.2 1405.1L2036.7 1392.9L2057.2 1377.1L2077.7 1362.4L2098.3 1369.4L2118.8 1347.7L2139.3 1309.9L2159.8 1317L2180.3 1347L2200.9 1337.6L2221.4 1311.2L2241.9 1292.9L2262.4 1271.5L2282.9 1265.3L2303.5 1256.9L2324 1262.3L2344.5 1233.1L2365 1227.1L2385.5 1258.3L2406.1 1246L2426.6 1255.6L2447.1 1241.2L2467.6 1207.3L2488.1 1190.9L2508.7 1203.5L2529.2 1222.7L2549.7 1250.3L2570.2 1252L2570.2 1757.1Z"/>
<path fill="#9dadd2" d="M1523.7 1757.1L1523.7 1454.9L1544.2 1455L1564.7 1440.6L1585.3 1423.8L1605.8 1444.8L1626.3 1465L1646.8 1457L1667.3 1457L1687.9 1455.2L1708.4 1445.9L1728.9 1451.2L1749.4 1473.9L1769.9 1501.4L1790.5 1517L1811 1514.4L1831.5 1495.5L1852 1478.5L1872.5 1480.9L1893.1 1468.2L1913.6 1468.3L1934.1 1439.7L1954.6 1427.5L1975.1 1403.6L1995.7 1413.3L2016.2 1405.1L2036.7 1393L2057.2 1377.2L2077.7 1362.4L2098.3 1369.4L2118.8 1347.8L2139.3 1310L2159.8 1317.1L2180.3 1347.1L2200.9 1337.7L2221.4 1311.3L2241.9 1293L2262.4 1271.7L2282.9 1265.5L2303.5 1257.1L2324 1262.5L2344.5 1233.3L2365 1227.4L2385.5 1258.5L2406.1 1246.2L2426.6 1255.8L2447.1 1241.4L2467.6 1207.5L2488.1 1191.1L2508.7 1203.7L2529.2 1222.9L2549.7 1250.5L2570.2 1252.2L2570.2 1757.1Z"/>
<path fill="#6c84bc" d="M1523.7 1757.1L1523.7 1455L1544.2 1455L1564.7 1440.6L1585.3 1423.9L1605.8 1444.9L1626.3 1465.1L1646.8 1457L1667.3 1457L1687.9 1455.3L1708.4 1445.9L1728.9 1451.2L1749.4 1474L1769.9 1501.5L1790.5 1517.1L1811 1514.5L1831.5 1495.6L1852 1478.5L1872.5 1481L1893.1 1468.2L1913.6 1468.3L1934.1 1439.7L1954.6 1427.6L1975.1 1403.7L1995.7 1413.4L2016.2 1405.2L2036.7 1393.1L2057.2 1377.2L2077.7 1362.5L2098.3 1369.5L2118.8 1347.9L2139.3 1310.1L2159.8 1317.2L2180.3 1347.2L2200.9 1337.8L2221.4 1311.4L2241.9 1293.1L2262.4 1271.8L2282.9 1265.6L2303.5 1257.3L2324 1262.6L2344.5 1233.6L2365 1227.6L2385.5 1258.7L2406.1 1246.4L2426.6 1256L2447.1 1241.6L2467.6 1207.7L2488.1 1191.3L2508.7 1203.9L2529.2 1223.1L2549.7 1250.7L2570.2 1252.4L2570.2 1757.1Z"/>
<path fill="#3b5ba5" d="M1523.7 1757.1L1523.7 1455.1L1544.2 1455.1L1564.7 1440.7L1585.3 1424L1605.8 1444.9L1626.3 1465.2L1646.8 1457.1L1667.3 1457.1L1687.9 1455.3L1708.4 1446L1728.9 1451.3L1749.4 1474L1769.9 1501.5L1790.5 1517.1L1811 1514.5L1831.5 1495.6L1852 1478.6L1872.5 1481L1893.1 1468.3L1913.6 1468.4L1934.1 1439.8L1954.6 1427.6L1975.1 1403.7L1995.7 1413.5L2016.2 1405.3L2036.7 1393.1L2057.2 1377.3L2077.7 1362.5L2098.3 1369.6L2118.8 1348L2139.3 1310.2L2159.8 1317.3L2180.3 1347.3L2200.9 1337.9L2221.4 1311.5L2241.9 1293.3L2262.4 1271.9L2282.9 1265.7L2303.5 1257.5L2324 1262.8L2344.5 1233.8L2365 1227.8L2385.5 1258.9L2406.1 1246.6L2426.6 1256.3L2447.1 1241.8L2467.6 1207.9L2488.1 1191.5L2508.7 1204.1L2529.2 1223.3L2549.7 1250.9L2570.2 1252.6L2570.2 1757.1Z"/>
<path fill="#f6f3f2" d="M1523.7 1757.1L1523.7 1455.3L1544.2 1455.4L1564.7 1441L1585.3 1424.3L1605.8 1445.2L1626.3 1465.4L1646.8 1457.3L1667.3 1457.3L1687.9 1455.6L1708.4 1446.2L1728.9 1451.5L1749.4 1474.2L1769.9 1501.7L1790.5 1517.3L1811 1514.7L1831.5 1495.8L1852 1478.8L1872.5 1481.2L1893.1 1468.5L1913.6 1468.6L1934.1 1440L1954.6 1427.9L1975.1 1404L1995.7 1413.7L2016.2 1405.5L2036.7 1393.4L2057.2 1377.5L2077.7 1362.8L2098.3 1369.8L2118.8 1348.3L2139.3 1310.6L2159.8 1317.6L2180.3 1347.7L2200.9 1338.2L2221.4 1311.9L2241.9 1293.7L2262.4 1272.5L2282.9 1266.3L2303.5 1258.2L2324 1263.6L2344.5 1234.7L2365 1228.8L2385.5 1259.7L2406.1 1247.4L2426.6 1257.1L2447.1 1242.5L2467.6 1208.7L2488.1 1192.4L2508.7 1204.9L2529.2 1224L2549.7 1251.6L2570.2 1253.5L2570.2 1757.1Z"/>
<path fill="#eee8e4" d="M1523.7 1757.1L1523.7 1455.6L1544.2 1455.6L1564.7 1441.2L1585.3 1424.5L1605.8 1445.4L1626.3 1465.6L1646.8 1457.5L1667.3 1457.5L1687.9 1455.8L1708.4 1446.4L1728.9 1451.7L1749.4 1474.4L1769.9 1501.9L1790.5 1517.4L1811 1514.8L1831.5 1496L1852 1479L1872.5 1481.4L1893.1 1468.7L1913.6 1468.8L1934.1 1440.2L1954.6 1428.1L1975.1 1404.2L1995.7 1413.9L2016.2 1405.7L2036.7 1393.6L2057.2 1377.8L2077.7 1363L2098.3 1370.1L2118.8 1348.7L2139.3 1311L2159.8 1317.9L2180.3 1348.1L2200.9 1338.5L2221.4 1312.3L2241.9 1294.1L2262.4 1273L2282.9 1266.8L2303.5 1258.8L2324 1264.2L2344.5 1235.5L2365 1229.6L2385.5 1260.5L2406.1 1248.1L2426.6 1257.8L2447.1 1243.2L2467.6 1209.4L2488.1 1193.1L2508.7 1205.6L2529.2 1224.6L2549.7 1252.2L2570.2 1254.2L2570.2 1757.1Z"/>
<path fill="#e6dcd7" d="M1523.7 1757.1L1523.7 1455.8L1544.2 1455.8L1564.7 1441.4L1585.3 1424.7L1605.8 1445.6L1626.3 1465.8L1646.8 1457.7L1667.3 1457.7L1687.9 1456L1708.4 1446.6L1728.9 1451.9L1749.4 1474.6L1769.9 1502L1790.5 1517.6L1811 1514.9L1831.5 1496.1L1852 1479.1L1872.5 1481.6L1893.1 1468.9L1913.6 1468.9L1934.1 1440.4L1954.6 1428.3L1975.1 1404.5L1995.7 1414.2L2016.2 1405.9L2036.7 1393.8L2057.2 1378L2077.7 1363.2L2098.3 1370.3L2118.8 1349L2139.3 1311.3L2159.8 1318.3L2180.3 1348.4L2200.9 1338.9L2221.4 1312.7L2241.9 1294.6L2262.4 1273.4L2282.9 1267.3L2303.5 1259.4L2324 1264.8L2344.5 1236.3L2365 1230.5L2385.5 1261.2L2406.1 1248.8L2426.6 1258.6L2447.1 1243.8L2467.6 1210.1L2488.1 1193.9L2508.7 1206.3L2529.2 1225.2L2549.7 1252.9L2570.2 1254.9L2570.2 1757.1Z"/>
<path fill="#ddd0ca" d="M1523.7 1757.1L1523.7 1456L1544.2 1456L1564.7 1441.7L1585.3 1425L1605.8 1445.9L1626.3 1466L1646.8 1457.9L1667.3 1457.9L1687.9 1456.2L1708.4 1446.8L1728.9 1452.1L1749.4 1474.8L1769.9 1502.2L1790.5 1517.7L1811 1515.1L1831.5 1496.3L1852 1479.3L1872.5 1481.7L1893.1 1469L1913.6 1469.1L1934.1 1440.6L1954.6 1428.5L1975.1 1404.7L1995.7 1414.4L2016.2 1406.1L2036.7 1394L2057.2 1378.2L2077.7 1363.4L2098.3 1370.6L2118.8 1349.3L2139.3 1311.7L2159.8 1318.6L2180.3 1348.8L2200.9 1339.2L2221.4 1313.1L2241.9 1295L2262.4 1273.9L2282.9 1267.9L2303.5 1260L2324 1265.5L2344.5 1237L2365 1231.3L2385.5 1261.9L2406.1 1249.6L2426.6 1259.3L2447.1 1244.4L2467.6 1210.8L2488.1 1194.6L2508.7 1207L2529.2 1225.8L2549.7 1253.5L2570.2 1255.6L2570.2 1757.1Z"/>
<path fill="#d4c5bc" d="M1523.7 1757.1L1523.7 1456.3L1544.2 1456.3L1564.7 1441.9L1585.3 1425.2L1605.8 1446.1L1626.3 1466.2L1646.8 1458.1L1667.3 1458.2L1687.9 1456.4L1708.4 1447L1728.9 1452.3L1749.4 1474.9L1769.9 1502.3L1790.5 1517.8L1811 1515.2L1831.5 1496.4L1852 1479.5L1872.5 1481.9L1893.1 1469.2L1913.6 1469.3L1934.1 1440.8L1954.6 1428.7L1975.1 1404.9L1995.7 1414.6L2016.2 1406.4L2036.7 1394.2L2057.2 1378.4L2077.7 1363.6L2098.3 1370.8L2118.8 1349.6L2139.3 1312L2159.8 1318.9L2180.3 1349.1L2200.9 1339.5L2221.4 1313.4L2241.9 1295.4L2262.4 1274.4L2282.9 1268.4L2303.5 1260.6L2324 1266.1L2344.5 1237.8L2365 1232.1L2385.5 1262.6L2406.1 1250.3L2426.6 1260L2447.1 1245.1L2467.6 1211.5L2488.1 1195.4L2508.7 1207.7L2529.2 1226.4L2549.7 1254.1L2570.2 1256.3L2570.2 1757.1Z"/>
<path fill="#ccb9af" d="M1523.7 1757.1L1523.7 1456.5L1544.2 1456.5L1564.7 1442.2L1585.3 1425.5L1605.8 1446.3L1626.3 1466.4L1646.8 1458.3L1667.3 1458.4L1687.9 1456.6L1708.4 1447.2L1728.9 1452.5L1749.4 1475.1L1769.9 1502.5L1790.5 1518L1811 1515.4L1831.5 1496.6L1852 1479.6L1872.5 1482.1L1893.1 1469.4L1913.6 1469.5L1934.1 1441L1954.6 1428.9L1975.1 1405.2L1995.7 1414.8L2016.2 1406.6L2036.7 1394.5L2057.2 1378.6L2077.7 1363.9L2098.3 1371L2118.8 1349.9L2139.3 1312.4L2159.8 1319.2L2180.3 1349.5L2200.9 1339.8L2221.4 1313.8L2241.9 1295.8L2262.4 1274.9L2282.9 1268.9L2303.5 1261.2L2324 1266.8L2344.5 1238.6L2365 1232.9L2385.5 1263.4L2406.1 1251L2426.6 1260.8L2447.1 1245.7L2467.6 1212.3L2488.1 1196.1L2508.7 1208.4L2529.2 1227L2549.7 1254.8L2570.2 1257L2570.2 1757.1Z"/>
<path fill="#c4aea2" d="M1523.7 1757.1L1523.7 1456.7L1544.2 1456.7L1564.7 1442.4L1585.3 1425.7L1605.8 1446.5L1626.3 1466.6L1646.8 1458.6L1667.3 1458.6L1687.9 1456.8L1708.4 1447.4L1728.9 1452.7L1749.4 1475.3L1769.9 1502.6L1790.5 1518.1L1811 1515.5L1831.5 1496.8L1852 1479.8L1872.5 1482.2L1893.1 1469.6L1913.6 1469.7L1934.1 1441.2L1954.6 1429.1L1975.1 1405.4L1995.7 1415L2016.2 1406.8L2036.7 1394.7L2057.2 1378.8L2077.7 1364.1L2098.3 1371.3L2118.8 1350.2L2139.3 1312.7L2159.8 1319.6L2180.3 1349.8L2200.9 1340.1L2221.4 1314.2L2241.9 1296.2L2262.4 1275.4L2282.9 1269.4L2303.5 1261.9L2324 1267.4L2344.5 1239.4L2365 1233.8L2385.5 1264.1L2406.1 1251.7L2426.6 1261.5L2447.1 1246.4L2467.6 1213L2488.1 1196.9L2508.7 1209.1L2529.2 1227.6L2549.7 1255.4L2570.2 1257.8L2570.2 1757.1Z"/>
<path fill="#bba294" d="M1523.7 1757.1L1523.7 1457L1544.2 1457L1564.7 1442.6L1585.3 1426L1605.8 1446.8L1626.3 1466.8L1646.8 1458.8L1667.3 1458.8L1687.9 1457L1708.4 1447.6L1728.9 1452.9L1749.4 1475.5L1769.9 1502.8L1790.5 1518.3L1811 1515.7L1831.5 1496.9L1852 1480L1872.5 1482.4L1893.1 1469.8L1913.6 1469.9L1934.1 1441.5L1954.6 1429.4L1975.1 1405.6L1995.7 1415.2L2016.2 1407L2036.7 1394.9L2057.2 1379L2077.7 1364.3L2098.3 1371.5L2118.8 1350.5L2139.3 1313.1L2159.8 1319.9L2180.3 1350.2L2200.9 1340.5L2221.4 1314.5L2241.9 1296.6L2262.4 1275.8L2282.9 1269.9L2303.5 1262.5L2324 1268L2344.5 1240.2L2365 1234.6L2385.5 1264.8L2406.1 1252.4L2426.6 1262.3L2447.1 1247L2467.6 1213.7L2488.1 1197.6L2508.7 1209.8L2529.2 1228.2L2549.7 1256.1L2570.2 1258.5L2570.2 1757.1Z"/>
<path fill="#b29687" d="M1523.7 1757.1L1523.7 1457.2L1544.2 1457.2L1564.7 1442.9L1585.3 1426.2L1605.8 1447L1626.3 1467L1646.8 1459L1667.3 1459L1687.9 1457.2L1708.4 1447.8L1728.9 1453L1749.4 1475.6L1769.9 1502.9L1790.5 1518.4L1811 1515.8L1831.5 1497.1L1852 1480.1L1872.5 1482.6L1893.1 1470L1913.6 1470L1934.1 1441.7L1954.6 1429.6L1975.1 1405.9L1995.7 1415.5L2016.2 1407.2L2036.7 1395.1L2057.2 1379.3L2077.7 1364.5L2098.3 1371.8L2118.8 1350.8L2139.3 1313.4L2159.8 1320.2L2180.3 1350.5L2200.9 1340.8L2221.4 1314.9L2241.9 1297L2262.4 1276.3L2282.9 1270.4L2303.5 1263.1L2324 1268.7L2344.5 1241L2365 1235.4L2385.5 1265.5L2406.1 1253.2L2426.6 1263L2447.1 1247.6L2467.6 1214.4L2488.1 1198.4L2508.7 1210.5L2529.2 1228.9L2549.7 1256.7L2570.2 1259.2L2570.2 1757.1Z"/>
<path fill="#aa8b79" d="M1523.7 1757.1L1523.7 1457.4L1544.2 1457.4L1564.7 1443.1L1585.3 1426.5L1605.8 1447.2L1626.3 1467.2L1646.8 1459.2L1667.3 1459.2L1687.9 1457.4L1708.4 1448.1L1728.9 1453.2L1749.4 1475.8L1769.9 1503.1L1790.5 1518.5L1811 1516L1831.5 1497.2L1852 1480.3L1872.5 1482.8L1893.1 1470.1L1913.6 1470.2L1934.1 1441.9L1954.6 1429.8L1975.1 1406.1L1995.7 1415.7L2016.2 1407.4L2036.7 1395.3L2057.2 1379.5L2077.7 1364.7L2098.3 1372L2118.8 1351.1L2139.3 1313.8L2159.8 1320.5L2180.3 1350.9L2200.9 1341.1L2221.4 1315.3L2241.9 1297.4L2262.4 1276.8L2282.9 1270.9L2303.5 1263.7L2324 1269.3L2344.5 1241.8L2365 1236.3L2385.5 1266.2L2406.1 1253.9L2426.6 1263.7L2447.1 1248.3L2467.6 1215.1L2488.1 1199.1L2508.7 1211.2L2529.2 1229.5L2549.7 1257.3L2570.2 1259.9L2570.2 1757.1Z"/>
<path fill="#a27f6c" d="M1523.7 1757.1L1523.7 1457.7L1544.2 1457.7L1564.7 1443.3L1585.3 1426.7L1605.8 1447.4L1626.3 1467.4L1646.8 1459.4L1667.3 1459.4L1687.9 1457.6L1708.4 1448.3L1728.9 1453.4L1749.4 1476L1769.9 1503.2L1790.5 1518.7L1811 1516.1L1831.5 1497.4L1852 1480.5L1872.5 1482.9L1893.1 1470.3L1913.6 1470.4L1934.1 1442.1L1954.6 1430L1975.1 1406.3L1995.7 1415.9L2016.2 1407.7L2036.7 1395.5L2057.2 1379.7L2077.7 1364.9L2098.3 1372.3L2118.8 1351.4L2139.3 1314.1L2159.8 1320.8L2180.3 1351.2L2200.9 1341.4L2221.4 1315.7L2241.9 1297.8L2262.4 1277.3L2282.9 1271.4L2303.5 1264.3L2324 1270L2344.5 1242.6L2365 1237.1L2385.5 1267L2406.1 1254.6L2426.6 1264.5L2447.1 1248.9L2467.6 1215.8L2488.1 1199.9L2508.7 1211.9L2529.2 1230.1L2549.7 1258L2570.2 1260.6L2570.2 1757.1Z"/>
<path fill="#99735f" d="M1523.7 1757.1L1523.7 1457.9L1544.2 1457.9L1564.7 1443.6L1585.3 1426.9L1605.8 1447.7L1626.3 1467.7L1646.8 1459.6L1667.3 1459.6L1687.9 1457.8L1708.4 1448.5L1728.9 1453.6L1749.4 1476.2L1769.9 1503.4L1790.5 1518.8L1811 1516.2L1831.5 1497.5L1852 1480.7L1872.5 1483.1L1893.1 1470.5L1913.6 1470.6L1934.1 1442.3L1954.6 1430.2L1975.1 1406.6L1995.7 1416.1L2016.2 1407.9L2036.7 1395.7L2057.2 1379.9L2077.7 1365.1L2098.3 1372.5L2118.8 1351.8L2139.3 1314.5L2159.8 1321.2L2180.3 1351.5L2200.9 1341.8L2221.4 1316L2241.9 1298.2L2262.4 1277.8L2282.9 1271.9L2303.5 1264.9L2324 1270.6L2344.5 1243.4L2365 1237.9L2385.5 1267.7L2406.1 1255.3L2426.6 1265.2L2447.1 1249.6L2467.6 1216.5L2488.1 1200.6L2508.7 1212.6L2529.2 1230.7L2549.7 1258.6L2570.2 1261.3L2570.2 1757.1Z"/>
<path fill="#906851" d="M1523.7 1757.1L1523.7 1458.1L1544.2 1458.1L1564.7 1443.8L1585.3 1427.2L1605.8 1447.9L1626.3 1467.9L1646.8 1459.8L1667.3 1459.8L1687.9 1458L1708.4 1448.7L1728.9 1453.8L1749.4 1476.3L1769.9 1503.5L1790.5 1519L1811 1516.4L1831.5 1497.7L1852 1480.8L1872.5 1483.3L1893.1 1470.7L1913.6 1470.8L1934.1 1442.5L1954.6 1430.4L1975.1 1406.8L1995.7 1416.3L2016.2 1408.1L2036.7 1396L2057.2 1380.1L2077.7 1365.3L2098.3 1372.7L2118.8 1352.1L2139.3 1314.8L2159.8 1321.5L2180.3 1351.9L2200.9 1342.1L2221.4 1316.4L2241.9 1298.6L2262.4 1278.2L2282.9 1272.4L2303.5 1265.6L2324 1271.2L2344.5 1244.1L2365 1238.8L2385.5 1268.4L2406.1 1256L2426.6 1265.9L2447.1 1250.2L2467.6 1217.2L2488.1 1201.4L2508.7 1213.3L2529.2 1231.3L2549.7 1259.3L2570.2 1262.1L2570.2 1757.1Z"/>
<path fill="#885c44" d="M1523.7 1757.1L1523.7 1458.4L1544.2 1458.3L1564.7 1444.1L1585.3 1427.4L1605.8 1448.1L1626.3 1468.1L1646.8 1460L1667.3 1460L1687.9 1458.2L1708.4 1448.9L1728.9 1454L1749.4 1476.5L1769.9 1503.7L1790.5 1519.1L1811 1516.5L1831.5 1497.9L1852 1481L1872.5 1483.4L1893.1 1470.9L1913.6 1471L1934.1 1442.7L1954.6 1430.7L1975.1 1407L1995.7 1416.6L2016.2 1408.3L2036.7 1396.2L2057.2 1380.3L2077.7 1365.6L2098.3 1373L2118.8 1352.4L2139.3 1315.2L2159.8 1321.8L2180.3 1352.2L2200.9 1342.4L2221.4 1316.8L2241.9 1299.1L2262.4 1278.7L2282.9 1272.9L2303.5 1266.2L2324 1271.9L2344.5 1244.9L2365 1239.6L2385.5 1269.1L2406.1 1256.8L2426.6 1266.7L2447.1 1250.9L2467.6 1217.9L2488.1 1202.1L2508.7 1214L2529.2 1231.9L2549.7 1259.9L2570.2 1262.8L2570.2 1757.1Z"/>
<path fill="#edd7b6" d="M1523.7 1757.1L1523.7 1458.6L1544.2 1458.6L1564.7 1444.3L1585.3 1427.7L1605.8 1448.3L1626.3 1468.3L1646.8 1460.2L1667.3 1460.2L1687.9 1458.4L1708.4 1449.1L1728.9 1454.2L1749.4 1476.7L1769.9 1503.9L1790.5 1519.2L1811 1516.7L1831.5 1498L1852 1481.2L1872.5 1483.6L1893.1 1471L1913.6 1471.1L1934.1 1442.9L1954.6 1430.9L1975.1 1407.3L1995.7 1416.8L2016.2 1408.5L2036.7 1396.4L2057.2 1380.5L2077.7 1365.8L2098.3 1373.2L2118.8 1352.7L2139.3 1315.5L2159.8 1322.1L2180.3 1352.6L2200.9 1342.7L2221.4 1317.2L2241.9 1299.5L2262.4 1279.2L2282.9 1273.4L2303.5 1266.8L2324 1272.5L2344.5 1245.7L2365 1240.4L2385.5 1269.8L2406.1 1257.5L2426.6 1267.4L2447.1 1251.5L2467.6 1218.6L2488.1 1202.9L2508.7 1214.7L2529.2 1232.5L2549.7 1260.5L2570.2 1263.5L2570.2 1757.1Z"/>
<path fill="#dbae6c" d="M1523.7 1757.1L1523.7 1460.2L1544.2 1460.2L1564.7 1445.9L1585.3 1429.4L1605.8 1450L1626.3 1469.8L1646.8 1461.8L1667.3 1461.8L1687.9 1460L1708.4 1450.8L1728.9 1455.9L1749.4 1478.2L1769.9 1505.2L1790.5 1520.6L1811 1518L1831.5 1499.4L1852 1482.6L1872.5 1485L1893.1 1472.5L1913.6 1472.6L1934.1 1444.4L1954.6 1432.5L1975.1 1408.9L1995.7 1418.4L2016.2 1410.2L2036.7 1398.1L2057.2 1382.4L2077.7 1367.6L2098.3 1375L2118.8 1354.5L2139.3 1317.1L2159.8 1323.8L2180.3 1354.2L2200.9 1344.5L2221.4 1319.1L2241.9 1301.3L2262.4 1281.1L2282.9 1275.3L2303.5 1268.6L2324 1274.3L2344.5 1247.6L2365 1242.1L2385.5 1271.6L2406.1 1259.2L2426.6 1269.2L2447.1 1253.5L2467.6 1220.7L2488.1 1204.8L2508.7 1216.7L2529.2 1234.5L2549.7 1262.3L2570.2 1265.2L2570.2 1757.1Z"/>
<path fill="#c98623" d="M1523.7 1757.1L1523.7 1465.4L1544.2 1465.4L1564.7 1451.5L1585.3 1435.3L1605.8 1455.6L1626.3 1475.1L1646.8 1467.3L1667.3 1467.3L1687.9 1465.5L1708.4 1456.5L1728.9 1461.5L1749.4 1483.5L1769.9 1510L1790.5 1525L1811 1522.5L1831.5 1504.2L1852 1487.7L1872.5 1490.1L1893.1 1477.7L1913.6 1477.7L1934.1 1450L1954.6 1438.2L1975.1 1415L1995.7 1424.4L2016.2 1416.4L2036.7 1404.6L2057.2 1389.1L2077.7 1374.7L2098.3 1381.9L2118.8 1361.6L2139.3 1323.6L2159.8 1330.5L2180.3 1361.2L2200.9 1352.3L2221.4 1327.3L2241.9 1309.5L2262.4 1289.9L2282.9 1284L2303.5 1277.2L2324 1282.4L2344.5 1256.7L2365 1250.4L2385.5 1280.2L2406.1 1267.8L2426.6 1278.1L2447.1 1263.5L2467.6 1230.6L2488.1 1214.5L2508.7 1226.5L2529.2 1244.1L2549.7 1270.8L2570.2 1274L2570.2 1757.1Z"/>
<path fill="#c6ccd0" d="M1523.7 1757.1L1523.7 1470.6L1544.2 1470.7L1564.7 1457.1L1585.3 1441.3L1605.8 1461.2L1626.3 1480.4L1646.8 1472.8L1667.3 1472.9L1687.9 1471.3L1708.4 1462.5L1728.9 1467.5L1749.4 1489L1769.9 1515.1L1790.5 1529.8L1811 1527.3L1831.5 1509.5L1852 1493.3L1872.5 1495.6L1893.1 1483.6L1913.6 1483.6L1934.1 1456.5L1954.6 1444.9L1975.1 1422.2L1995.7 1431.5L2016.2 1423.9L2036.7 1412.6L2057.2 1397.7L2077.7 1383.9L2098.3 1391.3L2118.8 1371.5L2139.3 1332.8L2159.8 1340.2L2180.3 1371.5L2200.9 1364.2L2221.4 1340L2241.9 1322.4L2262.4 1303.9L2282.9 1298.1L2303.5 1291.5L2324 1296.4L2344.5 1272.6L2365 1264.9L2385.5 1295.4L2406.1 1282.9L2426.6 1293.8L2447.1 1281.2L2467.6 1248.4L2488.1 1231.7L2508.7 1244.1L2529.2 1261.4L2549.7 1286.1L2570.2 1289.9L2570.2 1757.1Z"/>
<path fill="#8e99a2" d="M1523.7 1757.1L1523.7 1471.1L1544.2 1471.2L1564.7 1457.6L1585.3 1441.8L1605.8 1461.7L1626.3 1480.9L1646.8 1473.3L1667.3 1473.4L1687.9 1471.7L1708.4 1463L1728.9 1467.9L1749.4 1489.5L1769.9 1515.4L1790.5 1530.2L1811 1527.7L1831.5 1509.9L1852 1493.8L1872.5 1496.1L1893.1 1484L1913.6 1484L1934.1 1456.9L1954.6 1445.3L1975.1 1422.7L1995.7 1432L2016.2 1424.4L2036.7 1413L2057.2 1398.2L2077.7 1384.4L2098.3 1391.7L2118.8 1371.9L2139.3 1333.2L2159.8 1340.6L2180.3 1371.9L2200.9 1364.6L2221.4 1340.4L2241.9 1322.8L2262.4 1304.3L2282.9 1298.6L2303.5 1291.9L2324 1296.8L2344.5 1272.9L2365 1265.3L2385.5 1295.7L2406.1 1283.2L2426.6 1294.2L2447.1 1281.6L2467.6 1248.8L2488.1 1232.1L2508.7 1244.4L2529.2 1261.8L2549.7 1286.5L2570.2 1290.3L2570.2 1757.1Z"/>
<path fill="#556673" d="M1523.7 1757.1L1523.7 1471.4L1544.2 1471.5L1564.7 1457.9L1585.3 1442.1L1605.8 1462L1626.3 1481.2L1646.8 1473.6L1667.3 1473.6L1687.9 1472L1708.4 1463.2L1728.9 1468.2L1749.4 1489.7L1769.9 1515.6L1790.5 1530.4L1811 1527.9L1831.5 1510.1L1852 1494L1872.5 1496.3L1893.1 1484.2L1913.6 1484.2L1934.1 1457.2L1954.6 1445.6L1975.1 1422.9L1995.7 1432.3L2016.2 1424.6L2036.7 1413.3L2057.2 1398.5L2077.7 1384.6L2098.3 1392L2118.8 1372.1L2139.3 1333.4L2159.8 1340.8L2180.3 1372.1L2200.9 1364.8L2221.4 1340.6L2241.9 1323L2262.4 1304.5L2282.9 1298.8L2303.5 1292.1L2324 1297.1L2344.5 1273.1L2365 1265.5L2385.5 1295.9L2406.1 1283.4L2426.6 1294.3L2447.1 1281.8L2467.6 1249L2488.1 1232.3L2508.7 1244.6L2529.2 1262L2549.7 1286.7L2570.2 1290.4L2570.2 1757.1Z"/>
<path fill="#c2c2db" d="M1523.7 1757.1L1523.7 1480.8L1544.2 1480.8L1564.7 1467.7L1585.3 1452.4L1605.8 1471.6L1626.3 1490.1L1646.8 1482.8L1667.3 1482.8L1687.9 1481.2L1708.4 1472.7L1728.9 1477.5L1749.4 1498.2L1769.9 1523.3L1790.5 1537.5L1811 1535.4L1831.5 1518.5L1852 1503.2L1872.5 1505.7L1893.1 1494L1913.6 1493.8L1934.1 1467.6L1954.6 1456.2L1975.1 1434.2L1995.7 1443.1L2016.2 1435.5L2036.7 1424.4L2057.2 1409.8L2077.7 1396.3L2098.3 1402.9L2118.8 1383.3L2139.3 1343.5L2159.8 1351L2180.3 1382.3L2200.9 1377.3L2221.4 1353.6L2241.9 1335.8L2262.4 1317.9L2282.9 1313.4L2303.5 1305.5L2324 1312.1L2344.5 1287.4L2365 1279.7L2385.5 1309L2406.1 1297.5L2426.6 1309L2447.1 1296.8L2467.6 1264.7L2488.1 1248.2L2508.7 1259.7L2529.2 1277.8L2549.7 1302.6L2570.2 1305.2L2570.2 1757.1Z"/>
<path fill="#8485b7" d="M1523.7 1757.1L1523.7 1480.9L1544.2 1480.9L1564.7 1467.8L1585.3 1452.5L1605.8 1471.7L1626.3 1490.2L1646.8 1482.9L1667.3 1483L1687.9 1481.4L1708.4 1472.9L1728.9 1477.6L1749.4 1498.4L1769.9 1523.4L1790.5 1537.6L1811 1535.5L1831.5 1518.5L1852 1503.3L1872.5 1505.8L1893.1 1494.1L1913.6 1493.9L1934.1 1467.7L1954.6 1456.3L1975.1 1434.3L1995.7 1443.1L2016.2 1435.6L2036.7 1424.5L2057.2 1409.9L2077.7 1396.4L2098.3 1403L2118.8 1383.4L2139.3 1343.6L2159.8 1351.1L2180.3 1382.4L2200.9 1377.4L2221.4 1353.8L2241.9 1336L2262.4 1318.1L2282.9 1313.6L2303.5 1305.7L2324 1312.2L2344.5 1287.5L2365 1279.9L2385.5 1309.1L2406.1 1297.6L2426.6 1309.1L2447.1 1296.9L2467.6 1264.9L2488.1 1248.3L2508.7 1259.9L2529.2 1278L2549.7 1302.8L2570.2 1305.4L2570.2 1757.1Z"/>
<path fill="#474893" d="M1523.7 1757.1L1523.7 1481L1544.2 1481.1L1564.7 1468L1585.3 1452.7L1605.8 1471.9L1626.3 1490.4L1646.8 1483L1667.3 1483.1L1687.9 1481.5L1708.4 1473L1728.9 1477.7L1749.4 1498.5L1769.9 1523.5L1790.5 1537.7L1811 1535.6L1831.5 1518.6L1852 1503.4L1872.5 1505.9L1893.1 1494.1L1913.6 1494L1934.1 1467.7L1954.6 1456.4L1975.1 1434.4L1995.7 1443.2L2016.2 1435.7L2036.7 1424.6L2057.2 1410L2077.7 1396.5L2098.3 1403.1L2118.8 1383.6L2139.3 1343.8L2159.8 1351.2L2180.3 1382.6L2200.9 1377.6L2221.4 1354L2241.9 1336.1L2262.4 1318.2L2282.9 1313.7L2303.5 1305.8L2324 1312.4L2344.5 1287.7L2365 1280L2385.5 1309.3L2406.1 1297.8L2426.6 1309.3L2447.1 1297.1L2467.6 1265L2488.1 1248.5L2508.7 1260.1L2529.2 1278.2L2549.7 1302.9L2570.2 1305.6L2570.2 1757.1Z"/>
<path fill="#ded0cc" d="M1523.7 1757.1L1523.7 1481.4L1544.2 1481.5L1564.7 1468.4L1585.3 1453.1L1605.8 1472.3L1626.3 1490.7L1646.8 1483.4L1667.3 1483.4L1687.9 1481.8L1708.4 1473.4L1728.9 1478.1L1749.4 1498.8L1769.9 1523.8L1790.5 1538L1811 1535.8L1831.5 1518.9L1852 1503.7L1872.5 1506.2L1893.1 1494.4L1913.6 1494.3L1934.1 1468L1954.6 1456.7L1975.1 1434.6L1995.7 1443.5L2016.2 1436L2036.7 1424.9L2057.2 1410.4L2077.7 1396.9L2098.3 1403.5L2118.8 1384L2139.3 1344.1L2159.8 1351.6L2180.3 1383L2200.9 1377.9L2221.4 1354.4L2241.9 1336.6L2262.4 1318.7L2282.9 1314.2L2303.5 1306.2L2324 1312.8L2344.5 1288.1L2365 1280.5L2385.5 1309.7L2406.1 1298.2L2426.6 1309.7L2447.1 1297.5L2467.6 1265.5L2488.1 1249L2508.7 1260.6L2529.2 1278.7L2549.7 1303.4L2570.2 1306L2570.2 1757.1Z"/>
<path fill="#bca09a" d="M1523.7 1757.1L1523.7 1483.4L1544.2 1483.4L1564.7 1470.4L1585.3 1455.2L1605.8 1474.2L1626.3 1492.6L1646.8 1485.2L1667.3 1485.3L1687.9 1483.7L1708.4 1475.2L1728.9 1479.9L1749.4 1500.4L1769.9 1525.3L1790.5 1539.3L1811 1537.2L1831.5 1520.4L1852 1505.2L1872.5 1507.7L1893.1 1495.8L1913.6 1495.6L1934.1 1469.4L1954.6 1458L1975.1 1435.9L1995.7 1444.9L2016.2 1437.5L2036.7 1426.6L2057.2 1412.2L2077.7 1398.9L2098.3 1405.6L2118.8 1386.5L2139.3 1346.5L2159.8 1353.9L2180.3 1385.5L2200.9 1380.3L2221.4 1357.6L2241.9 1340.1L2262.4 1321.9L2282.9 1317.4L2303.5 1309.3L2324 1315.8L2344.5 1291.7L2365 1284L2385.5 1313.3L2406.1 1301.8L2426.6 1313L2447.1 1300.8L2467.6 1269.2L2488.1 1253L2508.7 1265.1L2529.2 1283L2549.7 1307.3L2570.2 1310L2570.2 1757.1Z"/>
<path fill="#fbf4f1" d="M1523.7 1757.1L1523.7 1488L1544.2 1488L1564.7 1475.2L1585.3 1460.3L1605.8 1478.9L1626.3 1496.9L1646.8 1489.7L1667.3 1489.7L1687.9 1488.2L1708.4 1479.8L1728.9 1484.4L1749.4 1504.6L1769.9 1529L1790.5 1542.8L1811 1540.7L1831.5 1524.1L1852 1509.1L1872.5 1511.5L1893.1 1499.7L1913.6 1499.2L1934.1 1473.2L1954.6 1461.7L1975.1 1439.7L1995.7 1448.9L2016.2 1442L2036.7 1431.6L2057.2 1418L2077.7 1405.4L2098.3 1412.7L2118.8 1395.4L2139.3 1355.1L2159.8 1362.5L2180.3 1395.5L2200.9 1389.7L2221.4 1370.7L2241.9 1354.6L2262.4 1336.1L2282.9 1331.9L2303.5 1323.6L2324 1330.2L2344.5 1309.6L2365 1301.3L2385.5 1331.1L2406.1 1319.7L2426.6 1329.6L2447.1 1317.4L2467.6 1288L2488.1 1273.3L2508.7 1287.8L2529.2 1305.1L2549.7 1327.3L2570.2 1330.6L2570.2 1757.1Z"/>
<path fill="#f7e8e3" d="M1523.7 1757.1L1523.7 1489.3L1544.2 1489.3L1564.7 1476.6L1585.3 1461.7L1605.8 1480.3L1626.3 1498.2L1646.8 1491.1L1667.3 1491.1L1687.9 1489.5L1708.4 1481.2L1728.9 1485.8L1749.4 1505.9L1769.9 1530.1L1790.5 1543.9L1811 1541.7L1831.5 1525.2L1852 1510.3L1872.5 1512.7L1893.1 1500.9L1913.6 1500.5L1934.1 1474.5L1954.6 1463.1L1975.1 1441.2L1995.7 1450.3L2016.2 1443.4L2036.7 1433.1L2057.2 1419.5L2077.7 1406.9L2098.3 1414.2L2118.8 1397.1L2139.3 1356.7L2159.8 1364.1L2180.3 1397.1L2200.9 1391.4L2221.4 1372.3L2241.9 1356.2L2262.4 1337.9L2282.9 1333.9L2303.5 1325.7L2324 1332L2344.5 1311.7L2365 1303.5L2385.5 1333.2L2406.1 1321.8L2426.6 1331.7L2447.1 1319.6L2467.6 1290.2L2488.1 1275.5L2508.7 1290.1L2529.2 1307.2L2549.7 1329.5L2570.2 1332.8L2570.2 1757.1Z"/>
<path fill="#f3ddd5" d="M1523.7 1757.1L1523.7 1489.4L1544.2 1489.5L1564.7 1476.7L1585.3 1461.9L1605.8 1480.4L1626.3 1498.4L1646.8 1491.2L1667.3 1491.2L1687.9 1489.6L1708.4 1481.4L1728.9 1485.9L1749.4 1506L1769.9 1530.2L1790.5 1544L1811 1541.8L1831.5 1525.3L1852 1510.4L1872.5 1512.8L1893.1 1501L1913.6 1500.6L1934.1 1474.6L1954.6 1463.2L1975.1 1441.3L1995.7 1450.4L2016.2 1443.5L2036.7 1433.2L2057.2 1419.6L2077.7 1407L2098.3 1414.3L2118.8 1397.2L2139.3 1356.9L2159.8 1364.3L2180.3 1397.3L2200.9 1391.5L2221.4 1372.5L2241.9 1356.3L2262.4 1338.1L2282.9 1334L2303.5 1325.8L2324 1332.2L2344.5 1311.9L2365 1303.7L2385.5 1333.4L2406.1 1322L2426.6 1331.9L2447.1 1319.7L2467.6 1290.4L2488.1 1275.7L2508.7 1290.3L2529.2 1307.4L2549.7 1329.7L2570.2 1333L2570.2 1757.1Z"/>
<path fill="#efd2c7" d="M1523.7 1757.1L1523.7 1489.5L1544.2 1489.6L1564.7 1476.8L1585.3 1462L1605.8 1480.5L1626.3 1498.5L1646.8 1491.3L1667.3 1491.3L1687.9 1489.8L1708.4 1481.5L1728.9 1486L1749.4 1506.1L1769.9 1530.3L1790.5 1544.1L1811 1541.9L1831.5 1525.4L1852 1510.5L1872.5 1512.9L1893.1 1501.1L1913.6 1500.7L1934.1 1474.7L1954.6 1463.3L1975.1 1441.4L1995.7 1450.5L2016.2 1443.7L2036.7 1433.3L2057.2 1419.7L2077.7 1407.1L2098.3 1414.5L2118.8 1397.3L2139.3 1357L2159.8 1364.4L2180.3 1397.4L2200.9 1391.7L2221.4 1372.6L2241.9 1356.5L2262.4 1338.2L2282.9 1334.2L2303.5 1326L2324 1332.3L2344.5 1312.1L2365 1303.8L2385.5 1333.5L2406.1 1322.1L2426.6 1332.1L2447.1 1319.9L2467.6 1290.6L2488.1 1275.9L2508.7 1290.4L2529.2 1307.6L2549.7 1329.9L2570.2 1333.2L2570.2 1757.1Z"/>
<path fill="#ebc6b9" d="M1523.7 1757.1L1523.7 1489.8L1544.2 1489.8L1564.7 1477.1L1585.3 1462.2L1605.8 1480.8L1626.3 1498.7L1646.8 1491.5L1667.3 1491.6L1687.9 1490L1708.4 1481.7L1728.9 1486.3L1749.4 1506.3L1769.9 1530.5L1790.5 1544.2L1811 1542.1L1831.5 1525.6L1852 1510.7L1872.5 1513.1L1893.1 1501.3L1913.6 1500.9L1934.1 1475L1954.6 1463.6L1975.1 1441.7L1995.7 1450.8L2016.2 1443.9L2036.7 1433.6L2057.2 1420L2077.7 1407.4L2098.3 1414.8L2118.8 1397.7L2139.3 1357.4L2159.8 1364.8L2180.3 1397.8L2200.9 1392.1L2221.4 1373L2241.9 1356.8L2262.4 1338.7L2282.9 1334.6L2303.5 1326.5L2324 1332.8L2344.5 1312.6L2365 1304.4L2385.5 1334.1L2406.1 1322.7L2426.6 1332.6L2447.1 1320.5L2467.6 1291.1L2488.1 1276.4L2508.7 1291L2529.2 1308.1L2549.7 1330.4L2570.2 1333.8L2570.2 1757.1Z"/>
<path fill="#e7bbab" d="M1523.7 1757.1L1523.7 1490.1L1544.2 1490.1L1564.7 1477.4L1585.3 1462.6L1605.8 1481.1L1626.3 1499L1646.8 1491.9L1667.3 1491.9L1687.9 1490.3L1708.4 1482.1L1728.9 1486.6L1749.4 1506.6L1769.9 1530.8L1790.5 1544.5L1811 1542.4L1831.5 1525.9L1852 1511L1872.5 1513.4L1893.1 1501.7L1913.6 1501.2L1934.1 1475.3L1954.6 1464L1975.1 1442.1L1995.7 1451.2L2016.2 1444.4L2036.7 1434L2057.2 1420.5L2077.7 1407.9L2098.3 1415.2L2118.8 1398.2L2139.3 1357.9L2159.8 1365.3L2180.3 1398.4L2200.9 1392.7L2221.4 1373.6L2241.9 1357.5L2262.4 1339.4L2282.9 1335.4L2303.5 1327.3L2324 1333.5L2344.5 1313.5L2365 1305.3L2385.5 1334.9L2406.1 1323.5L2426.6 1333.5L2447.1 1321.3L2467.6 1292L2488.1 1277.3L2508.7 1292L2529.2 1309L2549.7 1331.4L2570.2 1334.7L2570.2 1757.1Z"/>
<path fill="#e3af9d" d="M1523.7 1757.1L1523.7 1490.4L1544.2 1490.5L1564.7 1477.8L1585.3 1463L1605.8 1481.5L1626.3 1499.4L1646.8 1492.2L1667.3 1492.3L1687.9 1490.7L1708.4 1482.5L1728.9 1487L1749.4 1507L1769.9 1531.1L1790.5 1544.8L1811 1542.7L1831.5 1526.2L1852 1511.4L1872.5 1513.7L1893.1 1502L1913.6 1501.6L1934.1 1475.7L1954.6 1464.4L1975.1 1442.5L1995.7 1451.6L2016.2 1444.8L2036.7 1434.5L2057.2 1420.9L2077.7 1408.3L2098.3 1415.7L2118.8 1398.7L2139.3 1358.5L2159.8 1365.9L2180.3 1398.9L2200.9 1393.3L2221.4 1374.2L2241.9 1358.1L2262.4 1340.1L2282.9 1336.1L2303.5 1328.1L2324 1334.2L2344.5 1314.3L2365 1306.1L2385.5 1335.8L2406.1 1324.4L2426.6 1334.4L2447.1 1322.2L2467.6 1292.9L2488.1 1278.2L2508.7 1292.9L2529.2 1309.9L2549.7 1332.3L2570.2 1335.6L2570.2 1757.1Z"/>
<path fill="#dfa48f" d="M1523.7 1757.1L1523.7 1491.1L1544.2 1491.1L1564.7 1478.5L1585.3 1463.7L1605.8 1482.2L1626.3 1500L1646.8 1492.9L1667.3 1492.9L1687.9 1491.4L1708.4 1483.2L1728.9 1487.7L1749.4 1507.6L1769.9 1531.7L1790.5 1545.4L1811 1543.2L1831.5 1526.8L1852 1512L1872.5 1514.3L1893.1 1502.6L1913.6 1502.2L1934.1 1476.4L1954.6 1465.1L1975.1 1443.3L1995.7 1452.4L2016.2 1445.5L2036.7 1435.2L2057.2 1421.7L2077.7 1409.1L2098.3 1416.5L2118.8 1399.6L2139.3 1359.4L2159.8 1366.8L2180.3 1399.8L2200.9 1394.3L2221.4 1375.2L2241.9 1359L2262.4 1341.2L2282.9 1337.2L2303.5 1329.2L2324 1335.2L2344.5 1315.6L2365 1307.4L2385.5 1337L2406.1 1325.6L2426.6 1335.6L2447.1 1323.5L2467.6 1294.2L2488.1 1279.5L2508.7 1294.2L2529.2 1311.2L2549.7 1333.6L2570.2 1336.9L2570.2 1757.1Z"/>
<path fill="#db9981" d="M1523.7 1757.1L1523.7 1498.3L1544.2 1498.4L1564.7 1486.1L1585.3 1471.8L1605.8 1489.8L1626.3 1507.2L1646.8 1500.3L1667.3 1500.3L1687.9 1498.9L1708.4 1490.9L1728.9 1495.3L1749.4 1514.7L1769.9 1538.1L1790.5 1551.3L1811 1549.2L1831.5 1533.1L1852 1518.6L1872.5 1520.8L1893.1 1509.4L1913.6 1509L1934.1 1483.9L1954.6 1472.8L1975.1 1451.6L1995.7 1460.3L2016.2 1453.6L2036.7 1443.5L2057.2 1430.1L2077.7 1417.7L2098.3 1425L2118.8 1409L2139.3 1369.1L2159.8 1376.6L2180.3 1409.7L2200.9 1404.7L2221.4 1385.3L2241.9 1368.8L2262.4 1352.5L2282.9 1348.9L2303.5 1341.6L2324 1346.2L2344.5 1328.7L2365 1320.8L2385.5 1350L2406.1 1338.5L2426.6 1348.8L2447.1 1336.8L2467.6 1308L2488.1 1293.3L2508.7 1308.4L2529.2 1324.7L2549.7 1347.3L2570.2 1350.9L2570.2 1757.1Z"/>
<path fill="#d78d73" d="M1523.7 1757.1L1523.7 1498.8L1544.2 1498.8L1564.7 1486.6L1585.3 1472.3L1605.8 1490.3L1626.3 1507.6L1646.8 1500.7L1667.3 1500.8L1687.9 1499.3L1708.4 1491.4L1728.9 1495.8L1749.4 1515.1L1769.9 1538.5L1790.5 1551.7L1811 1549.6L1831.5 1533.5L1852 1519L1872.5 1521.2L1893.1 1509.8L1913.6 1509.4L1934.1 1484.3L1954.6 1473.3L1975.1 1452.1L1995.7 1460.8L2016.2 1454.1L2036.7 1444L2057.2 1430.7L2077.7 1418.3L2098.3 1425.6L2118.8 1409.6L2139.3 1369.7L2159.8 1377.2L2180.3 1410.3L2200.9 1405.3L2221.4 1385.9L2241.9 1369.5L2262.4 1353.3L2282.9 1349.7L2303.5 1342.4L2324 1346.9L2344.5 1329.6L2365 1321.7L2385.5 1350.9L2406.1 1339.3L2426.6 1349.7L2447.1 1337.7L2467.6 1308.9L2488.1 1294.2L2508.7 1309.4L2529.2 1325.6L2549.7 1348.2L2570.2 1351.8L2570.2 1757.1Z"/>
<path fill="#d38265" d="M1523.7 1757.1L1523.7 1504.9L1544.2 1505L1564.7 1493.1L1585.3 1479.2L1605.8 1496.8L1626.3 1513.7L1646.8 1507L1667.3 1507.1L1687.9 1505.8L1708.4 1498.1L1728.9 1502.3L1749.4 1521.2L1769.9 1544L1790.5 1556.9L1811 1554.8L1831.5 1539.1L1852 1524.9L1872.5 1527L1893.1 1515.9L1913.6 1515.5L1934.1 1491.1L1954.6 1480.4L1975.1 1459.8L1995.7 1468.2L2016.2 1461.6L2036.7 1451.7L2057.2 1438.7L2077.7 1426.6L2098.3 1434L2118.8 1419L2139.3 1379.6L2159.8 1387.2L2180.3 1420.4L2200.9 1416.1L2221.4 1396.5L2241.9 1379.9L2262.4 1365.5L2282.9 1362.4L2303.5 1356L2324 1359.1L2344.5 1344.3L2365 1336.8L2385.5 1365.5L2406.1 1353.8L2426.6 1364.5L2447.1 1352.7L2467.6 1324.5L2488.1 1309.8L2508.7 1325.4L2529.2 1340.9L2549.7 1363.8L2570.2 1367.7L2570.2 1757.1Z"/>
<path fill="#ebbbbb" d="M1523.7 1757.1L1523.7 1511.6L1544.2 1511.7L1564.7 1500.1L1585.3 1486.7L1605.8 1503.8L1626.3 1520.3L1646.8 1513.9L1667.3 1514L1687.9 1512.7L1708.4 1505.3L1728.9 1509.4L1749.4 1527.8L1769.9 1549.9L1790.5 1562.5L1811 1560.4L1831.5 1545L1852 1531.2L1872.5 1533.2L1893.1 1522.4L1913.6 1522L1934.1 1498.3L1954.6 1487.8L1975.1 1467.8L1995.7 1475.9L2016.2 1469.4L2036.7 1459.6L2057.2 1446.9L2077.7 1435L2098.3 1442.4L2118.8 1428.4L2139.3 1389.4L2159.8 1397.1L2180.3 1430.4L2200.9 1426.7L2221.4 1406.9L2241.9 1390.1L2262.4 1377.3L2282.9 1374.6L2303.5 1368.9L2324 1370.6L2344.5 1358.3L2365 1351L2385.5 1379.3L2406.1 1367.5L2426.6 1378.5L2447.1 1366.9L2467.6 1339.1L2488.1 1324.4L2508.7 1340.5L2529.2 1355.3L2549.7 1378.4L2570.2 1382.6L2570.2 1757.1Z"/>
<path fill="#d87876" d="M1523.7 1757.1L1523.7 1664.7L1544.2 1664.7L1564.7 1660.3L1585.3 1655.1L1605.8 1661.5L1626.3 1667.7L1646.8 1665.2L1667.3 1665.2L1687.9 1664.6L1708.4 1661.7L1728.9 1663.4L1749.4 1670.4L1769.9 1678.8L1790.5 1683.6L1811 1682.3L1831.5 1675.9L1852 1670.1L1872.5 1670.3L1893.1 1665.7L1913.6 1665.1L1934.1 1655.4L1954.6 1650.8L1975.1 1642.4L1995.7 1645L2016.2 1641.8L2036.7 1637.2L2057.2 1636.1L2077.7 1635.6L2098.3 1641.8L2118.8 1638.7L2139.3 1634.1L2159.8 1628.5L2180.3 1627.8L2200.9 1629.4L2221.4 1619.6L2241.9 1612.9L2262.4 1598.9L2282.9 1595.3L2303.5 1594L2324 1598.9L2344.5 1584.1L2365 1582.4L2385.5 1592.3L2406.1 1583.8L2426.6 1587.5L2447.1 1580.2L2467.6 1566.2L2488.1 1558L2508.7 1568.9L2529.2 1583L2549.7 1592.7L2570.2 1591.3L2570.2 1757.1Z"/>
<path fill="#c43432" d="M1523.7 1757.1L1523.7 1695.2L1544.2 1695.1L1564.7 1692.1L1585.3 1688.6L1605.8 1692.9L1626.3 1697L1646.8 1695.2L1667.3 1695.2L1687.9 1694.8L1708.4 1692.8L1728.9 1693.8L1749.4 1698.5L1769.9 1704.2L1790.5 1707.4L1811 1706.6L1831.5 1702.4L1852 1698.6L1872.5 1698.8L1893.1 1695.9L1913.6 1695.6L1934.1 1689.2L1954.6 1686.3L1975.1 1680.8L1995.7 1682.7L2016.2 1680.7L2036.7 1677.8L2057.2 1676.2L2077.7 1674.9L2098.3 1678.1L2118.8 1675L2139.3 1670.6L2159.8 1667.8L2180.3 1668.2L2200.9 1671.4L2221.4 1665.4L2241.9 1661.5L2262.4 1650.8L2282.9 1648.8L2303.5 1648.4L2324 1653.5L2344.5 1645.9L2365 1643.8L2385.5 1649.2L2406.1 1643.4L2426.6 1645.7L2447.1 1641.6L2467.6 1633.1L2488.1 1628.4L2508.7 1631L2529.2 1636L2549.7 1640.9L2570.2 1638.2L2570.2 1757.1Z"/>
<path fill="#f2f9f6" d="M1523.7 1757.1L1523.7 1707.8L1544.2 1707.8L1564.7 1705.3L1585.3 1702.5L1605.8 1705.9L1626.3 1709.1L1646.8 1707.7L1667.3 1707.7L1687.9 1707.3L1708.4 1705.7L1728.9 1706.5L1749.4 1710.2L1769.9 1714.7L1790.5 1717.3L1811 1716.7L1831.5 1713.4L1852 1710.3L1872.5 1710.6L1893.1 1708.2L1913.6 1708L1934.1 1703L1954.6 1700.7L1975.1 1696.4L1995.7 1697.9L2016.2 1696.4L2036.7 1694.1L2057.2 1693L2077.7 1692.2L2098.3 1695L2118.8 1692.8L2139.3 1689.6L2159.8 1685.3L2180.3 1683.8L2200.9 1686.3L2221.4 1682.9L2241.9 1681.4L2262.4 1674.7L2282.9 1670.5L2303.5 1667.4L2324 1670.3L2344.5 1662.4L2365 1659.5L2385.5 1663.2L2406.1 1659.4L2426.6 1660.1L2447.1 1655.9L2467.6 1647.8L2488.1 1643.1L2508.7 1645.3L2529.2 1649.5L2549.7 1653.5L2570.2 1650.7L2570.2 1757.1Z"/>
<path fill="#e6f3ed" d="M1523.7 1757.1L1523.7 1708.3L1544.2 1708.2L1564.7 1705.8L1585.3 1703L1605.8 1706.3L1626.3 1709.6L1646.8 1708.2L1667.3 1708.1L1687.9 1707.8L1708.4 1706.2L1728.9 1707L1749.4 1710.7L1769.9 1715.2L1790.5 1717.7L1811 1717.1L1831.5 1713.8L1852 1710.8L1872.5 1711L1893.1 1708.7L1913.6 1708.5L1934.1 1703.5L1954.6 1701.2L1975.1 1697L1995.7 1698.5L2016.2 1696.9L2036.7 1694.7L2057.2 1693.6L2077.7 1692.8L2098.3 1695.6L2118.8 1693.4L2139.3 1690.2L2159.8 1686L2180.3 1684.5L2200.9 1687L2221.4 1683.6L2241.9 1682.2L2262.4 1675.6L2282.9 1671.4L2303.5 1668.3L2324 1671.2L2344.5 1663.4L2365 1660.5L2385.5 1664.2L2406.1 1660.3L2426.6 1661L2447.1 1656.8L2467.6 1648.9L2488.1 1644.2L2508.7 1646.3L2529.2 1650.5L2549.7 1654.5L2570.2 1651.7L2570.2 1757.1Z"/>
<path fill="#d9ede4" d="M1523.7 1757.1L1523.7 1714.8L1544.2 1714.8L1564.7 1712.7L1585.3 1710.4L1605.8 1713.3L1626.3 1716.2L1646.8 1715L1667.3 1715L1687.9 1714.8L1708.4 1713.5L1728.9 1714.2L1749.4 1717.4L1769.9 1721.3L1790.5 1723.5L1811 1722.9L1831.5 1720L1852 1717.3L1872.5 1717.3L1893.1 1715.2L1913.6 1714.9L1934.1 1710.4L1954.6 1708.3L1975.1 1704.4L1995.7 1705.6L2016.2 1704.1L2036.7 1702L2057.2 1700.8L2077.7 1699.9L2098.3 1702.2L2118.8 1700L2139.3 1697L2159.8 1692.8L2180.3 1691L2200.9 1693.7L2221.4 1690.8L2241.9 1689.6L2262.4 1683.7L2282.9 1679.7L2303.5 1676.6L2324 1678.9L2344.5 1671.6L2365 1668.9L2385.5 1672.1L2406.1 1668.1L2426.6 1668.4L2447.1 1664.5L2467.6 1657.1L2488.1 1652.7L2508.7 1654.5L2529.2 1658.2L2549.7 1662L2570.2 1659.5L2570.2 1757.1Z"/>
<path fill="#cce7db" d="M1523.7 1757.1L1523.7 1715.8L1544.2 1715.8L1564.7 1713.9L1585.3 1711.6L1605.8 1714.5L1626.3 1717.3L1646.8 1716.2L1667.3 1716.2L1687.9 1716L1708.4 1714.8L1728.9 1715.5L1749.4 1718.6L1769.9 1722.4L1790.5 1724.6L1811 1724L1831.5 1721.1L1852 1718.5L1872.5 1718.6L1893.1 1716.5L1913.6 1716.3L1934.1 1711.9L1954.6 1709.9L1975.1 1706.1L1995.7 1707.2L2016.2 1705.8L2036.7 1703.8L2057.2 1702.7L2077.7 1701.9L2098.3 1704.1L2118.8 1702.1L2139.3 1699.2L2159.8 1695.1L2180.3 1693.3L2200.9 1696.1L2221.4 1693.5L2241.9 1692.6L2262.4 1687L2282.9 1683.1L2303.5 1680.2L2324 1682.5L2344.5 1675.5L2365 1672.8L2385.5 1675.9L2406.1 1671.8L2426.6 1672L2447.1 1668.3L2467.6 1661.1L2488.1 1656.9L2508.7 1658.5L2529.2 1662.1L2549.7 1665.7L2570.2 1663.4L2570.2 1757.1Z"/>
<path fill="#c0e0d2" d="M1523.7 1757.1L1523.7 1716.7L1544.2 1716.7L1564.7 1714.8L1585.3 1712.6L1605.8 1715.5L1626.3 1718.2L1646.8 1717.2L1667.3 1717.2L1687.9 1717L1708.4 1715.8L1728.9 1716.6L1749.4 1719.6L1769.9 1723.3L1790.5 1725.4L1811 1724.9L1831.5 1722.1L1852 1719.5L1872.5 1719.6L1893.1 1717.6L1913.6 1717.4L1934.1 1713.1L1954.6 1711.1L1975.1 1707.5L1995.7 1708.6L2016.2 1707.2L2036.7 1705.2L2057.2 1704.2L2077.7 1703.4L2098.3 1705.6L2118.8 1703.6L2139.3 1700.9L2159.8 1696.8L2180.3 1695.1L2200.9 1698L2221.4 1695.6L2241.9 1694.8L2262.4 1689.5L2282.9 1685.8L2303.5 1683L2324 1685.1L2344.5 1678.4L2365 1675.8L2385.5 1678.8L2406.1 1674.6L2426.6 1674.7L2447.1 1671.1L2467.6 1664.1L2488.1 1660L2508.7 1661.6L2529.2 1664.9L2549.7 1668.6L2570.2 1666.3L2570.2 1757.1Z"/>
<path fill="#b3dac9" d="M1523.7 1757.1L1523.7 1717.5L1544.2 1717.6L1564.7 1715.7L1585.3 1713.6L1605.8 1716.4L1626.3 1719.1L1646.8 1718.1L1667.3 1718.1L1687.9 1718L1708.4 1716.8L1728.9 1717.6L1749.4 1720.6L1769.9 1724.2L1790.5 1726.3L1811 1725.7L1831.5 1723L1852 1720.5L1872.5 1720.5L1893.1 1718.6L1913.6 1718.3L1934.1 1714.2L1954.6 1712.2L1975.1 1708.6L1995.7 1709.7L2016.2 1708.3L2036.7 1706.4L2057.2 1705.4L2077.7 1704.6L2098.3 1706.8L2118.8 1704.9L2139.3 1702.2L2159.8 1698.1L2180.3 1696.4L2200.9 1699.3L2221.4 1697.1L2241.9 1696.4L2262.4 1691.3L2282.9 1687.6L2303.5 1684.9L2324 1687L2344.5 1680.4L2365 1677.8L2385.5 1680.7L2406.1 1676.5L2426.6 1676.5L2447.1 1672.9L2467.6 1666.1L2488.1 1662.1L2508.7 1663.6L2529.2 1666.9L2549.7 1670.4L2570.2 1668.3L2570.2 1757.1Z"/>
<path fill="#a6d4c0" d="M1523.7 1757.1L1523.7 1718.4L1544.2 1718.5L1564.7 1716.7L1585.3 1714.6L1605.8 1717.4L1626.3 1720L1646.8 1719.1L1667.3 1719.1L1687.9 1719L1708.4 1717.9L1728.9 1718.6L1749.4 1721.6L1769.9 1725.1L1790.5 1727.1L1811 1726.6L1831.5 1723.9L1852 1721.5L1872.5 1721.6L1893.1 1719.7L1913.6 1719.4L1934.1 1715.4L1954.6 1713.5L1975.1 1710L1995.7 1711L2016.2 1709.7L2036.7 1707.8L2057.2 1706.8L2077.7 1706.2L2098.3 1708.3L2118.8 1706.4L2139.3 1703.9L2159.8 1699.9L2180.3 1698.1L2200.9 1701.2L2221.4 1699.1L2241.9 1698.6L2262.4 1693.8L2282.9 1690.3L2303.5 1687.6L2324 1689.6L2344.5 1683.3L2365 1680.8L2385.5 1683.5L2406.1 1679.3L2426.6 1679.2L2447.1 1675.7L2467.6 1669.2L2488.1 1665.3L2508.7 1666.6L2529.2 1669.7L2549.7 1673.2L2570.2 1671.2L2570.2 1757.1Z"/>
<path fill="#9aceb7" d="M1523.7 1757.1L1523.7 1718.8L1544.2 1718.9L1564.7 1717.2L1585.3 1715.1L1605.8 1717.8L1626.3 1720.5L1646.8 1719.5L1667.3 1719.6L1687.9 1719.5L1708.4 1718.4L1728.9 1719.1L1749.4 1722L1769.9 1725.5L1790.5 1727.5L1811 1727L1831.5 1724.4L1852 1722L1872.5 1722L1893.1 1720.1L1913.6 1719.9L1934.1 1715.9L1954.6 1714L1975.1 1710.6L1995.7 1711.6L2016.2 1710.2L2036.7 1708.4L2057.2 1707.5L2077.7 1706.8L2098.3 1708.9L2118.8 1707.1L2139.3 1704.5L2159.8 1700.5L2180.3 1698.8L2200.9 1701.9L2221.4 1699.9L2241.9 1699.4L2262.4 1694.7L2282.9 1691.2L2303.5 1688.5L2324 1690.6L2344.5 1684.3L2365 1681.8L2385.5 1684.5L2406.1 1680.3L2426.6 1680.1L2447.1 1676.7L2467.6 1670.2L2488.1 1666.3L2508.7 1667.6L2529.2 1670.7L2549.7 1674.2L2570.2 1672.2L2570.2 1757.1Z"/>
<path fill="#8dc8ae" d="M1523.7 1757.1L1523.7 1721.4L1544.2 1721.5L1564.7 1719.9L1585.3 1718.1L1605.8 1720.7L1626.3 1723.1L1646.8 1722.3L1667.3 1722.4L1687.9 1722.3L1708.4 1721.3L1728.9 1722.1L1749.4 1724.8L1769.9 1728L1790.5 1729.9L1811 1729.3L1831.5 1726.9L1852 1724.6L1872.5 1724.6L1893.1 1722.8L1913.6 1722.5L1934.1 1718.8L1954.6 1717L1975.1 1713.7L1995.7 1714.6L2016.2 1713.3L2036.7 1711.4L2057.2 1710.5L2077.7 1709.9L2098.3 1711.8L2118.8 1710L2139.3 1707.6L2159.8 1703.6L2180.3 1701.7L2200.9 1704.9L2221.4 1703.2L2241.9 1702.9L2262.4 1698.5L2282.9 1695.1L2303.5 1692.5L2324 1694.3L2344.5 1688.3L2365 1685.9L2385.5 1688.4L2406.1 1684.1L2426.6 1683.8L2447.1 1680.5L2467.6 1674.3L2488.1 1670.5L2508.7 1671.7L2529.2 1674.6L2549.7 1677.9L2570.2 1676.1L2570.2 1757.1Z"/>
<path fill="#df639c" d="M1523.7 1757.1L1523.7 1722.5L1544.2 1722.7L1564.7 1721.2L1585.3 1719.4L1605.8 1721.9L1626.3 1724.3L1646.8 1723.5L1667.3 1723.6L1687.9 1723.6L1708.4 1722.6L1728.9 1723.4L1749.4 1726L1769.9 1729.2L1790.5 1731L1811 1730.4L1831.5 1728.1L1852 1725.9L1872.5 1725.9L1893.1 1724.1L1913.6 1723.8L1934.1 1720.2L1954.6 1718.5L1975.1 1715.3L1995.7 1716.1L2016.2 1714.8L2036.7 1713.1L2057.2 1712.2L2077.7 1711.6L2098.3 1713.4L2118.8 1711.7L2139.3 1709.4L2159.8 1705.5L2180.3 1703.6L2200.9 1706.9L2221.4 1705.4L2241.9 1705.3L2262.4 1701.1L2282.9 1697.9L2303.5 1695.3L2324 1697L2344.5 1691.2L2365 1689L2385.5 1691.3L2406.1 1687L2426.6 1686.5L2447.1 1683.3L2467.6 1677.3L2488.1 1673.7L2508.7 1674.8L2529.2 1677.4L2549.7 1680.7L2570.2 1679L2570.2 1757.1Z"/>
<path fill="#e8eaec" d="M1523.7 1757.1L1523.7 1727.4L1544.2 1727.4L1564.7 1726L1585.3 1724.4L1605.8 1726.5L1626.3 1728.5L1646.8 1727.7L1667.3 1727.7L1687.9 1727.6L1708.4 1726.7L1728.9 1727.2L1749.4 1729.5L1769.9 1732.2L1790.5 1733.7L1811 1733.5L1831.5 1731.8L1852 1730.2L1872.5 1730.5L1893.1 1729.4L1913.6 1729.5L1934.1 1726.9L1954.6 1725.8L1975.1 1723.7L1995.7 1724.8L2016.2 1724.1L2036.7 1723.2L2057.2 1721.6L2077.7 1720.2L2098.3 1720.7L2118.8 1718.3L2139.3 1715.1L2159.8 1712.6L2180.3 1711.8L2200.9 1714.3L2221.4 1712.9L2241.9 1712.7L2262.4 1708.6L2282.9 1705.8L2303.5 1703.6L2324 1705.6L2344.5 1701.1L2365 1699.6L2385.5 1702L2406.1 1699.4L2426.6 1697.9L2447.1 1694.8L2467.6 1689.3L2488.1 1685.8L2508.7 1687L2529.2 1689.6L2549.7 1692.1L2570.2 1690.3L2570.2 1757.1Z"/>
<path fill="#d1d6d9" d="M1523.7 1757.1L1523.7 1727.7L1544.2 1727.7L1564.7 1726.4L1585.3 1724.7L1605.8 1726.8L1626.3 1728.8L1646.8 1728L1667.3 1728L1687.9 1727.9L1708.4 1727L1728.9 1727.5L1749.4 1729.8L1769.9 1732.4L1790.5 1734L1811 1733.8L1831.5 1732.1L1852 1730.5L1872.5 1730.8L1893.1 1729.7L1913.6 1729.8L1934.1 1727.2L1954.6 1726.2L1975.1 1724L1995.7 1725.1L2016.2 1724.5L2036.7 1723.6L2057.2 1722L2077.7 1720.5L2098.3 1721.1L2118.8 1718.7L2139.3 1715.5L2159.8 1713.1L2180.3 1712.3L2200.9 1714.7L2221.4 1713.3L2241.9 1713L2262.4 1709L2282.9 1706.2L2303.5 1704L2324 1705.9L2344.5 1701.5L2365 1700L2385.5 1702.3L2406.1 1699.8L2426.6 1698.3L2447.1 1695.2L2467.6 1689.8L2488.1 1686.3L2508.7 1687.5L2529.2 1690.1L2549.7 1692.6L2570.2 1690.8L2570.2 1757.1Z"/>
<path fill="#bac1c6" d="M1523.7 1757.1L1523.7 1727.9L1544.2 1727.9L1564.7 1726.6L1585.3 1725L1605.8 1727L1626.3 1729L1646.8 1728.2L1667.3 1728.2L1687.9 1728.1L1708.4 1727.2L1728.9 1727.7L1749.4 1730L1769.9 1732.6L1790.5 1734.1L1811 1734L1831.5 1732.3L1852 1730.7L1872.5 1731L1893.1 1729.9L1913.6 1730L1934.1 1727.4L1954.6 1726.4L1975.1 1724.3L1995.7 1725.4L2016.2 1724.8L2036.7 1723.8L2057.2 1722.3L2077.7 1720.8L2098.3 1721.3L2118.8 1718.9L2139.3 1715.8L2159.8 1713.3L2180.3 1712.5L2200.9 1715L2221.4 1713.5L2241.9 1713.3L2262.4 1709.2L2282.9 1706.4L2303.5 1704.3L2324 1706.2L2344.5 1701.8L2365 1700.3L2385.5 1702.6L2406.1 1700L2426.6 1698.6L2447.1 1695.5L2467.6 1690.1L2488.1 1686.7L2508.7 1687.9L2529.2 1690.4L2549.7 1692.9L2570.2 1691.2L2570.2 1757.1Z"/>
<path fill="#a3acb3" d="M1523.7 1757.1L1523.7 1730.2L1544.2 1730.2L1564.7 1729L1585.3 1727.5L1605.8 1729.4L1626.3 1731.3L1646.8 1730.6L1667.3 1730.7L1687.9 1730.6L1708.4 1729.8L1728.9 1730.3L1749.4 1732.4L1769.9 1734.8L1790.5 1736.2L1811 1736.1L1831.5 1734.6L1852 1733.3L1872.5 1733.7L1893.1 1732.8L1913.6 1732.9L1934.1 1730.7L1954.6 1729.9L1975.1 1728.1L1995.7 1729.1L2016.2 1728.7L2036.7 1727.9L2057.2 1726.7L2077.7 1725.6L2098.3 1726.2L2118.8 1724.3L2139.3 1721.9L2159.8 1720L2180.3 1719.5L2200.9 1721.7L2221.4 1720.7L2241.9 1720.8L2262.4 1717.6L2282.9 1715.6L2303.5 1714.1L2324 1715.9L2344.5 1712.6L2365 1711.7L2385.5 1713.8L2406.1 1712.1L2426.6 1711.3L2447.1 1709.2L2467.6 1705.3L2488.1 1703.1L2508.7 1704.4L2529.2 1706.6L2549.7 1708.9L2570.2 1707.9L2570.2 1757.1Z"/>
<path fill="#8b98a0" d="M1523.7 1757.1L1523.7 1731L1544.2 1731L1564.7 1729.8L1585.3 1728.5L1605.8 1730.3L1626.3 1732.1L1646.8 1731.5L1667.3 1731.5L1687.9 1731.4L1708.4 1730.7L1728.9 1731.2L1749.4 1733.2L1769.9 1735.6L1790.5 1736.9L1811 1736.8L1831.5 1735.4L1852 1734.1L1872.5 1734.5L1893.1 1733.6L1913.6 1733.8L1934.1 1731.6L1954.6 1730.8L1975.1 1729.1L1995.7 1730.1L2016.2 1729.7L2036.7 1729L2057.2 1727.8L2077.7 1726.7L2098.3 1727.3L2118.8 1725.4L2139.3 1723L2159.8 1721.2L2180.3 1720.7L2200.9 1722.9L2221.4 1721.9L2241.9 1721.9L2262.4 1718.8L2282.9 1716.8L2303.5 1715.3L2324 1717.1L2344.5 1713.9L2365 1713L2385.5 1715.1L2406.1 1713.5L2426.6 1712.7L2447.1 1710.7L2467.6 1707L2488.1 1704.8L2508.7 1706.1L2529.2 1708.4L2549.7 1710.6L2570.2 1709.7L2570.2 1757.1Z"/>
<path fill="#74838d" d="M1523.7 1757.1L1523.7 1749.4L1544.2 1749.4L1564.7 1749L1585.3 1748.5L1605.8 1749.1L1626.3 1749.6L1646.8 1749.3L1667.3 1749.3L1687.9 1749.3L1708.4 1749L1728.9 1749.1L1749.4 1749.7L1769.9 1750.4L1790.5 1750.8L1811 1750.7L1831.5 1750.2L1852 1749.7L1872.5 1749.8L1893.1 1749.4L1913.6 1749.4L1934.1 1748.7L1954.6 1748.3L1975.1 1747.7L1995.7 1747.9L2016.2 1747.7L2036.7 1747.4L2057.2 1746.9L2077.7 1746.4L2098.3 1746.5L2118.8 1745.7L2139.3 1744.7L2159.8 1743.8L2180.3 1743.5L2200.9 1744.2L2221.4 1743.6L2241.9 1743.5L2262.4 1742.1L2282.9 1741.2L2303.5 1740.4L2324 1740.9L2344.5 1739.4L2365 1738.7L2385.5 1739.3L2406.1 1738.3L2426.6 1737.6L2447.1 1736.4L2467.6 1734.4L2488.1 1733L2508.7 1733.2L2529.2 1733.9L2549.7 1734.5L2570.2 1733.7L2570.2 1757.1Z"/>
<path fill="#5d6e7a" d="M1523.7 1757.1L1523.7 1750.6L1544.2 1750.6L1564.7 1750.3L1585.3 1749.9L1605.8 1750.3L1626.3 1750.8L1646.8 1750.6L1667.3 1750.5L1687.9 1750.5L1708.4 1750.3L1728.9 1750.4L1749.4 1750.8L1769.9 1751.4L1790.5 1751.8L1811 1751.7L1831.5 1751.2L1852 1750.8L1872.5 1750.9L1893.1 1750.6L1913.6 1750.5L1934.1 1749.9L1954.6 1749.5L1975.1 1749L1995.7 1749.2L2016.2 1749L2036.7 1748.7L2057.2 1748.2L2077.7 1747.7L2098.3 1747.8L2118.8 1747.1L2139.3 1746.2L2159.8 1745.4L2180.3 1745.1L2200.9 1745.7L2221.4 1745.2L2241.9 1745L2262.4 1743.8L2282.9 1742.9L2303.5 1742.1L2324 1742.6L2344.5 1741.2L2365 1740.6L2385.5 1741.1L2406.1 1740.1L2426.6 1739.5L2447.1 1738.4L2467.6 1736.6L2488.1 1735.3L2508.7 1735.5L2529.2 1736L2549.7 1736.6L2570.2 1735.9L2570.2 1757.1Z"/>
<path fill="#465a67" d="M1523.7 1757.1L1523.7 1752.2L1544.2 1752.2L1564.7 1751.9L1585.3 1751.6L1605.8 1751.9L1626.3 1752.3L1646.8 1752.1L1667.3 1752.1L1687.9 1752.1L1708.4 1751.9L1728.9 1752L1749.4 1752.3L1769.9 1752.8L1790.5 1753L1811 1753L1831.5 1752.6L1852 1752.3L1872.5 1752.3L1893.1 1752.1L1913.6 1752L1934.1 1751.5L1954.6 1751.3L1975.1 1750.8L1995.7 1751L2016.2 1750.8L2036.7 1750.6L2057.2 1750.2L2077.7 1749.9L2098.3 1749.9L2118.8 1749.3L2139.3 1748.6L2159.8 1748L2180.3 1747.8L2200.9 1748.2L2221.4 1747.8L2241.9 1747.7L2262.4 1746.7L2282.9 1746L2303.5 1745.4L2324 1745.7L2344.5 1744.7L2365 1744.2L2385.5 1744.5L2406.1 1743.8L2426.6 1743.3L2447.1 1742.4L2467.6 1740.9L2488.1 1739.8L2508.7 1739.9L2529.2 1740.4L2549.7 1740.8L2570.2 1740.2L2570.2 1757.1Z"/>
<path fill="#2f4554" d="M1523.7 1757.1L1523.7 1753.2L1544.2 1753.2L1564.7 1753L1585.3 1752.8L1605.8 1753L1626.3 1753.3L1646.8 1753.2L1667.3 1753.1L1687.9 1753.1L1708.4 1753L1728.9 1753L1749.4 1753.3L1769.9 1753.7L1790.5 1753.9L1811 1753.8L1831.5 1753.5L1852 1753.3L1872.5 1753.3L1893.1 1753.1L1913.6 1753.1L1934.1 1752.6L1954.6 1752.4L1975.1 1752.1L1995.7 1752.2L2016.2 1752.1L2036.7 1751.9L2057.2 1751.6L2077.7 1751.3L2098.3 1751.3L2118.8 1750.9L2139.3 1750.3L2159.8 1749.8L2180.3 1749.6L2200.9 1749.9L2221.4 1749.6L2241.9 1749.5L2262.4 1748.7L2282.9 1748.1L2303.5 1747.6L2324 1747.9L2344.5 1747L2365 1746.5L2385.5 1746.8L2406.1 1746.2L2426.6 1745.7L2447.1 1745L2467.6 1743.7L2488.1 1742.8L2508.7 1742.9L2529.2 1743.2L2549.7 1743.6L2570.2 1743L2570.2 1757.1Z"/>
<path fill="#f3f4f6" d="M1523.7 1757.1L1523.7 1753.5L1544.2 1753.5L1564.7 1753.3L1585.3 1753.1L1605.8 1753.3L1626.3 1753.6L1646.8 1753.5L1667.3 1753.4L1687.9 1753.4L1708.4 1753.3L1728.9 1753.3L1749.4 1753.6L1769.9 1753.9L1790.5 1754.1L1811 1754.1L1831.5 1753.8L1852 1753.6L1872.5 1753.6L1893.1 1753.4L1913.6 1753.3L1934.1 1752.9L1954.6 1752.8L1975.1 1752.4L1995.7 1752.5L2016.2 1752.4L2036.7 1752.2L2057.2 1751.9L2077.7 1751.7L2098.3 1751.7L2118.8 1751.3L2139.3 1750.7L2159.8 1750.3L2180.3 1750.1L2200.9 1750.4L2221.4 1750.1L2241.9 1749.9L2262.4 1749.2L2282.9 1748.6L2303.5 1748.2L2324 1748.4L2344.5 1747.6L2365 1747.1L2385.5 1747.4L2406.1 1746.8L2426.6 1746.4L2447.1 1745.6L2467.6 1744.4L2488.1 1743.6L2508.7 1743.6L2529.2 1744L2549.7 1744.3L2570.2 1743.7L2570.2 1757.1Z"/>
<path fill="#e6eaed" d="M1523.7 1757.1L1523.7 1754L1544.2 1754L1564.7 1753.8L1585.3 1753.6L1605.8 1753.8L1626.3 1754L1646.8 1753.9L1667.3 1753.9L1687.9 1753.9L1708.4 1753.7L1728.9 1753.8L1749.4 1754L1769.9 1754.3L1790.5 1754.5L1811 1754.4L1831.5 1754.2L1852 1754L1872.5 1754L1893.1 1753.8L1913.6 1753.8L1934.1 1753.4L1954.6 1753.3L1975.1 1753L1995.7 1753.1L2016.2 1752.9L2036.7 1752.8L2057.2 1752.5L2077.7 1752.3L2098.3 1752.3L2118.8 1751.9L2139.3 1751.4L2159.8 1751L2180.3 1750.8L2200.9 1751.1L2221.4 1750.8L2241.9 1750.7L2262.4 1750.1L2282.9 1749.6L2303.5 1749.1L2324 1749.4L2344.5 1748.6L2365 1748.2L2385.5 1748.4L2406.1 1747.9L2426.6 1747.5L2447.1 1746.9L2467.6 1745.8L2488.1 1745L2508.7 1745.1L2529.2 1745.4L2549.7 1745.6L2570.2 1745.2L2570.2 1757.1Z"/>
<path fill="#dadfe4" d="M1523.7 1757.1L1523.7 1754.6L1544.2 1754.6L1564.7 1754.5L1585.3 1754.3L1605.8 1754.5L1626.3 1754.6L1646.8 1754.6L1667.3 1754.5L1687.9 1754.5L1708.4 1754.4L1728.9 1754.5L1749.4 1754.6L1769.9 1754.9L1790.5 1755L1811 1755L1831.5 1754.8L1852 1754.6L1872.5 1754.6L1893.1 1754.5L1913.6 1754.4L1934.1 1754.1L1954.6 1754L1975.1 1753.8L1995.7 1753.8L2016.2 1753.7L2036.7 1753.6L2057.2 1753.4L2077.7 1753.2L2098.3 1753.2L2118.8 1752.8L2139.3 1752.4L2159.8 1752.1L2180.3 1751.9L2200.9 1752.1L2221.4 1751.9L2241.9 1751.8L2262.4 1751.2L2282.9 1750.7L2303.5 1750.4L2324 1750.5L2344.5 1749.9L2365 1749.6L2385.5 1749.8L2406.1 1749.3L2426.6 1749L2447.1 1748.4L2467.6 1747.5L2488.1 1746.9L2508.7 1746.9L2529.2 1747.1L2549.7 1747.4L2570.2 1746.9L2570.2 1757.1Z"/>
<path fill="#cdd5db" d="M1523.7 1757.1L1523.7 1755.5L1544.2 1755.5L1564.7 1755.4L1585.3 1755.3L1605.8 1755.4L1626.3 1755.5L1646.8 1755.4L1667.3 1755.4L1687.9 1755.4L1708.4 1755.3L1728.9 1755.4L1749.4 1755.5L1769.9 1755.6L1790.5 1755.7L1811 1755.7L1831.5 1755.5L1852 1755.4L1872.5 1755.4L1893.1 1755.3L1913.6 1755.3L1934.1 1755.1L1954.6 1755L1975.1 1754.8L1995.7 1754.9L2016.2 1754.8L2036.7 1754.7L2057.2 1754.5L2077.7 1754.4L2098.3 1754.4L2118.8 1754.1L2139.3 1753.8L2159.8 1753.5L2180.3 1753.4L2200.9 1753.5L2221.4 1753.3L2241.9 1753.3L2262.4 1752.8L2282.9 1752.5L2303.5 1752.2L2324 1752.3L2344.5 1751.8L2365 1751.6L2385.5 1751.7L2406.1 1751.4L2426.6 1751.1L2447.1 1750.7L2467.6 1750L2488.1 1749.6L2508.7 1749.6L2529.2 1749.8L2549.7 1749.9L2570.2 1749.6L2570.2 1757.1Z"/>
<path fill="#c1cad2" d="M1523.7 1757.1L1523.7 1756L1544.2 1756L1564.7 1756L1585.3 1755.9L1605.8 1755.9L1626.3 1756L1646.8 1756L1667.3 1756L1687.9 1756L1708.4 1755.9L1728.9 1755.9L1749.4 1756L1769.9 1756.1L1790.5 1756.2L1811 1756.1L1831.5 1756L1852 1756L1872.5 1755.9L1893.1 1755.9L1913.6 1755.9L1934.1 1755.7L1954.6 1755.6L1975.1 1755.5L1995.7 1755.5L2016.2 1755.5L2036.7 1755.4L2057.2 1755.3L2077.7 1755.1L2098.3 1755.1L2118.8 1754.9L2139.3 1754.7L2159.8 1754.5L2180.3 1754.4L2200.9 1754.5L2221.4 1754.3L2241.9 1754.2L2262.4 1753.9L2282.9 1753.7L2303.5 1753.4L2324 1753.5L2344.5 1753.1L2365 1752.9L2385.5 1753L2406.1 1752.7L2426.6 1752.6L2447.1 1752.2L2467.6 1751.7L2488.1 1751.4L2508.7 1751.4L2529.2 1751.5L2549.7 1751.6L2570.2 1751.4L2570.2 1757.1Z"/>
<rect x="1523.7" y="1045.9" width="1046.5" height="711" fill="none" stroke="#000" stroke-width="3.5"/>
<text x="1524.2" y="1841.7" text-anchor="middle">1970</text>
<text x="1729.4" y="1841.7" text-anchor="middle">1980</text>
<text x="1934.6" y="1841.7" text-anchor="middle">1990</text>
<text x="2139.8" y="1841.7" text-anchor="middle">2000</text>
<text x="2345" y="1841.7" text-anchor="middle">2010</text>
<text x="2550.2" y="1841.7" text-anchor="middle">2020</text>
<text x="1471.4" y="1772.7" text-anchor="end">0</text>
<text x="1471.4" y="1619.8" text-anchor="end">200</text>
<text x="1471.4" y="1466.9" text-anchor="end">400</text>
<text x="1471.4" y="1314" text-anchor="end">600</text>
<text x="1471.4" y="1161.1" text-anchor="end">800</text>
<path d="M1523.7 1756.9v26.3M1728.9 1756.9v26.3M1934.1 1756.9v26.3M2139.3 1756.9v26.3M2344.5 1756.9v26.3M2549.7 1756.9v26.3M1523.7 1757.1h-26.2M1523.7 1604.2h-26.2M1523.7 1451.3h-26.2M1523.7 1298.4h-26.2M1523.7 1145.5h-26.2" stroke="#000" stroke-width="3.5" fill="none"/>
<text x="2047.5" y="1913.2" text-anchor="middle">Year</text>
<text transform="translate(1346 1401.4) rotate(-90)" text-anchor="middle">CO<tspan font-size="29" dy="9.2">2</tspan><tspan dy="-9.2"> emissions (Mt/yr)</tspan></text>
</g>
<g stroke="#fff" stroke-width="2.4" stroke-linejoin="miter">
<path d="M390.4 95.8A149.9 149.9 0 0 1 408.9 394.5L403.9 354.2A109.3 109.3 0 0 0 390.4 136.4Z" fill="#62a0cb"/>
<path d="M408.9 394.5A149.9 149.9 0 0 1 360.8 392.6L368.8 352.8A109.3 109.3 0 0 0 403.9 354.2Z" fill="#ffa556"/>
<path d="M360.8 392.6A149.9 149.9 0 0 1 245.7 284.8L284.9 274.2A109.3 109.3 0 0 0 368.8 352.8Z" fill="#6bbc6b"/>
<path d="M245.7 284.8A149.9 149.9 0 0 1 241.1 259.1L281.5 255.5A109.3 109.3 0 0 0 284.9 274.2Z" fill="#e26868"/>
<path d="M241.1 259.1A149.9 149.9 0 0 1 242.6 220.6L282.6 227.4A109.3 109.3 0 0 0 281.5 255.5Z" fill="#b495d1"/>
<path d="M242.6 220.6A149.9 149.9 0 0 1 243.4 216.5L283.2 224.4A109.3 109.3 0 0 0 282.6 227.4Z" fill="#ae8981"/>
<path d="M243.4 216.5A149.9 149.9 0 0 1 376.9 96.4L380.6 136.8A109.3 109.3 0 0 0 283.2 224.4Z" fill="#eba0d4"/>
<path d="M376.9 96.4A149.9 149.9 0 0 1 380.3 96.1L383 136.7A109.3 109.3 0 0 0 380.6 136.8Z" fill="#a5a5a5"/>
<path d="M380.3 96.1A149.9 149.9 0 0 1 390.4 95.8L390.4 136.4A109.3 109.3 0 0 0 383 136.7Z" fill="#d0d164"/>
<path d="M390.4 137.8A107.9 107.9 0 0 1 463.4 325.2L436.7 296.2A68.5 68.5 0 0 0 390.4 177.2Z" fill="#62a0cb"/>
<path d="M463.4 325.2A107.9 107.9 0 0 1 437.5 342.8L420.3 307.3A68.5 68.5 0 0 0 436.7 296.2Z" fill="#ffa556"/>
<path d="M437.5 342.8A107.9 107.9 0 0 1 401.8 353L397.6 313.8A68.5 68.5 0 0 0 420.3 307.3Z" fill="#6bbc6b"/>
<path d="M401.8 353A107.9 107.9 0 0 1 320.8 328.1L346.2 298A68.5 68.5 0 0 0 397.6 313.8Z" fill="#e26868"/>
<path d="M320.8 328.1A107.9 107.9 0 0 1 308.2 315.6L338.2 290.1A68.5 68.5 0 0 0 346.2 298Z" fill="#b495d1"/>
<path d="M308.2 315.6A107.9 107.9 0 0 1 305.7 312.6L336.7 288.2A68.5 68.5 0 0 0 338.2 290.1Z" fill="#ae8981"/>
<path d="M305.7 312.6A107.9 107.9 0 0 1 383 138.1L385.7 177.4A68.5 68.5 0 0 0 336.7 288.2Z" fill="#eba0d4"/>
<path d="M383 138.1A107.9 107.9 0 0 1 384.8 137.9L386.9 177.3A68.5 68.5 0 0 0 385.7 177.4Z" fill="#a5a5a5"/>
<path d="M384.8 137.9A107.9 107.9 0 0 1 390.4 137.8L390.4 177.2A68.5 68.5 0 0 0 386.9 177.3Z" fill="#d0d164"/>
</g>
<text x="406.2" y="131" font-size="37.6" font-style="italic">2021</text>
<text x="408" y="171.8" font-size="37.6" font-style="italic">1970</text>
<g stroke="#fff" stroke-width="2.4" stroke-linejoin="miter">
<path d="M1722.5 95.8A149.9 149.9 0 0 1 1862.6 192.4L1824.6 206.8A109.3 109.3 0 0 0 1722.5 136.4Z" fill="#62a0cb"/>
<path d="M1862.6 192.4A149.9 149.9 0 0 1 1870.1 272L1830.1 264.9A109.3 109.3 0 0 0 1824.6 206.8Z" fill="#ffa556"/>
<path d="M1870.1 272A149.9 149.9 0 0 1 1587.1 310L1623.8 292.6A109.3 109.3 0 0 0 1830.1 264.9Z" fill="#6bbc6b"/>
<path d="M1587.1 310A149.9 149.9 0 0 1 1576.3 278.9L1615.9 269.9A109.3 109.3 0 0 0 1623.8 292.6Z" fill="#e26868"/>
<path d="M1576.3 278.9A149.9 149.9 0 0 1 1574.7 220.4L1614.8 227.3A109.3 109.3 0 0 0 1615.9 269.9Z" fill="#b495d1"/>
<path d="M1574.7 220.4A149.9 149.9 0 0 1 1579 202.4L1617.9 214.1A109.3 109.3 0 0 0 1614.8 227.3Z" fill="#ae8981"/>
<path d="M1579 202.4A149.9 149.9 0 0 1 1680 102L1691.5 140.9A109.3 109.3 0 0 0 1617.9 214.1Z" fill="#eba0d4"/>
<path d="M1680 102A149.9 149.9 0 0 1 1698 97.8L1704.7 137.9A109.3 109.3 0 0 0 1691.5 140.9Z" fill="#a5a5a5"/>
<path d="M1698 97.8A149.9 149.9 0 0 1 1722.5 95.8L1722.5 136.4A109.3 109.3 0 0 0 1704.7 137.9Z" fill="#d0d164"/>
<path d="M1722.5 137.8A107.9 107.9 0 0 1 1829.6 258.7L1790.5 254A68.5 68.5 0 0 0 1722.5 177.2Z" fill="#62a0cb"/>
<path d="M1829.6 258.7A107.9 107.9 0 0 1 1812.9 304.5L1779.9 283.1A68.5 68.5 0 0 0 1790.5 254Z" fill="#ffa556"/>
<path d="M1812.9 304.5A107.9 107.9 0 0 1 1736.9 352.6L1731.6 313.6A68.5 68.5 0 0 0 1779.9 283.1Z" fill="#6bbc6b"/>
<path d="M1736.9 352.6A107.9 107.9 0 0 1 1633.6 306.8L1666.1 284.5A68.5 68.5 0 0 0 1731.6 313.6Z" fill="#e26868"/>
<path d="M1633.6 306.8A107.9 107.9 0 0 1 1626 293.9L1661.2 276.3A68.5 68.5 0 0 0 1666.1 284.5Z" fill="#b495d1"/>
<path d="M1626 293.9A107.9 107.9 0 0 1 1621.2 282.8L1658.2 269.3A68.5 68.5 0 0 0 1661.2 276.3Z" fill="#ae8981"/>
<path d="M1621.2 282.8A107.9 107.9 0 0 1 1699.6 140.3L1708 178.8A68.5 68.5 0 0 0 1658.2 269.3Z" fill="#eba0d4"/>
<path d="M1699.6 140.3A107.9 107.9 0 0 1 1704.4 139.3L1711 178.2A68.5 68.5 0 0 0 1708 178.8Z" fill="#a5a5a5"/>
<path d="M1704.4 139.3A107.9 107.9 0 0 1 1722.5 137.8L1722.5 177.2A68.5 68.5 0 0 0 1711 178.2Z" fill="#d0d164"/>
</g>
<text x="1738.3" y="131" font-size="37.6" font-style="italic">2021</text>
<text x="1740.1" y="171.8" font-size="37.6" font-style="italic">1970</text>
<g stroke="#fff" stroke-width="2.4" stroke-linejoin="miter">
<path d="M390.4 1066.5A149.9 149.9 0 0 1 392.7 1066.5L392.1 1107.1A109.3 109.3 0 0 0 390.4 1107.1Z" fill="#c1cad2"/>
<path d="M392.7 1066.5A149.9 149.9 0 0 1 393.7 1066.5L392.8 1107.1A109.3 109.3 0 0 0 392.1 1107.1Z" fill="#cdd5db"/>
<path d="M393.7 1066.5A149.9 149.9 0 0 1 395.1 1066.6L393.8 1107.2A109.3 109.3 0 0 0 392.8 1107.1Z" fill="#dadfe4"/>
<path d="M395.1 1066.6A149.9 149.9 0 0 1 396.2 1066.6L394.6 1107.2A109.3 109.3 0 0 0 393.8 1107.2Z" fill="#e6eaed"/>
<path d="M396.2 1066.6A149.9 149.9 0 0 1 396.9 1066.6L395.1 1107.2A109.3 109.3 0 0 0 394.6 1107.2Z" fill="#f3f4f6"/>
<path d="M396.9 1066.6A149.9 149.9 0 0 1 397.4 1066.7L395.5 1107.2A109.3 109.3 0 0 0 395.1 1107.2Z" fill="#2f4554"/>
<path d="M397.4 1066.7A149.9 149.9 0 0 1 398.6 1066.7L396.4 1107.3A109.3 109.3 0 0 0 395.5 1107.2Z" fill="#465a67"/>
<path d="M398.6 1066.7A149.9 149.9 0 0 1 400.5 1066.8L397.8 1107.3A109.3 109.3 0 0 0 396.4 1107.3Z" fill="#5d6e7a"/>
<path d="M400.5 1066.8A149.9 149.9 0 0 1 401.7 1066.9L398.6 1107.4A109.3 109.3 0 0 0 397.8 1107.3Z" fill="#74838d"/>
<path d="M401.7 1066.9A149.9 149.9 0 0 1 441.5 1075.5L427.6 1113.6A109.3 109.3 0 0 0 398.6 1107.4Z" fill="#8b98a0"/>
<path d="M441.5 1075.5A149.9 149.9 0 0 1 443.4 1076.2L429.1 1114.2A109.3 109.3 0 0 0 427.6 1113.6Z" fill="#a3acb3"/>
<path d="M443.4 1076.2A149.9 149.9 0 0 1 471.8 1090.5L449.7 1124.6A109.3 109.3 0 0 0 429.1 1114.2Z" fill="#bac1c6"/>
<path d="M471.8 1090.5A149.9 149.9 0 0 1 472 1090.7L449.9 1124.7A109.3 109.3 0 0 0 449.7 1124.6Z" fill="#d1d6d9"/>
<path d="M472 1090.7A149.9 149.9 0 0 1 472.5 1091L450.2 1124.9A109.3 109.3 0 0 0 449.9 1124.7Z" fill="#e8eaec"/>
<path d="M472.5 1091A149.9 149.9 0 0 1 478.6 1095.2L454.7 1128A109.3 109.3 0 0 0 450.2 1124.9Z" fill="#df639c"/>
<path d="M478.6 1095.2A149.9 149.9 0 0 1 481.3 1097.2L456.7 1129.5A109.3 109.3 0 0 0 454.7 1128Z" fill="#8dc8ae"/>
<path d="M481.3 1097.2A149.9 149.9 0 0 1 484.7 1099.8L459.1 1131.4A109.3 109.3 0 0 0 456.7 1129.5Z" fill="#9aceb7"/>
<path d="M484.7 1099.8A149.9 149.9 0 0 1 485.3 1100.4L459.6 1131.8A109.3 109.3 0 0 0 459.1 1131.4Z" fill="#a6d4c0"/>
<path d="M485.3 1100.4A149.9 149.9 0 0 1 486.4 1101.3L460.4 1132.5A109.3 109.3 0 0 0 459.6 1131.8Z" fill="#b3dac9"/>
<path d="M486.4 1101.3A149.9 149.9 0 0 1 487.5 1102.2L461.2 1133.1A109.3 109.3 0 0 0 460.4 1132.5Z" fill="#c0e0d2"/>
<path d="M487.5 1102.2A149.9 149.9 0 0 1 488.6 1103.1L462 1133.8A109.3 109.3 0 0 0 461.2 1133.1Z" fill="#cce7db"/>
<path d="M488.6 1103.1A149.9 149.9 0 0 1 490.3 1104.6L463.2 1134.9A109.3 109.3 0 0 0 462 1133.8Z" fill="#d9ede4"/>
<path d="M490.3 1104.6A149.9 149.9 0 0 1 501.3 1115.6L471.3 1142.9A109.3 109.3 0 0 0 463.2 1134.9Z" fill="#e6f3ed"/>
<path d="M501.3 1115.6A149.9 149.9 0 0 1 501.9 1116.2L471.7 1143.3A109.3 109.3 0 0 0 471.3 1142.9Z" fill="#f2f9f6"/>
<path d="M501.9 1116.2A149.9 149.9 0 0 1 519.8 1140.7L484.8 1161.2A109.3 109.3 0 0 0 471.7 1143.3Z" fill="#c43432"/>
<path d="M519.8 1140.7A149.9 149.9 0 0 1 481.3 1335.6L456.7 1303.3A109.3 109.3 0 0 0 484.8 1161.2Z" fill="#d87876"/>
<path d="M481.3 1335.6A149.9 149.9 0 0 1 247.1 1172.3L285.9 1184.3A109.3 109.3 0 0 0 456.7 1303.3Z" fill="#ebbbbb"/>
<path d="M247.1 1172.3A149.9 149.9 0 0 1 250.4 1162.7L288.4 1177.2A109.3 109.3 0 0 0 285.9 1184.3Z" fill="#d38265"/>
<path d="M250.4 1162.7A149.9 149.9 0 0 1 255 1152L291.7 1169.5A109.3 109.3 0 0 0 288.4 1177.2Z" fill="#d78d73"/>
<path d="M255 1152A149.9 149.9 0 0 1 255.4 1151.2L292 1168.9A109.3 109.3 0 0 0 291.7 1169.5Z" fill="#db9981"/>
<path d="M255.4 1151.2A149.9 149.9 0 0 1 265.5 1133.6L299.3 1156A109.3 109.3 0 0 0 292 1168.9Z" fill="#dfa48f"/>
<path d="M265.5 1133.6A149.9 149.9 0 0 1 266 1132.8L299.7 1155.5A109.3 109.3 0 0 0 299.3 1156Z" fill="#e3af9d"/>
<path d="M266 1132.8A149.9 149.9 0 0 1 266.3 1132.4L299.9 1155.1A109.3 109.3 0 0 0 299.7 1155.5Z" fill="#e7bbab"/>
<path d="M266.3 1132.4A149.9 149.9 0 0 1 266.6 1131.9L300.1 1154.8A109.3 109.3 0 0 0 299.9 1155.1Z" fill="#ebc6b9"/>
<path d="M266.6 1131.9A149.9 149.9 0 0 1 266.8 1131.6L300.3 1154.6A109.3 109.3 0 0 0 300.1 1154.8Z" fill="#efd2c7"/>
<path d="M266.8 1131.6A149.9 149.9 0 0 1 266.9 1131.5L300.3 1154.5A109.3 109.3 0 0 0 300.3 1154.6Z" fill="#f3ddd5"/>
<path d="M266.9 1131.5A149.9 149.9 0 0 1 266.9 1131.4L300.4 1154.4A109.3 109.3 0 0 0 300.3 1154.5Z" fill="#f7e8e3"/>
<path d="M266.9 1131.4A149.9 149.9 0 0 1 267.9 1130L301.1 1153.4A109.3 109.3 0 0 0 300.4 1154.4Z" fill="#fbf4f1"/>
<path d="M267.9 1130A149.9 149.9 0 0 1 277 1118.4L307.7 1144.9A109.3 109.3 0 0 0 301.1 1153.4Z" fill="#bca09a"/>
<path d="M277 1118.4A149.9 149.9 0 0 1 278.9 1116.2L309.1 1143.3A109.3 109.3 0 0 0 307.7 1144.9Z" fill="#ded0cc"/>
<path d="M278.9 1116.2A149.9 149.9 0 0 1 279.3 1115.8L309.4 1143A109.3 109.3 0 0 0 309.1 1143.3Z" fill="#474893"/>
<path d="M279.3 1115.8A149.9 149.9 0 0 1 279.4 1115.6L309.5 1142.9A109.3 109.3 0 0 0 309.4 1143Z" fill="#8485b7"/>
<path d="M279.4 1115.6A149.9 149.9 0 0 1 279.5 1115.5L309.5 1142.9A109.3 109.3 0 0 0 309.5 1142.9Z" fill="#c2c2db"/>
<path d="M279.5 1115.5A149.9 149.9 0 0 1 293 1102.5L319.4 1133.3A109.3 109.3 0 0 0 309.5 1142.9Z" fill="#556673"/>
<path d="M293 1102.5A149.9 149.9 0 0 1 293.2 1102.3L319.5 1133.2A109.3 109.3 0 0 0 319.4 1133.3Z" fill="#8e99a2"/>
<path d="M293.2 1102.3A149.9 149.9 0 0 1 293.6 1101.9L319.8 1132.9A109.3 109.3 0 0 0 319.5 1133.2Z" fill="#c6ccd0"/>
<path d="M293.6 1101.9A149.9 149.9 0 0 1 304.4 1093.6L327.7 1126.9A109.3 109.3 0 0 0 319.8 1132.9Z" fill="#c98623"/>
<path d="M304.4 1093.6A149.9 149.9 0 0 1 310.7 1089.5L332.3 1123.8A109.3 109.3 0 0 0 327.7 1126.9Z" fill="#dbae6c"/>
<path d="M310.7 1089.5A149.9 149.9 0 0 1 312.4 1088.4L333.5 1123.1A109.3 109.3 0 0 0 332.3 1123.8Z" fill="#edd7b6"/>
<path d="M312.4 1088.4A149.9 149.9 0 0 1 312.9 1088.1L333.9 1122.9A109.3 109.3 0 0 0 333.5 1123.1Z" fill="#885c44"/>
<path d="M312.9 1088.1A149.9 149.9 0 0 1 313.4 1087.8L334.2 1122.6A109.3 109.3 0 0 0 333.9 1122.9Z" fill="#906851"/>
<path d="M313.4 1087.8A149.9 149.9 0 0 1 313.9 1087.5L334.6 1122.4A109.3 109.3 0 0 0 334.2 1122.6Z" fill="#99735f"/>
<path d="M313.9 1087.5A149.9 149.9 0 0 1 314.4 1087.2L335 1122.2A109.3 109.3 0 0 0 334.6 1122.4Z" fill="#a27f6c"/>
<path d="M314.4 1087.2A149.9 149.9 0 0 1 314.9 1086.9L335.3 1122A109.3 109.3 0 0 0 335 1122.2Z" fill="#aa8b79"/>
<path d="M314.9 1086.9A149.9 149.9 0 0 1 315.4 1086.6L335.7 1121.8A109.3 109.3 0 0 0 335.3 1122Z" fill="#b29687"/>
<path d="M315.4 1086.6A149.9 149.9 0 0 1 315.9 1086.3L336.1 1121.6A109.3 109.3 0 0 0 335.7 1121.8Z" fill="#bba294"/>
<path d="M315.9 1086.3A149.9 149.9 0 0 1 316.4 1086L336.4 1121.3A109.3 109.3 0 0 0 336.1 1121.6Z" fill="#c4aea2"/>
<path d="M316.4 1086A149.9 149.9 0 0 1 316.9 1085.7L336.8 1121.1A109.3 109.3 0 0 0 336.4 1121.3Z" fill="#ccb9af"/>
<path d="M316.9 1085.7A149.9 149.9 0 0 1 317.4 1085.5L337.2 1120.9A109.3 109.3 0 0 0 336.8 1121.1Z" fill="#d4c5bc"/>
<path d="M317.4 1085.5A149.9 149.9 0 0 1 317.9 1085.2L337.6 1120.7A109.3 109.3 0 0 0 337.2 1120.9Z" fill="#ddd0ca"/>
<path d="M317.9 1085.2A149.9 149.9 0 0 1 318.5 1084.9L337.9 1120.5A109.3 109.3 0 0 0 337.6 1120.7Z" fill="#e6dcd7"/>
<path d="M318.5 1084.9A149.9 149.9 0 0 1 319 1084.6L338.3 1120.3A109.3 109.3 0 0 0 337.9 1120.5Z" fill="#eee8e4"/>
<path d="M319 1084.6A149.9 149.9 0 0 1 319.5 1084.3L338.7 1120.1A109.3 109.3 0 0 0 338.3 1120.3Z" fill="#f6f3f2"/>
<path d="M319.5 1084.3A149.9 149.9 0 0 1 320.2 1084L339.2 1119.8A109.3 109.3 0 0 0 338.7 1120.1Z" fill="#3b5ba5"/>
<path d="M320.2 1084A149.9 149.9 0 0 1 320.3 1083.9L339.3 1119.8A109.3 109.3 0 0 0 339.2 1119.8Z" fill="#6c84bc"/>
<path d="M320.3 1083.9A149.9 149.9 0 0 1 320.5 1083.8L339.4 1119.7A109.3 109.3 0 0 0 339.3 1119.8Z" fill="#9dadd2"/>
<path d="M320.5 1083.8A149.9 149.9 0 0 1 320.7 1083.7L339.6 1119.6A109.3 109.3 0 0 0 339.4 1119.7Z" fill="#ced6e8"/>
<path d="M320.7 1083.7A149.9 149.9 0 0 1 322.1 1083L340.6 1119.1A109.3 109.3 0 0 0 339.6 1119.6Z" fill="#e3803b"/>
<path d="M322.1 1083A149.9 149.9 0 0 1 323.5 1082.3L341.6 1118.6A109.3 109.3 0 0 0 340.6 1119.1Z" fill="#ecaa7c"/>
<path d="M323.5 1082.3A149.9 149.9 0 0 1 324.2 1081.9L342.1 1118.3A109.3 109.3 0 0 0 341.6 1118.6Z" fill="#f6d5be"/>
<path d="M324.2 1081.9A149.9 149.9 0 0 1 324.5 1081.8L342.4 1118.2A109.3 109.3 0 0 0 342.1 1118.3Z" fill="#b7d050"/>
<path d="M324.5 1081.8A149.9 149.9 0 0 1 357.1 1070.2L366.1 1109.8A109.3 109.3 0 0 0 342.4 1118.2Z" fill="#62a0ab"/>
<path d="M357.1 1070.2A149.9 149.9 0 0 1 361 1069.4L368.9 1109.2A109.3 109.3 0 0 0 366.1 1109.8Z" fill="#70a9b3"/>
<path d="M361 1069.4A149.9 149.9 0 0 1 362.1 1069.2L369.8 1109.1A109.3 109.3 0 0 0 368.9 1109.2Z" fill="#7fb1ba"/>
<path d="M362.1 1069.2A149.9 149.9 0 0 1 362.4 1069.1L370 1109A109.3 109.3 0 0 0 369.8 1109.1Z" fill="#8dbac2"/>
<path d="M362.4 1069.1A149.9 149.9 0 0 1 363.9 1068.9L371.1 1108.8A109.3 109.3 0 0 0 370 1109Z" fill="#9bc3ca"/>
<path d="M363.9 1068.9A149.9 149.9 0 0 1 364.1 1068.8L371.2 1108.8A109.3 109.3 0 0 0 371.1 1108.8Z" fill="#a9cbd1"/>
<path d="M364.1 1068.8A149.9 149.9 0 0 1 364.2 1068.8L371.3 1108.8A109.3 109.3 0 0 0 371.2 1108.8Z" fill="#b8d4d9"/>
<path d="M364.2 1068.8A149.9 149.9 0 0 1 364.4 1068.8L371.4 1108.8A109.3 109.3 0 0 0 371.3 1108.8Z" fill="#c6dce0"/>
<path d="M364.4 1068.8A149.9 149.9 0 0 1 364.5 1068.8L371.5 1108.7A109.3 109.3 0 0 0 371.4 1108.8Z" fill="#d4e5e8"/>
<path d="M364.5 1068.8A149.9 149.9 0 0 1 364.8 1068.7L371.7 1108.7A109.3 109.3 0 0 0 371.5 1108.7Z" fill="#e2eef0"/>
<path d="M364.8 1068.7A149.9 149.9 0 0 1 365.1 1068.7L372 1108.7A109.3 109.3 0 0 0 371.7 1108.7Z" fill="#f1f6f7"/>
<path d="M365.1 1068.7A149.9 149.9 0 0 1 371.1 1067.8L376.3 1108A109.3 109.3 0 0 0 372 1108.7Z" fill="#df6675"/>
<path d="M371.1 1067.8A149.9 149.9 0 0 1 373.1 1067.5L377.8 1107.8A109.3 109.3 0 0 0 376.3 1108Z" fill="#efb2ba"/>
<path d="M373.1 1067.5A149.9 149.9 0 0 1 373.8 1067.4L378.3 1107.8A109.3 109.3 0 0 0 377.8 1107.8Z" fill="#6d6f74"/>
<path d="M373.8 1067.4A149.9 149.9 0 0 1 380.8 1066.8L383.4 1107.3A109.3 109.3 0 0 0 378.3 1107.8Z" fill="#929397"/>
<path d="M380.8 1066.8A149.9 149.9 0 0 1 381.1 1066.8L383.6 1107.3A109.3 109.3 0 0 0 383.4 1107.3Z" fill="#b6b7ba"/>
<path d="M381.1 1066.8A149.9 149.9 0 0 1 382.5 1066.7L384.7 1107.3A109.3 109.3 0 0 0 383.6 1107.3Z" fill="#dadbdc"/>
<path d="M382.5 1066.7A149.9 149.9 0 0 1 383.2 1066.7L385.2 1107.2A109.3 109.3 0 0 0 384.7 1107.3Z" fill="#716b3a"/>
<path d="M383.2 1066.7A149.9 149.9 0 0 1 383.3 1066.7L385.2 1107.2A109.3 109.3 0 0 0 385.2 1107.2Z" fill="#a09c7c"/>
<path d="M383.3 1066.7A149.9 149.9 0 0 1 383.4 1066.7L385.3 1107.2A109.3 109.3 0 0 0 385.2 1107.2Z" fill="#d0cebd"/>
<path d="M383.4 1066.7A149.9 149.9 0 0 1 383.5 1066.7L385.3 1107.2A109.3 109.3 0 0 0 385.3 1107.2Z" fill="#74884b"/>
<path d="M383.5 1066.7A149.9 149.9 0 0 1 387.8 1066.5L388.5 1107.1A109.3 109.3 0 0 0 385.3 1107.2Z" fill="#f0b582"/>
<path d="M387.8 1066.5A149.9 149.9 0 0 1 389.3 1066.5L389.6 1107.1A109.3 109.3 0 0 0 388.5 1107.1Z" fill="#f5ceac"/>
<path d="M389.3 1066.5A149.9 149.9 0 0 1 390 1066.5L390.1 1107.1A109.3 109.3 0 0 0 389.6 1107.1Z" fill="#fae6d5"/>
<path d="M390 1066.5A149.9 149.9 0 0 1 390.4 1066.5L390.4 1107.1A109.3 109.3 0 0 0 390.1 1107.1Z" fill="#a46567"/>
<path d="M390.4 1108.5A107.9 107.9 0 0 1 391.4 1108.5L391 1147.9A68.5 68.5 0 0 0 390.4 1147.9Z" fill="#c1cad2"/>
<path d="M391.4 1108.5A107.9 107.9 0 0 1 391.8 1108.5L391.3 1147.9A68.5 68.5 0 0 0 391 1147.9Z" fill="#cdd5db"/>
<path d="M391.8 1108.5A107.9 107.9 0 0 1 392.3 1108.5L391.6 1147.9A68.5 68.5 0 0 0 391.3 1147.9Z" fill="#dadfe4"/>
<path d="M392.3 1108.5A107.9 107.9 0 0 1 392.8 1108.5L391.9 1147.9A68.5 68.5 0 0 0 391.6 1147.9Z" fill="#e6eaed"/>
<path d="M392.8 1108.5A107.9 107.9 0 0 1 393.1 1108.5L392.1 1147.9A68.5 68.5 0 0 0 391.9 1147.9Z" fill="#f3f4f6"/>
<path d="M393.1 1108.5A107.9 107.9 0 0 1 393.7 1108.5L392.5 1147.9A68.5 68.5 0 0 0 392.1 1147.9Z" fill="#2f4554"/>
<path d="M393.7 1108.5A107.9 107.9 0 0 1 395 1108.6L393.3 1148A68.5 68.5 0 0 0 392.5 1147.9Z" fill="#465a67"/>
<path d="M395 1108.6A107.9 107.9 0 0 1 397.2 1108.7L394.7 1148A68.5 68.5 0 0 0 393.3 1148Z" fill="#5d6e7a"/>
<path d="M397.2 1108.7A107.9 107.9 0 0 1 398.6 1108.8L395.6 1148.1A68.5 68.5 0 0 0 394.7 1148Z" fill="#74838d"/>
<path d="M398.6 1108.8A107.9 107.9 0 0 1 430.3 1116.2L415.7 1152.8A68.5 68.5 0 0 0 395.6 1148.1Z" fill="#8b98a0"/>
<path d="M430.3 1116.2A107.9 107.9 0 0 1 431.2 1116.5L416.3 1153A68.5 68.5 0 0 0 415.7 1152.8Z" fill="#a3acb3"/>
<path d="M431.2 1116.5A107.9 107.9 0 0 1 434 1117.7L418 1153.7A68.5 68.5 0 0 0 416.3 1153Z" fill="#bac1c6"/>
<path d="M434 1117.7A107.9 107.9 0 0 1 434.1 1117.8L418.2 1153.8A68.5 68.5 0 0 0 418 1153.7Z" fill="#d1d6d9"/>
<path d="M434.1 1117.8A107.9 107.9 0 0 1 434.5 1117.9L418.4 1153.9A68.5 68.5 0 0 0 418.2 1153.8Z" fill="#e8eaec"/>
<path d="M434.5 1117.9A107.9 107.9 0 0 1 438.8 1120L421.1 1155.2A68.5 68.5 0 0 0 418.4 1153.9Z" fill="#df639c"/>
<path d="M438.8 1120A107.9 107.9 0 0 1 440.6 1120.9L422.3 1155.8A68.5 68.5 0 0 0 421.1 1155.2Z" fill="#8dc8ae"/>
<path d="M440.6 1120.9A107.9 107.9 0 0 1 443.3 1122.4L424 1156.7A68.5 68.5 0 0 0 422.3 1155.8Z" fill="#9aceb7"/>
<path d="M443.3 1122.4A107.9 107.9 0 0 1 443.8 1122.7L424.3 1156.9A68.5 68.5 0 0 0 424 1156.7Z" fill="#a6d4c0"/>
<path d="M443.8 1122.7A107.9 107.9 0 0 1 444.6 1123.1L424.8 1157.2A68.5 68.5 0 0 0 424.3 1156.9Z" fill="#b3dac9"/>
<path d="M444.6 1123.1A107.9 107.9 0 0 1 445.3 1123.5L425.2 1157.4A68.5 68.5 0 0 0 424.8 1157.2Z" fill="#c0e0d2"/>
<path d="M445.3 1123.5A107.9 107.9 0 0 1 446 1123.9L425.7 1157.7A68.5 68.5 0 0 0 425.2 1157.4Z" fill="#cce7db"/>
<path d="M446 1123.9A107.9 107.9 0 0 1 447 1124.5L426.3 1158.1A68.5 68.5 0 0 0 425.7 1157.7Z" fill="#d9ede4"/>
<path d="M447 1124.5A107.9 107.9 0 0 1 458.7 1132.9L433.8 1163.4A68.5 68.5 0 0 0 426.3 1158.1Z" fill="#e6f3ed"/>
<path d="M458.7 1132.9A107.9 107.9 0 0 1 459.2 1133.3L434.1 1163.6A68.5 68.5 0 0 0 433.8 1163.4Z" fill="#f2f9f6"/>
<path d="M459.2 1133.3A107.9 107.9 0 0 1 477.3 1152.4L445.6 1175.8A68.5 68.5 0 0 0 434.1 1163.6Z" fill="#c43432"/>
<path d="M477.3 1152.4A107.9 107.9 0 0 1 495.2 1241.9L457 1232.6A68.5 68.5 0 0 0 445.6 1175.8Z" fill="#d87876"/>
<path d="M495.2 1241.9A107.9 107.9 0 1 1 290.3 1176L326.9 1190.8A68.5 68.5 0 1 0 457 1232.6Z" fill="#ebbbbb"/>
<path d="M290.3 1176A107.9 107.9 0 0 1 292.8 1170.4L328.4 1187.2A68.5 68.5 0 0 0 326.9 1190.8Z" fill="#d38265"/>
<path d="M292.8 1170.4A107.9 107.9 0 0 1 295.5 1165L330.2 1183.7A68.5 68.5 0 0 0 328.4 1187.2Z" fill="#d78d73"/>
<path d="M295.5 1165A107.9 107.9 0 0 1 295.8 1164.5L330.3 1183.5A68.5 68.5 0 0 0 330.2 1183.7Z" fill="#db9981"/>
<path d="M295.8 1164.5A107.9 107.9 0 0 1 303.7 1152.2L335.4 1175.6A68.5 68.5 0 0 0 330.3 1183.5Z" fill="#dfa48f"/>
<path d="M303.7 1152.2A107.9 107.9 0 0 1 304 1151.8L335.6 1175.4A68.5 68.5 0 0 0 335.4 1175.6Z" fill="#e3af9d"/>
<path d="M304 1151.8A107.9 107.9 0 0 1 304.2 1151.6L335.6 1175.2A68.5 68.5 0 0 0 335.6 1175.4Z" fill="#e7bbab"/>
<path d="M304.2 1151.6A107.9 107.9 0 0 1 304.3 1151.4L335.7 1175.1A68.5 68.5 0 0 0 335.6 1175.2Z" fill="#ebc6b9"/>
<path d="M304.3 1151.4A107.9 107.9 0 0 1 304.4 1151.2L335.8 1175A68.5 68.5 0 0 0 335.7 1175.1Z" fill="#efd2c7"/>
<path d="M304.4 1151.2A107.9 107.9 0 0 1 304.5 1151.1L335.9 1174.9A68.5 68.5 0 0 0 335.8 1175Z" fill="#f3ddd5"/>
<path d="M304.5 1151.1A107.9 107.9 0 0 1 304.6 1151L335.9 1174.9A68.5 68.5 0 0 0 335.9 1174.9Z" fill="#f7e8e3"/>
<path d="M304.6 1151A107.9 107.9 0 0 1 305.3 1150L336.4 1174.2A68.5 68.5 0 0 0 335.9 1174.9Z" fill="#fbf4f1"/>
<path d="M305.3 1150A107.9 107.9 0 0 1 309.2 1145.4L338.8 1171.3A68.5 68.5 0 0 0 336.4 1174.2Z" fill="#bca09a"/>
<path d="M309.2 1145.4A107.9 107.9 0 0 1 310.9 1143.5L339.9 1170.1A68.5 68.5 0 0 0 338.8 1171.3Z" fill="#ded0cc"/>
<path d="M310.9 1143.5A107.9 107.9 0 0 1 311.5 1142.8L340.3 1169.6A68.5 68.5 0 0 0 339.9 1170.1Z" fill="#474893"/>
<path d="M311.5 1142.8A107.9 107.9 0 0 1 311.7 1142.6L340.4 1169.5A68.5 68.5 0 0 0 340.3 1169.6Z" fill="#8485b7"/>
<path d="M311.7 1142.6A107.9 107.9 0 0 1 311.9 1142.4L340.6 1169.4A68.5 68.5 0 0 0 340.4 1169.5Z" fill="#c2c2db"/>
<path d="M311.9 1142.4A107.9 107.9 0 0 1 323.5 1131.7L347.9 1162.6A68.5 68.5 0 0 0 340.6 1169.4Z" fill="#556673"/>
<path d="M323.5 1131.7A107.9 107.9 0 0 1 323.6 1131.6L348 1162.6A68.5 68.5 0 0 0 347.9 1162.6Z" fill="#8e99a2"/>
<path d="M323.6 1131.6A107.9 107.9 0 0 1 324.1 1131.3L348.3 1162.4A68.5 68.5 0 0 0 348 1162.6Z" fill="#c6ccd0"/>
<path d="M324.1 1131.3A107.9 107.9 0 0 1 329.1 1127.6L351.5 1160A68.5 68.5 0 0 0 348.3 1162.4Z" fill="#c98623"/>
<path d="M329.1 1127.6A107.9 107.9 0 0 1 333.2 1124.9L354.1 1158.3A68.5 68.5 0 0 0 351.5 1160Z" fill="#dbae6c"/>
<path d="M333.2 1124.9A107.9 107.9 0 0 1 334 1124.4L354.6 1158A68.5 68.5 0 0 0 354.1 1158.3Z" fill="#edd7b6"/>
<path d="M334 1124.4A107.9 107.9 0 0 1 334.3 1124.2L354.8 1157.9A68.5 68.5 0 0 0 354.6 1158Z" fill="#885c44"/>
<path d="M334.3 1124.2A107.9 107.9 0 0 1 334.6 1124L355 1157.8A68.5 68.5 0 0 0 354.8 1157.9Z" fill="#906851"/>
<path d="M334.6 1124A107.9 107.9 0 0 1 335 1123.8L355.2 1157.6A68.5 68.5 0 0 0 355 1157.8Z" fill="#99735f"/>
<path d="M335 1123.8A107.9 107.9 0 0 1 335.3 1123.7L355.4 1157.5A68.5 68.5 0 0 0 355.2 1157.6Z" fill="#a27f6c"/>
<path d="M335.3 1123.7A107.9 107.9 0 0 1 335.6 1123.5L355.6 1157.4A68.5 68.5 0 0 0 355.4 1157.5Z" fill="#aa8b79"/>
<path d="M335.6 1123.5A107.9 107.9 0 0 1 335.9 1123.3L355.8 1157.3A68.5 68.5 0 0 0 355.6 1157.4Z" fill="#b29687"/>
<path d="M335.9 1123.3A107.9 107.9 0 0 1 336.2 1123.1L356 1157.2A68.5 68.5 0 0 0 355.8 1157.3Z" fill="#bba294"/>
<path d="M336.2 1123.1A107.9 107.9 0 0 1 336.5 1122.9L356.2 1157.1A68.5 68.5 0 0 0 356 1157.2Z" fill="#c4aea2"/>
<path d="M336.5 1122.9A107.9 107.9 0 0 1 336.8 1122.7L356.4 1156.9A68.5 68.5 0 0 0 356.2 1157.1Z" fill="#ccb9af"/>
<path d="M336.8 1122.7A107.9 107.9 0 0 1 337.2 1122.6L356.6 1156.8A68.5 68.5 0 0 0 356.4 1156.9Z" fill="#d4c5bc"/>
<path d="M337.2 1122.6A107.9 107.9 0 0 1 337.5 1122.4L356.8 1156.7A68.5 68.5 0 0 0 356.6 1156.8Z" fill="#ddd0ca"/>
<path d="M337.5 1122.4A107.9 107.9 0 0 1 337.8 1122.2L357 1156.6A68.5 68.5 0 0 0 356.8 1156.7Z" fill="#e6dcd7"/>
<path d="M337.8 1122.2A107.9 107.9 0 0 1 338.1 1122L357.2 1156.5A68.5 68.5 0 0 0 357 1156.6Z" fill="#eee8e4"/>
<path d="M338.1 1122A107.9 107.9 0 0 1 338.4 1121.8L357.4 1156.4A68.5 68.5 0 0 0 357.2 1156.5Z" fill="#f6f3f2"/>
<path d="M338.4 1121.8A107.9 107.9 0 0 1 338.8 1121.6L357.7 1156.2A68.5 68.5 0 0 0 357.4 1156.4Z" fill="#3b5ba5"/>
<path d="M338.8 1121.6A107.9 107.9 0 0 1 339 1121.6L357.7 1156.2A68.5 68.5 0 0 0 357.7 1156.2Z" fill="#6c84bc"/>
<path d="M339 1121.6A107.9 107.9 0 0 1 339.1 1121.5L357.8 1156.2A68.5 68.5 0 0 0 357.7 1156.2Z" fill="#9dadd2"/>
<path d="M339.1 1121.5A107.9 107.9 0 0 1 339.2 1121.4L357.9 1156.1A68.5 68.5 0 0 0 357.8 1156.2Z" fill="#ced6e8"/>
<path d="M339.2 1121.4A107.9 107.9 0 0 1 340 1121L358.4 1155.8A68.5 68.5 0 0 0 357.9 1156.1Z" fill="#e3803b"/>
<path d="M340 1121A107.9 107.9 0 0 1 340.9 1120.5L359 1155.5A68.5 68.5 0 0 0 358.4 1155.8Z" fill="#ecaa7c"/>
<path d="M340.9 1120.5A107.9 107.9 0 0 1 341.3 1120.3L359.2 1155.4A68.5 68.5 0 0 0 359 1155.5Z" fill="#f6d5be"/>
<path d="M341.3 1120.3A107.9 107.9 0 0 1 341.5 1120.2L359.4 1155.3A68.5 68.5 0 0 0 359.2 1155.4Z" fill="#b7d050"/>
<path d="M341.5 1120.2A107.9 107.9 0 0 1 370.7 1110.3L377.9 1149.1A68.5 68.5 0 0 0 359.4 1155.3Z" fill="#62a0ab"/>
<path d="M370.7 1110.3A107.9 107.9 0 0 1 371.6 1110.2L378.5 1148.9A68.5 68.5 0 0 0 377.9 1149.1Z" fill="#70a9b3"/>
<path d="M371.6 1110.2A107.9 107.9 0 0 1 372 1110.1L378.7 1148.9A68.5 68.5 0 0 0 378.5 1148.9Z" fill="#7fb1ba"/>
<path d="M372 1110.1A107.9 107.9 0 0 1 372.1 1110.1L378.8 1148.9A68.5 68.5 0 0 0 378.7 1148.9Z" fill="#8dbac2"/>
<path d="M372.1 1110.1A107.9 107.9 0 0 1 372.5 1110L379 1148.8A68.5 68.5 0 0 0 378.8 1148.9Z" fill="#9bc3ca"/>
<path d="M372.5 1110A107.9 107.9 0 0 1 372.6 1110L379.1 1148.8A68.5 68.5 0 0 0 379 1148.8Z" fill="#a9cbd1"/>
<path d="M372.6 1110A107.9 107.9 0 0 1 372.7 1110L379.2 1148.8A68.5 68.5 0 0 0 379.1 1148.8Z" fill="#b8d4d9"/>
<path d="M372.7 1110A107.9 107.9 0 0 1 372.8 1109.9L379.2 1148.8A68.5 68.5 0 0 0 379.2 1148.8Z" fill="#c6dce0"/>
<path d="M372.8 1109.9A107.9 107.9 0 0 1 372.9 1109.9L379.3 1148.8A68.5 68.5 0 0 0 379.2 1148.8Z" fill="#d4e5e8"/>
<path d="M372.9 1109.9A107.9 107.9 0 0 1 373.1 1109.9L379.4 1148.8A68.5 68.5 0 0 0 379.3 1148.8Z" fill="#e2eef0"/>
<path d="M373.1 1109.9A107.9 107.9 0 0 1 373.3 1109.9L379.5 1148.8A68.5 68.5 0 0 0 379.4 1148.8Z" fill="#f1f6f7"/>
<path d="M373.3 1109.9A107.9 107.9 0 0 1 378.1 1109.2L382.6 1148.3A68.5 68.5 0 0 0 379.5 1148.8Z" fill="#df6675"/>
<path d="M378.1 1109.2A107.9 107.9 0 0 1 379.8 1109L383.7 1148.2A68.5 68.5 0 0 0 382.6 1148.3Z" fill="#efb2ba"/>
<path d="M379.8 1109A107.9 107.9 0 0 1 380.2 1109L383.9 1148.2A68.5 68.5 0 0 0 383.7 1148.2Z" fill="#6d6f74"/>
<path d="M380.2 1109A107.9 107.9 0 0 1 384.4 1108.7L386.6 1148A68.5 68.5 0 0 0 383.9 1148.2Z" fill="#929397"/>
<path d="M384.4 1108.7A107.9 107.9 0 0 1 384.6 1108.7L386.7 1148A68.5 68.5 0 0 0 386.6 1148Z" fill="#b6b7ba"/>
<path d="M384.6 1108.7A107.9 107.9 0 0 1 387.8 1108.5L388.7 1147.9A68.5 68.5 0 0 0 386.7 1148Z" fill="#dadbdc"/>
<path d="M387.8 1108.5A107.9 107.9 0 0 1 388.2 1108.5L389 1147.9A68.5 68.5 0 0 0 388.7 1147.9Z" fill="#716b3a"/>
<path d="M388.2 1108.5A107.9 107.9 0 0 1 388.3 1108.5L389 1147.9A68.5 68.5 0 0 0 389 1147.9Z" fill="#a09c7c"/>
<path d="M388.3 1108.5A107.9 107.9 0 0 1 388.3 1108.5L389.1 1147.9A68.5 68.5 0 0 0 389 1147.9Z" fill="#d0cebd"/>
<path d="M388.3 1108.5A107.9 107.9 0 0 1 388.3 1108.5L389.1 1147.9A68.5 68.5 0 0 0 389.1 1147.9Z" fill="#74884b"/>
<path d="M388.3 1108.5A107.9 107.9 0 0 1 389.6 1108.5L389.9 1147.9A68.5 68.5 0 0 0 389.1 1147.9Z" fill="#f0b582"/>
<path d="M389.6 1108.5A107.9 107.9 0 0 1 390.1 1108.5L390.2 1147.9A68.5 68.5 0 0 0 389.9 1147.9Z" fill="#f5ceac"/>
<path d="M390.1 1108.5A107.9 107.9 0 0 1 390.3 1108.5L390.3 1147.9A68.5 68.5 0 0 0 390.2 1147.9Z" fill="#fae6d5"/>
<path d="M390.3 1108.5A107.9 107.9 0 0 1 390.4 1108.5L390.4 1147.9A68.5 68.5 0 0 0 390.3 1147.9Z" fill="#a46567"/>
</g>
<text x="351.4" y="1313" font-size="37.6" font-style="italic">1970</text>
<text x="350.9" y="1353.7" font-size="37.6" font-style="italic">2021</text>
<g stroke="#fff" stroke-width="2.4" stroke-linejoin="miter">
<path d="M1722.5 1066.5A149.9 149.9 0 0 1 1731.2 1066.8L1728.9 1107.3A109.3 109.3 0 0 0 1722.5 1107.1Z" fill="#c1cad2"/>
<path d="M1731.2 1066.8A149.9 149.9 0 0 1 1734 1066.9L1730.9 1107.4A109.3 109.3 0 0 0 1728.9 1107.3Z" fill="#cdd5db"/>
<path d="M1734 1066.9A149.9 149.9 0 0 1 1738 1067.3L1733.8 1107.7A109.3 109.3 0 0 0 1730.9 1107.4Z" fill="#dadfe4"/>
<path d="M1738 1067.3A149.9 149.9 0 0 1 1740.8 1067.6L1735.8 1107.9A109.3 109.3 0 0 0 1733.8 1107.7Z" fill="#e6eaed"/>
<path d="M1740.8 1067.6A149.9 149.9 0 0 1 1742.9 1067.9L1737.4 1108.1A109.3 109.3 0 0 0 1735.8 1107.9Z" fill="#f3f4f6"/>
<path d="M1742.9 1067.9A149.9 149.9 0 0 1 1744 1068.1L1738.2 1108.2A109.3 109.3 0 0 0 1737.4 1108.1Z" fill="#2f4554"/>
<path d="M1744 1068.1A149.9 149.9 0 0 1 1748.4 1068.7L1741.4 1108.7A109.3 109.3 0 0 0 1738.2 1108.2Z" fill="#465a67"/>
<path d="M1748.4 1068.7A149.9 149.9 0 0 1 1754.8 1070L1746.1 1109.7A109.3 109.3 0 0 0 1741.4 1108.7Z" fill="#5d6e7a"/>
<path d="M1754.8 1070A149.9 149.9 0 0 1 1758 1070.8L1748.4 1110.2A109.3 109.3 0 0 0 1746.1 1109.7Z" fill="#74838d"/>
<path d="M1758 1070.8A149.9 149.9 0 0 1 1792.4 1083.8L1773.5 1119.7A109.3 109.3 0 0 0 1748.4 1110.2Z" fill="#8b98a0"/>
<path d="M1792.4 1083.8A149.9 149.9 0 0 1 1794.8 1085.1L1775.2 1120.7A109.3 109.3 0 0 0 1773.5 1119.7Z" fill="#a3acb3"/>
<path d="M1794.8 1085.1A149.9 149.9 0 0 1 1816.1 1099.3L1790.8 1131A109.3 109.3 0 0 0 1775.2 1120.7Z" fill="#bac1c6"/>
<path d="M1816.1 1099.3A149.9 149.9 0 0 1 1816.5 1099.7L1791.1 1131.3A109.3 109.3 0 0 0 1790.8 1131Z" fill="#d1d6d9"/>
<path d="M1816.5 1099.7A149.9 149.9 0 0 1 1817.2 1100.2L1791.5 1131.7A109.3 109.3 0 0 0 1791.1 1131.3Z" fill="#e8eaec"/>
<path d="M1817.2 1100.2A149.9 149.9 0 0 1 1830 1111.9L1800.8 1140.2A109.3 109.3 0 0 0 1791.5 1131.7Z" fill="#df639c"/>
<path d="M1830 1111.9A149.9 149.9 0 0 1 1833 1115.1L1803.1 1142.6A109.3 109.3 0 0 0 1800.8 1140.2Z" fill="#8dc8ae"/>
<path d="M1833 1115.1A149.9 149.9 0 0 1 1837 1119.6L1806 1145.8A109.3 109.3 0 0 0 1803.1 1142.6Z" fill="#9aceb7"/>
<path d="M1837 1119.6A149.9 149.9 0 0 1 1838 1120.8L1806.7 1146.7A109.3 109.3 0 0 0 1806 1145.8Z" fill="#a6d4c0"/>
<path d="M1838 1120.8A149.9 149.9 0 0 1 1840.8 1124.3L1808.7 1149.2A109.3 109.3 0 0 0 1806.7 1146.7Z" fill="#b3dac9"/>
<path d="M1840.8 1124.3A149.9 149.9 0 0 1 1842.6 1126.7L1810.1 1151A109.3 109.3 0 0 0 1808.7 1149.2Z" fill="#c0e0d2"/>
<path d="M1842.6 1126.7A149.9 149.9 0 0 1 1845.2 1130.3L1812 1153.6A109.3 109.3 0 0 0 1810.1 1151Z" fill="#cce7db"/>
<path d="M1845.2 1130.3A149.9 149.9 0 0 1 1848.6 1135.3L1814.4 1157.3A109.3 109.3 0 0 0 1812 1153.6Z" fill="#d9ede4"/>
<path d="M1848.6 1135.3A149.9 149.9 0 0 1 1854.6 1145.6L1818.8 1164.8A109.3 109.3 0 0 0 1814.4 1157.3Z" fill="#e6f3ed"/>
<path d="M1854.6 1145.6A149.9 149.9 0 0 1 1855.3 1146.9L1819.4 1165.7A109.3 109.3 0 0 0 1818.8 1164.8Z" fill="#f2f9f6"/>
<path d="M1855.3 1146.9A149.9 149.9 0 0 1 1863.1 1164.5L1825 1178.5A109.3 109.3 0 0 0 1819.4 1165.7Z" fill="#c43432"/>
<path d="M1863.1 1164.5A149.9 149.9 0 0 1 1871.2 1235.2L1830.9 1230.1A109.3 109.3 0 0 0 1825 1178.5Z" fill="#d87876"/>
<path d="M1871.2 1235.2A149.9 149.9 0 0 1 1627 1331.9L1652.8 1300.6A109.3 109.3 0 0 0 1830.9 1230.1Z" fill="#ebbbbb"/>
<path d="M1627 1331.9A149.9 149.9 0 0 1 1610.5 1316L1640.8 1289A109.3 109.3 0 0 0 1652.8 1300.6Z" fill="#d38265"/>
<path d="M1610.5 1316A149.9 149.9 0 0 1 1595.9 1296.6L1630.2 1274.9A109.3 109.3 0 0 0 1640.8 1289Z" fill="#d78d73"/>
<path d="M1595.9 1296.6A149.9 149.9 0 0 1 1595.1 1295.4L1629.6 1274A109.3 109.3 0 0 0 1630.2 1274.9Z" fill="#db9981"/>
<path d="M1595.1 1295.4A149.9 149.9 0 0 1 1585.2 1276.5L1622.4 1260.2A109.3 109.3 0 0 0 1629.6 1274Z" fill="#dfa48f"/>
<path d="M1585.2 1276.5A149.9 149.9 0 0 1 1584.4 1274.6L1621.8 1258.9A109.3 109.3 0 0 0 1622.4 1260.2Z" fill="#e3af9d"/>
<path d="M1584.4 1274.6A149.9 149.9 0 0 1 1583.8 1273.3L1621.4 1257.9A109.3 109.3 0 0 0 1621.8 1258.9Z" fill="#e7bbab"/>
<path d="M1583.8 1273.3A149.9 149.9 0 0 1 1583.3 1272L1621 1256.9A109.3 109.3 0 0 0 1621.4 1257.9Z" fill="#ebc6b9"/>
<path d="M1583.3 1272A149.9 149.9 0 0 1 1583 1271.2L1620.8 1256.3A109.3 109.3 0 0 0 1621 1256.9Z" fill="#efd2c7"/>
<path d="M1583 1271.2A149.9 149.9 0 0 1 1582.9 1270.9L1620.7 1256.2A109.3 109.3 0 0 0 1620.8 1256.3Z" fill="#f3ddd5"/>
<path d="M1582.9 1270.9A149.9 149.9 0 0 1 1582.8 1270.7L1620.6 1256A109.3 109.3 0 0 0 1620.7 1256.2Z" fill="#f7e8e3"/>
<path d="M1582.8 1270.7A149.9 149.9 0 0 1 1581.6 1267.4L1619.7 1253.6A109.3 109.3 0 0 0 1620.6 1256Z" fill="#fbf4f1"/>
<path d="M1581.6 1267.4A149.9 149.9 0 0 1 1574 1236.8L1614.2 1231.3A109.3 109.3 0 0 0 1619.7 1253.6Z" fill="#bca09a"/>
<path d="M1574 1236.8A149.9 149.9 0 0 1 1573.3 1230.8L1613.7 1226.9A109.3 109.3 0 0 0 1614.2 1231.3Z" fill="#ded0cc"/>
<path d="M1573.3 1230.8A149.9 149.9 0 0 1 1573.2 1230.1L1613.7 1226.4A109.3 109.3 0 0 0 1613.7 1226.9Z" fill="#474893"/>
<path d="M1573.2 1230.1A149.9 149.9 0 0 1 1573.2 1229.8L1613.6 1226.2A109.3 109.3 0 0 0 1613.7 1226.4Z" fill="#8485b7"/>
<path d="M1573.2 1229.8A149.9 149.9 0 0 1 1573.2 1229.6L1613.6 1226A109.3 109.3 0 0 0 1613.6 1226.2Z" fill="#c2c2db"/>
<path d="M1573.2 1229.6A149.9 149.9 0 0 1 1572.9 1206.9L1613.4 1209.5A109.3 109.3 0 0 0 1613.6 1226Z" fill="#556673"/>
<path d="M1572.9 1206.9A149.9 149.9 0 0 1 1572.9 1206.6L1613.4 1209.3A109.3 109.3 0 0 0 1613.4 1209.5Z" fill="#8e99a2"/>
<path d="M1572.9 1206.6A149.9 149.9 0 0 1 1573 1206L1613.5 1208.9A109.3 109.3 0 0 0 1613.4 1209.3Z" fill="#c6ccd0"/>
<path d="M1573 1206A149.9 149.9 0 0 1 1576.6 1182L1616.1 1191.4A109.3 109.3 0 0 0 1613.5 1208.9Z" fill="#c98623"/>
<path d="M1576.6 1182A149.9 149.9 0 0 1 1580.3 1169.1L1618.8 1181.9A109.3 109.3 0 0 0 1616.1 1191.4Z" fill="#dbae6c"/>
<path d="M1580.3 1169.1A149.9 149.9 0 0 1 1581.1 1166.5L1619.4 1180A109.3 109.3 0 0 0 1618.8 1181.9Z" fill="#edd7b6"/>
<path d="M1581.1 1166.5A149.9 149.9 0 0 1 1581.5 1165.5L1619.7 1179.3A109.3 109.3 0 0 0 1619.4 1180Z" fill="#885c44"/>
<path d="M1581.5 1165.5A149.9 149.9 0 0 1 1581.9 1164.4L1620 1178.5A109.3 109.3 0 0 0 1619.7 1179.3Z" fill="#906851"/>
<path d="M1581.9 1164.4A149.9 149.9 0 0 1 1582.3 1163.4L1620.3 1177.8A109.3 109.3 0 0 0 1620 1178.5Z" fill="#99735f"/>
<path d="M1582.3 1163.4A149.9 149.9 0 0 1 1582.7 1162.4L1620.5 1177A109.3 109.3 0 0 0 1620.3 1177.8Z" fill="#a27f6c"/>
<path d="M1582.7 1162.4A149.9 149.9 0 0 1 1583.1 1161.4L1620.8 1176.3A109.3 109.3 0 0 0 1620.5 1177Z" fill="#aa8b79"/>
<path d="M1583.1 1161.4A149.9 149.9 0 0 1 1583.5 1160.3L1621.1 1175.5A109.3 109.3 0 0 0 1620.8 1176.3Z" fill="#b29687"/>
<path d="M1583.5 1160.3A149.9 149.9 0 0 1 1583.9 1159.3L1621.4 1174.8A109.3 109.3 0 0 0 1621.1 1175.5Z" fill="#bba294"/>
<path d="M1583.9 1159.3A149.9 149.9 0 0 1 1584.3 1158.3L1621.7 1174A109.3 109.3 0 0 0 1621.4 1174.8Z" fill="#c4aea2"/>
<path d="M1584.3 1158.3A149.9 149.9 0 0 1 1584.7 1157.3L1622.1 1173.3A109.3 109.3 0 0 0 1621.7 1174Z" fill="#ccb9af"/>
<path d="M1584.7 1157.3A149.9 149.9 0 0 1 1585.2 1156.3L1622.4 1172.6A109.3 109.3 0 0 0 1622.1 1173.3Z" fill="#d4c5bc"/>
<path d="M1585.2 1156.3A149.9 149.9 0 0 1 1585.6 1155.3L1622.7 1171.8A109.3 109.3 0 0 0 1622.4 1172.6Z" fill="#ddd0ca"/>
<path d="M1585.6 1155.3A149.9 149.9 0 0 1 1586.1 1154.3L1623 1171.1A109.3 109.3 0 0 0 1622.7 1171.8Z" fill="#e6dcd7"/>
<path d="M1586.1 1154.3A149.9 149.9 0 0 1 1586.5 1153.3L1623.4 1170.4A109.3 109.3 0 0 0 1623 1171.1Z" fill="#eee8e4"/>
<path d="M1586.5 1153.3A149.9 149.9 0 0 1 1587 1152.3L1623.7 1169.7A109.3 109.3 0 0 0 1623.4 1170.4Z" fill="#f6f3f2"/>
<path d="M1587 1152.3A149.9 149.9 0 0 1 1587.5 1151.2L1624.1 1168.8A109.3 109.3 0 0 0 1623.7 1169.7Z" fill="#3b5ba5"/>
<path d="M1587.5 1151.2A149.9 149.9 0 0 1 1587.7 1150.9L1624.2 1168.6A109.3 109.3 0 0 0 1624.1 1168.8Z" fill="#6c84bc"/>
<path d="M1587.7 1150.9A149.9 149.9 0 0 1 1587.8 1150.6L1624.3 1168.4A109.3 109.3 0 0 0 1624.2 1168.6Z" fill="#9dadd2"/>
<path d="M1587.8 1150.6A149.9 149.9 0 0 1 1588 1150.3L1624.4 1168.2A109.3 109.3 0 0 0 1624.3 1168.4Z" fill="#ced6e8"/>
<path d="M1588 1150.3A149.9 149.9 0 0 1 1590.1 1146.1L1626 1165.2A109.3 109.3 0 0 0 1624.4 1168.2Z" fill="#e3803b"/>
<path d="M1590.1 1146.1A149.9 149.9 0 0 1 1593.2 1140.6L1628.2 1161.2A109.3 109.3 0 0 0 1626 1165.2Z" fill="#ecaa7c"/>
<path d="M1593.2 1140.6A149.9 149.9 0 0 1 1595.1 1137.4L1629.6 1158.8A109.3 109.3 0 0 0 1628.2 1161.2Z" fill="#f6d5be"/>
<path d="M1595.1 1137.4A149.9 149.9 0 0 1 1595.9 1136.1L1630.2 1157.8A109.3 109.3 0 0 0 1629.6 1158.8Z" fill="#b7d050"/>
<path d="M1595.9 1136.1A149.9 149.9 0 0 1 1634.1 1095.4L1658 1128.2A109.3 109.3 0 0 0 1630.2 1157.8Z" fill="#62a0ab"/>
<path d="M1634.1 1095.4A149.9 149.9 0 0 1 1642.4 1089.7L1664.1 1124A109.3 109.3 0 0 0 1658 1128.2Z" fill="#70a9b3"/>
<path d="M1642.4 1089.7A149.9 149.9 0 0 1 1645.3 1087.9L1666.2 1122.7A109.3 109.3 0 0 0 1664.1 1124Z" fill="#7fb1ba"/>
<path d="M1645.3 1087.9A149.9 149.9 0 0 1 1645.8 1087.6L1666.6 1122.5A109.3 109.3 0 0 0 1666.2 1122.7Z" fill="#8dbac2"/>
<path d="M1645.8 1087.6A149.9 149.9 0 0 1 1649.7 1085.3L1669.4 1120.8A109.3 109.3 0 0 0 1666.6 1122.5Z" fill="#9bc3ca"/>
<path d="M1649.7 1085.3A149.9 149.9 0 0 1 1649.9 1085.2L1669.6 1120.8A109.3 109.3 0 0 0 1669.4 1120.8Z" fill="#a9cbd1"/>
<path d="M1649.9 1085.2A149.9 149.9 0 0 1 1650.3 1085L1669.9 1120.6A109.3 109.3 0 0 0 1669.6 1120.8Z" fill="#b8d4d9"/>
<path d="M1650.3 1085A149.9 149.9 0 0 1 1650.5 1084.9L1670 1120.5A109.3 109.3 0 0 0 1669.9 1120.6Z" fill="#c6dce0"/>
<path d="M1650.5 1084.9A149.9 149.9 0 0 1 1650.7 1084.8L1670.2 1120.4A109.3 109.3 0 0 0 1670 1120.5Z" fill="#d4e5e8"/>
<path d="M1650.7 1084.8A149.9 149.9 0 0 1 1651.7 1084.3L1670.9 1120.1A109.3 109.3 0 0 0 1670.2 1120.4Z" fill="#e2eef0"/>
<path d="M1651.7 1084.3A149.9 149.9 0 0 1 1652.7 1083.7L1671.6 1119.7A109.3 109.3 0 0 0 1670.9 1120.1Z" fill="#f1f6f7"/>
<path d="M1652.7 1083.7A149.9 149.9 0 0 1 1668.9 1076.4L1683.4 1114.3A109.3 109.3 0 0 0 1671.6 1119.7Z" fill="#df6675"/>
<path d="M1668.9 1076.4A149.9 149.9 0 0 1 1675.9 1073.9L1688.5 1112.5A109.3 109.3 0 0 0 1683.4 1114.3Z" fill="#efb2ba"/>
<path d="M1675.9 1073.9A149.9 149.9 0 0 1 1677.4 1073.5L1689.6 1112.2A109.3 109.3 0 0 0 1688.5 1112.5Z" fill="#6d6f74"/>
<path d="M1677.4 1073.5A149.9 149.9 0 0 1 1699.6 1068.3L1705.8 1108.4A109.3 109.3 0 0 0 1689.6 1112.2Z" fill="#929397"/>
<path d="M1699.6 1068.3A149.9 149.9 0 0 1 1700.5 1068.1L1706.4 1108.3A109.3 109.3 0 0 0 1705.8 1108.4Z" fill="#b6b7ba"/>
<path d="M1700.5 1068.1A149.9 149.9 0 0 1 1705 1067.5L1709.8 1107.8A109.3 109.3 0 0 0 1706.4 1108.3Z" fill="#dadbdc"/>
<path d="M1705 1067.5A149.9 149.9 0 0 1 1706.5 1067.4L1710.9 1107.7A109.3 109.3 0 0 0 1709.8 1107.8Z" fill="#716b3a"/>
<path d="M1706.5 1067.4A149.9 149.9 0 0 1 1706.6 1067.3L1710.9 1107.7A109.3 109.3 0 0 0 1710.9 1107.7Z" fill="#a09c7c"/>
<path d="M1706.6 1067.3A149.9 149.9 0 0 1 1706.7 1067.3L1711 1107.7A109.3 109.3 0 0 0 1710.9 1107.7Z" fill="#d0cebd"/>
<path d="M1706.7 1067.3A149.9 149.9 0 0 1 1706.8 1067.3L1711.1 1107.7A109.3 109.3 0 0 0 1711 1107.7Z" fill="#74884b"/>
<path d="M1706.8 1067.3A149.9 149.9 0 0 1 1717.3 1066.6L1718.7 1107.2A109.3 109.3 0 0 0 1711.1 1107.7Z" fill="#f0b582"/>
<path d="M1717.3 1066.6A149.9 149.9 0 0 1 1720.8 1066.5L1721.2 1107.1A109.3 109.3 0 0 0 1718.7 1107.2Z" fill="#f5ceac"/>
<path d="M1720.8 1066.5A149.9 149.9 0 0 1 1721.8 1066.5L1722 1107.1A109.3 109.3 0 0 0 1721.2 1107.1Z" fill="#fae6d5"/>
<path d="M1721.8 1066.5A149.9 149.9 0 0 1 1722.5 1066.5L1722.5 1107.1A109.3 109.3 0 0 0 1722 1107.1Z" fill="#a46567"/>
<path d="M1722.5 1108.5A107.9 107.9 0 0 1 1724.6 1108.5L1723.8 1147.9A68.5 68.5 0 0 0 1722.5 1147.9Z" fill="#c1cad2"/>
<path d="M1724.6 1108.5A107.9 107.9 0 0 1 1725.6 1108.5L1724.5 1147.9A68.5 68.5 0 0 0 1723.8 1147.9Z" fill="#cdd5db"/>
<path d="M1725.6 1108.5A107.9 107.9 0 0 1 1727.3 1108.6L1725.5 1148A68.5 68.5 0 0 0 1724.5 1147.9Z" fill="#dadfe4"/>
<path d="M1727.3 1108.6A107.9 107.9 0 0 1 1728.5 1108.7L1726.3 1148A68.5 68.5 0 0 0 1725.5 1148Z" fill="#e6eaed"/>
<path d="M1728.5 1108.7A107.9 107.9 0 0 1 1729.3 1108.7L1726.8 1148A68.5 68.5 0 0 0 1726.3 1148Z" fill="#f3f4f6"/>
<path d="M1729.3 1108.7A107.9 107.9 0 0 1 1729.9 1108.8L1727.2 1148.1A68.5 68.5 0 0 0 1726.8 1148Z" fill="#2f4554"/>
<path d="M1729.9 1108.8A107.9 107.9 0 0 1 1731.9 1108.9L1728.5 1148.2A68.5 68.5 0 0 0 1727.2 1148.1Z" fill="#465a67"/>
<path d="M1731.9 1108.9A107.9 107.9 0 0 1 1734.9 1109.2L1730.4 1148.4A68.5 68.5 0 0 0 1728.5 1148.2Z" fill="#5d6e7a"/>
<path d="M1734.9 1109.2A107.9 107.9 0 0 1 1737.3 1109.5L1731.9 1148.5A68.5 68.5 0 0 0 1730.4 1148.4Z" fill="#74838d"/>
<path d="M1737.3 1109.5A107.9 107.9 0 0 1 1770.9 1120L1753.3 1155.2A68.5 68.5 0 0 0 1731.9 1148.5Z" fill="#8b98a0"/>
<path d="M1770.9 1120A107.9 107.9 0 0 1 1772.3 1120.7L1754.1 1155.6A68.5 68.5 0 0 0 1753.3 1155.2Z" fill="#a3acb3"/>
<path d="M1772.3 1120.7A107.9 107.9 0 0 1 1776.1 1122.8L1756.5 1157A68.5 68.5 0 0 0 1754.1 1155.6Z" fill="#bac1c6"/>
<path d="M1776.1 1122.8A107.9 107.9 0 0 1 1776.5 1123L1756.8 1157.1A68.5 68.5 0 0 0 1756.5 1157Z" fill="#d1d6d9"/>
<path d="M1776.5 1123A107.9 107.9 0 0 1 1777 1123.3L1757.1 1157.3A68.5 68.5 0 0 0 1756.8 1157.1Z" fill="#e8eaec"/>
<path d="M1777 1123.3A107.9 107.9 0 0 1 1784.8 1128.3L1762.1 1160.5A68.5 68.5 0 0 0 1757.1 1157.3Z" fill="#df639c"/>
<path d="M1784.8 1128.3A107.9 107.9 0 0 1 1786.6 1129.6L1763.2 1161.3A68.5 68.5 0 0 0 1762.1 1160.5Z" fill="#8dc8ae"/>
<path d="M1786.6 1129.6A107.9 107.9 0 0 1 1790.5 1132.6L1765.7 1163.2A68.5 68.5 0 0 0 1763.2 1161.3Z" fill="#9aceb7"/>
<path d="M1790.5 1132.6A107.9 107.9 0 0 1 1791.2 1133.2L1766.1 1163.6A68.5 68.5 0 0 0 1765.7 1163.2Z" fill="#a6d4c0"/>
<path d="M1791.2 1133.2A107.9 107.9 0 0 1 1792.4 1134.2L1766.9 1164.2A68.5 68.5 0 0 0 1766.1 1163.6Z" fill="#b3dac9"/>
<path d="M1792.4 1134.2A107.9 107.9 0 0 1 1793.7 1135.3L1767.7 1164.9A68.5 68.5 0 0 0 1766.9 1164.2Z" fill="#c0e0d2"/>
<path d="M1793.7 1135.3A107.9 107.9 0 0 1 1794.9 1136.4L1768.5 1165.6A68.5 68.5 0 0 0 1767.7 1164.9Z" fill="#cce7db"/>
<path d="M1794.9 1136.4A107.9 107.9 0 0 1 1796.4 1137.8L1769.4 1166.5A68.5 68.5 0 0 0 1768.5 1165.6Z" fill="#d9ede4"/>
<path d="M1796.4 1137.8A107.9 107.9 0 0 1 1805 1146.8L1774.9 1172.2A68.5 68.5 0 0 0 1769.4 1166.5Z" fill="#e6f3ed"/>
<path d="M1805 1146.8A107.9 107.9 0 0 1 1805.5 1147.5L1775.2 1172.6A68.5 68.5 0 0 0 1774.9 1172.2Z" fill="#f2f9f6"/>
<path d="M1805.5 1147.5A107.9 107.9 0 0 1 1818.8 1167.8L1783.7 1185.5A68.5 68.5 0 0 0 1775.2 1172.6Z" fill="#c43432"/>
<path d="M1818.8 1167.8A107.9 107.9 0 0 1 1830.1 1224.5L1790.8 1221.6A68.5 68.5 0 0 0 1783.7 1185.5Z" fill="#d87876"/>
<path d="M1830.1 1224.5A107.9 107.9 0 0 1 1620.7 1252.2L1657.9 1239.1A68.5 68.5 0 0 0 1790.8 1221.6Z" fill="#ebbbbb"/>
<path d="M1620.7 1252.2A107.9 107.9 0 0 1 1617.2 1239.8L1655.6 1231.3A68.5 68.5 0 0 0 1657.9 1239.1Z" fill="#d38265"/>
<path d="M1617.2 1239.8A107.9 107.9 0 0 1 1615.3 1228.2L1654.4 1223.9A68.5 68.5 0 0 0 1655.6 1231.3Z" fill="#d78d73"/>
<path d="M1615.3 1228.2A107.9 107.9 0 0 1 1615.2 1227.4L1654.4 1223.4A68.5 68.5 0 0 0 1654.4 1223.9Z" fill="#db9981"/>
<path d="M1615.2 1227.4A107.9 107.9 0 0 1 1614.6 1213.5L1654 1214.6A68.5 68.5 0 0 0 1654.4 1223.4Z" fill="#dfa48f"/>
<path d="M1614.6 1213.5A107.9 107.9 0 0 1 1614.7 1212.2L1654.1 1213.8A68.5 68.5 0 0 0 1654 1214.6Z" fill="#e3af9d"/>
<path d="M1614.7 1212.2A107.9 107.9 0 0 1 1614.7 1211.6L1654.1 1213.3A68.5 68.5 0 0 0 1654.1 1213.8Z" fill="#e7bbab"/>
<path d="M1614.7 1211.6A107.9 107.9 0 0 1 1614.7 1210.9L1654.1 1212.9A68.5 68.5 0 0 0 1654.1 1213.3Z" fill="#ebc6b9"/>
<path d="M1614.7 1210.9A107.9 107.9 0 0 1 1614.8 1210.5L1654.1 1212.7A68.5 68.5 0 0 0 1654.1 1212.9Z" fill="#efd2c7"/>
<path d="M1614.8 1210.5A107.9 107.9 0 0 1 1614.8 1210.3L1654.1 1212.5A68.5 68.5 0 0 0 1654.1 1212.7Z" fill="#f3ddd5"/>
<path d="M1614.8 1210.3A107.9 107.9 0 0 1 1614.8 1210.1L1654.1 1212.4A68.5 68.5 0 0 0 1654.1 1212.5Z" fill="#f7e8e3"/>
<path d="M1614.8 1210.1A107.9 107.9 0 0 1 1615 1207.5L1654.2 1210.8A68.5 68.5 0 0 0 1654.1 1212.4Z" fill="#fbf4f1"/>
<path d="M1615 1207.5A107.9 107.9 0 0 1 1616.1 1198.8L1654.9 1205.2A68.5 68.5 0 0 0 1654.2 1210.8Z" fill="#bca09a"/>
<path d="M1616.1 1198.8A107.9 107.9 0 0 1 1616.7 1195L1655.4 1202.8A68.5 68.5 0 0 0 1654.9 1205.2Z" fill="#ded0cc"/>
<path d="M1616.7 1195A107.9 107.9 0 0 1 1616.9 1194.3L1655.5 1202.4A68.5 68.5 0 0 0 1655.4 1202.8Z" fill="#474893"/>
<path d="M1616.9 1194.3A107.9 107.9 0 0 1 1616.9 1194L1655.5 1202.2A68.5 68.5 0 0 0 1655.5 1202.4Z" fill="#8485b7"/>
<path d="M1616.9 1194A107.9 107.9 0 0 1 1617 1193.8L1655.5 1202A68.5 68.5 0 0 0 1655.5 1202.2Z" fill="#c2c2db"/>
<path d="M1617 1193.8A107.9 107.9 0 0 1 1622.2 1176.6L1658.8 1191.1A68.5 68.5 0 0 0 1655.5 1202Z" fill="#556673"/>
<path d="M1622.2 1176.6A107.9 107.9 0 0 1 1622.4 1176.1L1659 1190.8A68.5 68.5 0 0 0 1658.8 1191.1Z" fill="#8e99a2"/>
<path d="M1622.4 1176.1A107.9 107.9 0 0 1 1622.8 1175.2L1659.2 1190.3A68.5 68.5 0 0 0 1659 1190.8Z" fill="#c6ccd0"/>
<path d="M1622.8 1175.2A107.9 107.9 0 0 1 1627 1166.1L1661.9 1184.5A68.5 68.5 0 0 0 1659.2 1190.3Z" fill="#c98623"/>
<path d="M1627 1166.1A107.9 107.9 0 0 1 1632.1 1157.5L1665.1 1179A68.5 68.5 0 0 0 1661.9 1184.5Z" fill="#dbae6c"/>
<path d="M1632.1 1157.5A107.9 107.9 0 0 1 1633.8 1155L1666.2 1177.4A68.5 68.5 0 0 0 1665.1 1179Z" fill="#edd7b6"/>
<path d="M1633.8 1155A107.9 107.9 0 0 1 1634.1 1154.6L1666.3 1177.2A68.5 68.5 0 0 0 1666.2 1177.4Z" fill="#885c44"/>
<path d="M1634.1 1154.6A107.9 107.9 0 0 1 1634.3 1154.2L1666.5 1176.9A68.5 68.5 0 0 0 1666.3 1177.2Z" fill="#906851"/>
<path d="M1634.3 1154.2A107.9 107.9 0 0 1 1634.6 1153.9L1666.7 1176.7A68.5 68.5 0 0 0 1666.5 1176.9Z" fill="#99735f"/>
<path d="M1634.6 1153.9A107.9 107.9 0 0 1 1634.8 1153.5L1666.8 1176.5A68.5 68.5 0 0 0 1666.7 1176.7Z" fill="#a27f6c"/>
<path d="M1634.8 1153.5A107.9 107.9 0 0 1 1635.1 1153.1L1667 1176.2A68.5 68.5 0 0 0 1666.8 1176.5Z" fill="#aa8b79"/>
<path d="M1635.1 1153.1A107.9 107.9 0 0 1 1635.4 1152.8L1667.2 1176A68.5 68.5 0 0 0 1667 1176.2Z" fill="#b29687"/>
<path d="M1635.4 1152.8A107.9 107.9 0 0 1 1635.6 1152.4L1667.3 1175.8A68.5 68.5 0 0 0 1667.2 1176Z" fill="#bba294"/>
<path d="M1635.6 1152.4A107.9 107.9 0 0 1 1635.9 1152L1667.5 1175.5A68.5 68.5 0 0 0 1667.3 1175.8Z" fill="#c4aea2"/>
<path d="M1635.9 1152A107.9 107.9 0 0 1 1636.2 1151.7L1667.7 1175.3A68.5 68.5 0 0 0 1667.5 1175.5Z" fill="#ccb9af"/>
<path d="M1636.2 1151.7A107.9 107.9 0 0 1 1636.4 1151.3L1667.9 1175.1A68.5 68.5 0 0 0 1667.7 1175.3Z" fill="#d4c5bc"/>
<path d="M1636.4 1151.3A107.9 107.9 0 0 1 1636.7 1151L1668 1174.9A68.5 68.5 0 0 0 1667.9 1175.1Z" fill="#ddd0ca"/>
<path d="M1636.7 1151A107.9 107.9 0 0 1 1637 1150.6L1668.2 1174.6A68.5 68.5 0 0 0 1668 1174.9Z" fill="#e6dcd7"/>
<path d="M1637 1150.6A107.9 107.9 0 0 1 1637.3 1150.2L1668.4 1174.4A68.5 68.5 0 0 0 1668.2 1174.6Z" fill="#eee8e4"/>
<path d="M1637.3 1150.2A107.9 107.9 0 0 1 1637.5 1149.9L1668.6 1174.2A68.5 68.5 0 0 0 1668.4 1174.4Z" fill="#f6f3f2"/>
<path d="M1637.5 1149.9A107.9 107.9 0 0 1 1637.9 1149.5L1668.8 1173.9A68.5 68.5 0 0 0 1668.6 1174.2Z" fill="#3b5ba5"/>
<path d="M1637.9 1149.5A107.9 107.9 0 0 1 1637.9 1149.4L1668.8 1173.9A68.5 68.5 0 0 0 1668.8 1173.9Z" fill="#6c84bc"/>
<path d="M1637.9 1149.4A107.9 107.9 0 0 1 1638 1149.3L1668.9 1173.8A68.5 68.5 0 0 0 1668.8 1173.9Z" fill="#9dadd2"/>
<path d="M1638 1149.3A107.9 107.9 0 0 1 1638.1 1149.2L1668.9 1173.7A68.5 68.5 0 0 0 1668.9 1173.8Z" fill="#ced6e8"/>
<path d="M1638.1 1149.2A107.9 107.9 0 0 1 1639.3 1147.7L1669.7 1172.8A68.5 68.5 0 0 0 1668.9 1173.7Z" fill="#e3803b"/>
<path d="M1639.3 1147.7A107.9 107.9 0 0 1 1641 1145.7L1670.7 1171.5A68.5 68.5 0 0 0 1669.7 1172.8Z" fill="#ecaa7c"/>
<path d="M1641 1145.7A107.9 107.9 0 0 1 1642 1144.6L1671.4 1170.8A68.5 68.5 0 0 0 1670.7 1171.5Z" fill="#f6d5be"/>
<path d="M1642 1144.6A107.9 107.9 0 0 1 1642.4 1144.1L1671.7 1170.5A68.5 68.5 0 0 0 1671.4 1170.8Z" fill="#b7d050"/>
<path d="M1642.4 1144.1A107.9 107.9 0 0 1 1681.2 1116.7L1696.3 1153.1A68.5 68.5 0 0 0 1671.7 1170.5Z" fill="#62a0ab"/>
<path d="M1681.2 1116.7A107.9 107.9 0 0 1 1684.3 1115.5L1698.3 1152.3A68.5 68.5 0 0 0 1696.3 1153.1Z" fill="#70a9b3"/>
<path d="M1684.3 1115.5A107.9 107.9 0 0 1 1685.1 1115.2L1698.8 1152.1A68.5 68.5 0 0 0 1698.3 1152.3Z" fill="#7fb1ba"/>
<path d="M1685.1 1115.2A107.9 107.9 0 0 1 1685.4 1115.1L1699 1152.1A68.5 68.5 0 0 0 1698.8 1152.1Z" fill="#8dbac2"/>
<path d="M1685.4 1115.1A107.9 107.9 0 0 1 1686.2 1114.8L1699.5 1151.9A68.5 68.5 0 0 0 1699 1152.1Z" fill="#9bc3ca"/>
<path d="M1686.2 1114.8A107.9 107.9 0 0 1 1686.3 1114.8L1699.5 1151.9A68.5 68.5 0 0 0 1699.5 1151.9Z" fill="#a9cbd1"/>
<path d="M1686.3 1114.8A107.9 107.9 0 0 1 1686.4 1114.7L1699.6 1151.8A68.5 68.5 0 0 0 1699.5 1151.9Z" fill="#b8d4d9"/>
<path d="M1686.4 1114.7A107.9 107.9 0 0 1 1686.5 1114.7L1699.7 1151.8A68.5 68.5 0 0 0 1699.6 1151.8Z" fill="#c6dce0"/>
<path d="M1686.5 1114.7A107.9 107.9 0 0 1 1686.6 1114.6L1699.7 1151.8A68.5 68.5 0 0 0 1699.7 1151.8Z" fill="#d4e5e8"/>
<path d="M1686.6 1114.6A107.9 107.9 0 0 1 1687.1 1114.5L1700 1151.7A68.5 68.5 0 0 0 1699.7 1151.8Z" fill="#e2eef0"/>
<path d="M1687.1 1114.5A107.9 107.9 0 0 1 1687.5 1114.3L1700.3 1151.6A68.5 68.5 0 0 0 1700 1151.7Z" fill="#f1f6f7"/>
<path d="M1687.5 1114.3A107.9 107.9 0 0 1 1695.9 1111.8L1705.6 1150A68.5 68.5 0 0 0 1700.3 1151.6Z" fill="#df6675"/>
<path d="M1695.9 1111.8A107.9 107.9 0 0 1 1698.2 1111.3L1707.1 1149.7A68.5 68.5 0 0 0 1705.6 1150Z" fill="#efb2ba"/>
<path d="M1698.2 1111.3A107.9 107.9 0 0 1 1699 1111.1L1707.6 1149.5A68.5 68.5 0 0 0 1707.1 1149.7Z" fill="#6d6f74"/>
<path d="M1699 1111.1A107.9 107.9 0 0 1 1707.8 1109.5L1713.2 1148.5A68.5 68.5 0 0 0 1707.6 1149.5Z" fill="#929397"/>
<path d="M1707.8 1109.5A107.9 107.9 0 0 1 1708.5 1109.4L1713.6 1148.5A68.5 68.5 0 0 0 1713.2 1148.5Z" fill="#b6b7ba"/>
<path d="M1708.5 1109.4A107.9 107.9 0 0 1 1717.4 1108.6L1719.3 1148A68.5 68.5 0 0 0 1713.6 1148.5Z" fill="#dadbdc"/>
<path d="M1717.4 1108.6A107.9 107.9 0 0 1 1718.2 1108.6L1719.8 1148A68.5 68.5 0 0 0 1719.3 1148Z" fill="#716b3a"/>
<path d="M1718.2 1108.6A107.9 107.9 0 0 1 1718.3 1108.6L1719.8 1148A68.5 68.5 0 0 0 1719.8 1148Z" fill="#a09c7c"/>
<path d="M1718.3 1108.6A107.9 107.9 0 0 1 1718.4 1108.6L1719.9 1148A68.5 68.5 0 0 0 1719.8 1148Z" fill="#d0cebd"/>
<path d="M1718.4 1108.6A107.9 107.9 0 0 1 1718.4 1108.6L1719.9 1147.9A68.5 68.5 0 0 0 1719.9 1148Z" fill="#74884b"/>
<path d="M1718.4 1108.6A107.9 107.9 0 0 1 1720.9 1108.5L1721.5 1147.9A68.5 68.5 0 0 0 1719.9 1147.9Z" fill="#f0b582"/>
<path d="M1720.9 1108.5A107.9 107.9 0 0 1 1721.7 1108.5L1722 1147.9A68.5 68.5 0 0 0 1721.5 1147.9Z" fill="#f5ceac"/>
<path d="M1721.7 1108.5A107.9 107.9 0 0 1 1722.1 1108.5L1722.2 1147.9A68.5 68.5 0 0 0 1722 1147.9Z" fill="#fae6d5"/>
<path d="M1722.1 1108.5A107.9 107.9 0 0 1 1722.5 1108.5L1722.5 1147.9A68.5 68.5 0 0 0 1722.2 1147.9Z" fill="#a46567"/>
</g>
<text x="1683.5" y="1313" font-size="37.6" font-style="italic">1970</text>
<text x="1683" y="1353.7" font-size="37.6" font-style="italic">2021</text>
<text transform="translate(3.2 43.3) scale(1.1 1)" font-size="48.5" font-weight="bold">A</text>
<text transform="translate(1317.5 44.8) scale(0.93 1)" font-size="48.5" font-weight="bold">B</text>
<text transform="translate(4.2 1059.3) scale(0.97 1)" font-size="48.5" font-weight="bold">C</text>
<text transform="translate(1317.3 1059.2) scale(1.1 1)" font-size="48.5" font-weight="bold">D</text>
<text x="2662.7" y="245.1">Vessel type</text>
<rect x="2661.2" y="288.1" width="90.6" height="32.1" fill="#62a0cb"/>
<text x="2786.5" y="320.2">Bulk carrier</text>
<rect x="2661.2" y="343.1" width="90.6" height="32.1" fill="#ffa556"/>
<text x="2786.5" y="375.2">Chemical tanker</text>
<rect x="2661.2" y="398.1" width="90.6" height="32.1" fill="#6bbc6b"/>
<text x="2786.5" y="430.2">Container</text>
<rect x="2661.2" y="453.1" width="90.6" height="32.1" fill="#e26868"/>
<text x="2786.5" y="485.2">General cargo</text>
<rect x="2661.2" y="508.1" width="90.6" height="32.1" fill="#b495d1"/>
<text x="2786.5" y="540.2">Liquid gas tanker</text>
<rect x="2661.2" y="563.1" width="90.6" height="32.1" fill="#ae8981"/>
<text x="2786.5" y="595.2">Miscellaneous</text>
<rect x="2661.2" y="618.1" width="90.6" height="32.1" fill="#eba0d4"/>
<text x="2786.5" y="650.2">Oil tanker</text>
<rect x="2661.2" y="673.1" width="90.6" height="32.1" fill="#a5a5a5"/>
<text x="2786.5" y="705.2">Reefer</text>
<rect x="2661.2" y="728.1" width="90.6" height="32.1" fill="#d0d164"/>
<text x="2786.5" y="760.2">RoRo</text>
<text x="2652.5" y="1093.5">Commodity type</text>
<rect x="2654.2" y="1134.2" width="50.3" height="20.5" fill="#c1cad2"/>
<text x="2727.5" y="1149.6" font-size="29.5" text-anchor="middle">1</text>
<rect x="2654.2" y="1160.5" width="50.3" height="20.5" fill="#cdd5db"/>
<rect x="2654.2" y="1186.7" width="50.3" height="20.5" fill="#dadfe4"/>
<rect x="2654.2" y="1213" width="50.3" height="20.5" fill="#e6eaed"/>
<rect x="2654.2" y="1239.2" width="50.3" height="20.5" fill="#f3f4f6"/>
<text x="2727.5" y="1255.9" font-size="29.5" text-anchor="middle">5</text>
<rect x="2654.2" y="1265.5" width="50.3" height="20.5" fill="#2f4554"/>
<text x="2727.5" y="1282.4" font-size="29.5" text-anchor="middle">6</text>
<rect x="2654.2" y="1291.7" width="50.3" height="20.5" fill="#465a67"/>
<rect x="2654.2" y="1318" width="50.3" height="20.5" fill="#5d6e7a"/>
<rect x="2654.2" y="1344.2" width="50.3" height="20.5" fill="#74838d"/>
<rect x="2654.2" y="1370.5" width="50.3" height="20.5" fill="#8b98a0"/>
<rect x="2654.2" y="1396.7" width="50.3" height="20.5" fill="#a3acb3"/>
<rect x="2654.2" y="1423" width="50.3" height="20.5" fill="#bac1c6"/>
<rect x="2654.2" y="1449.2" width="50.3" height="20.5" fill="#d1d6d9"/>
<rect x="2654.2" y="1475.5" width="50.3" height="20.5" fill="#e8eaec"/>
<text x="2727.5" y="1495" font-size="29.5" text-anchor="middle">14</text>
<rect x="2654.2" y="1501.7" width="50.3" height="20.5" fill="#df639c"/>
<text x="2727.5" y="1521.6" font-size="29.5" text-anchor="middle">15</text>
<rect x="2654.2" y="1528" width="50.3" height="20.5" fill="#8dc8ae"/>
<text x="2727.5" y="1548.1" font-size="29.5" text-anchor="middle">16</text>
<rect x="2654.2" y="1554.2" width="50.3" height="20.5" fill="#9aceb7"/>
<rect x="2654.2" y="1580.5" width="50.3" height="20.5" fill="#a6d4c0"/>
<rect x="2654.2" y="1606.7" width="50.3" height="20.5" fill="#b3dac9"/>
<rect x="2654.2" y="1633" width="50.3" height="20.5" fill="#c0e0d2"/>
<rect x="2654.2" y="1659.2" width="50.3" height="20.5" fill="#cce7db"/>
<rect x="2654.2" y="1685.5" width="50.3" height="20.5" fill="#d9ede4"/>
<rect x="2654.2" y="1711.7" width="50.3" height="20.5" fill="#e6f3ed"/>
<rect x="2654.2" y="1738" width="50.3" height="20.5" fill="#f2f9f6"/>
<text x="2727.5" y="1760.7" font-size="29.5" text-anchor="middle">24</text>
<rect x="2831.8" y="1134.2" width="51.7" height="20.5" fill="#c43432"/>
<text x="2915.1" y="1149.6" font-size="29.5" text-anchor="middle">25</text>
<rect x="2831.8" y="1160.5" width="51.7" height="20.5" fill="#d87876"/>
<rect x="2831.8" y="1186.7" width="51.7" height="20.5" fill="#ebbbbb"/>
<text x="2915.1" y="1202.7" font-size="29.5" text-anchor="middle">27</text>
<rect x="2831.8" y="1213" width="51.7" height="20.5" fill="#d38265"/>
<text x="2915.1" y="1229.3" font-size="29.5" text-anchor="middle">28</text>
<rect x="2831.8" y="1239.2" width="51.7" height="20.5" fill="#d78d73"/>
<rect x="2831.8" y="1265.5" width="51.7" height="20.5" fill="#db9981"/>
<rect x="2831.8" y="1291.7" width="51.7" height="20.5" fill="#dfa48f"/>
<rect x="2831.8" y="1318" width="51.7" height="20.5" fill="#e3af9d"/>
<rect x="2831.8" y="1344.2" width="51.7" height="20.5" fill="#e7bbab"/>
<rect x="2831.8" y="1370.5" width="51.7" height="20.5" fill="#ebc6b9"/>
<rect x="2831.8" y="1396.7" width="51.7" height="20.5" fill="#efd2c7"/>
<rect x="2831.8" y="1423" width="51.7" height="20.5" fill="#f3ddd5"/>
<rect x="2831.8" y="1449.2" width="51.7" height="20.5" fill="#f7e8e3"/>
<rect x="2831.8" y="1475.5" width="51.7" height="20.5" fill="#fbf4f1"/>
<text x="2915.1" y="1495" font-size="29.5" text-anchor="middle">38</text>
<rect x="2831.8" y="1501.7" width="51.7" height="20.5" fill="#bca09a"/>
<text x="2915.1" y="1521.6" font-size="29.5" text-anchor="middle">39</text>
<rect x="2831.8" y="1528" width="51.7" height="20.5" fill="#ded0cc"/>
<text x="2915.1" y="1548.1" font-size="29.5" text-anchor="middle">40</text>
<rect x="2831.8" y="1554.2" width="51.7" height="20.5" fill="#474893"/>
<text x="2915.1" y="1574.7" font-size="29.5" text-anchor="middle">41</text>
<rect x="2831.8" y="1580.5" width="51.7" height="20.5" fill="#8485b7"/>
<rect x="2831.8" y="1606.7" width="51.7" height="20.5" fill="#c2c2db"/>
<text x="2915.1" y="1627.9" font-size="29.5" text-anchor="middle">43</text>
<rect x="2831.8" y="1633" width="51.7" height="20.5" fill="#556673"/>
<text x="2915.1" y="1654.4" font-size="29.5" text-anchor="middle">44</text>
<rect x="2831.8" y="1659.2" width="51.7" height="20.5" fill="#8e99a2"/>
<rect x="2831.8" y="1685.5" width="51.7" height="20.5" fill="#c6ccd0"/>
<text x="2915.1" y="1707.6" font-size="29.5" text-anchor="middle">46</text>
<rect x="2831.8" y="1711.7" width="51.7" height="20.5" fill="#c98623"/>
<text x="2915.1" y="1734.1" font-size="29.5" text-anchor="middle">47</text>
<rect x="2831.8" y="1738" width="51.7" height="20.5" fill="#dbae6c"/>
<text x="2915.1" y="1760.7" font-size="29.5" text-anchor="middle">48</text>
<rect x="3013.1" y="1134.2" width="56" height="20.5" fill="#edd7b6"/>
<text x="3099.7" y="1149.6" font-size="29.5" text-anchor="middle">49</text>
<rect x="3013.1" y="1160.5" width="56" height="20.5" fill="#885c44"/>
<text x="3099.7" y="1176.2" font-size="29.5" text-anchor="middle">50</text>
<rect x="3013.1" y="1186.7" width="56" height="20.5" fill="#906851"/>
<rect x="3013.1" y="1213" width="56" height="20.5" fill="#99735f"/>
<rect x="3013.1" y="1239.2" width="56" height="20.5" fill="#a27f6c"/>
<rect x="3013.1" y="1265.5" width="56" height="20.5" fill="#aa8b79"/>
<rect x="3013.1" y="1291.7" width="56" height="20.5" fill="#b29687"/>
<rect x="3013.1" y="1318" width="56" height="20.5" fill="#bba294"/>
<rect x="3013.1" y="1344.2" width="56" height="20.5" fill="#c4aea2"/>
<rect x="3013.1" y="1370.5" width="56" height="20.5" fill="#ccb9af"/>
<rect x="3013.1" y="1396.7" width="56" height="20.5" fill="#d4c5bc"/>
<rect x="3013.1" y="1423" width="56" height="20.5" fill="#ddd0ca"/>
<rect x="3013.1" y="1449.2" width="56" height="20.5" fill="#e6dcd7"/>
<rect x="3013.1" y="1475.5" width="56" height="20.5" fill="#eee8e4"/>
<rect x="3013.1" y="1501.7" width="56" height="20.5" fill="#f6f3f2"/>
<text x="3099.7" y="1521.6" font-size="29.5" text-anchor="middle">63</text>
<rect x="3013.1" y="1528" width="56" height="20.5" fill="#3b5ba5"/>
<text x="3099.7" y="1548.1" font-size="29.5" text-anchor="middle">64</text>
<rect x="3013.1" y="1554.2" width="56" height="20.5" fill="#6c84bc"/>
<rect x="3013.1" y="1580.5" width="56" height="20.5" fill="#9dadd2"/>
<rect x="3013.1" y="1606.7" width="56" height="20.5" fill="#ced6e8"/>
<text x="3099.7" y="1627.9" font-size="29.5" text-anchor="middle">67</text>
<rect x="3013.1" y="1633" width="56" height="20.5" fill="#e3803b"/>
<text x="3099.7" y="1654.4" font-size="29.5" text-anchor="middle">68</text>
<rect x="3013.1" y="1659.2" width="56" height="20.5" fill="#ecaa7c"/>
<rect x="3013.1" y="1685.5" width="56" height="20.5" fill="#f6d5be"/>
<text x="3099.7" y="1707.6" font-size="29.5" text-anchor="middle">70</text>
<rect x="3013.1" y="1711.7" width="56" height="20.5" fill="#b7d050"/>
<text x="3099.7" y="1734.1" font-size="29.5" text-anchor="middle">71</text>
<rect x="3013.1" y="1738" width="56" height="20.5" fill="#62a0ab"/>
<text x="3099.7" y="1760.7" font-size="29.5" text-anchor="middle">72</text>
<rect x="3199.6" y="1134.2" width="52.9" height="20.5" fill="#70a9b3"/>
<text x="3280.6" y="1149.6" font-size="29.5" text-anchor="middle">73</text>
<rect x="3199.6" y="1160.5" width="52.9" height="20.5" fill="#7fb1ba"/>
<rect x="3199.6" y="1186.7" width="52.9" height="20.5" fill="#8dbac2"/>
<rect x="3199.6" y="1213" width="52.9" height="20.5" fill="#9bc3ca"/>
<rect x="3199.6" y="1239.2" width="52.9" height="20.5" fill="#a9cbd1"/>
<rect x="3199.6" y="1265.5" width="52.9" height="20.5" fill="#b8d4d9"/>
<rect x="3199.6" y="1291.7" width="52.9" height="20.5" fill="#c6dce0"/>
<rect x="3199.6" y="1318" width="52.9" height="20.5" fill="#d4e5e8"/>
<rect x="3199.6" y="1344.2" width="52.9" height="20.5" fill="#e2eef0"/>
<rect x="3199.6" y="1370.5" width="52.9" height="20.5" fill="#f1f6f7"/>
<text x="3280.6" y="1388.7" font-size="29.5" text-anchor="middle">83</text>
<rect x="3199.6" y="1396.7" width="52.9" height="20.5" fill="#df6675"/>
<text x="3280.6" y="1415.3" font-size="29.5" text-anchor="middle">84</text>
<rect x="3199.6" y="1423" width="52.9" height="20.5" fill="#efb2ba"/>
<text x="3280.6" y="1441.9" font-size="29.5" text-anchor="middle">85</text>
<rect x="3199.6" y="1449.2" width="52.9" height="20.5" fill="#6d6f74"/>
<text x="3280.6" y="1468.4" font-size="29.5" text-anchor="middle">86</text>
<rect x="3199.6" y="1475.5" width="52.9" height="20.5" fill="#929397"/>
<rect x="3199.6" y="1501.7" width="52.9" height="20.5" fill="#b6b7ba"/>
<rect x="3199.6" y="1528" width="52.9" height="20.5" fill="#dadbdc"/>
<text x="3280.6" y="1548.1" font-size="29.5" text-anchor="middle">89</text>
<rect x="3199.6" y="1554.2" width="52.9" height="20.5" fill="#716b3a"/>
<text x="3280.6" y="1574.7" font-size="29.5" text-anchor="middle">90</text>
<rect x="3199.6" y="1580.5" width="52.9" height="20.5" fill="#a09c7c"/>
<rect x="3199.6" y="1606.7" width="52.9" height="20.5" fill="#d0cebd"/>
<text x="3280.6" y="1627.9" font-size="29.5" text-anchor="middle">92</text>
<rect x="3199.6" y="1633" width="52.9" height="20.5" fill="#74884b"/>
<text x="3280.6" y="1654.4" font-size="29.5" text-anchor="middle">93</text>
<rect x="3199.6" y="1659.2" width="52.9" height="20.5" fill="#f0b582"/>
<text x="3280.6" y="1681" font-size="29.5" text-anchor="middle">94</text>
<rect x="3199.6" y="1685.5" width="52.9" height="20.5" fill="#f5ceac"/>
<rect x="3199.6" y="1711.7" width="52.9" height="20.5" fill="#fae6d5"/>
<text x="3280.6" y="1734.1" font-size="29.5" text-anchor="middle">96</text>
<rect x="3199.6" y="1738" width="52.9" height="20.5" fill="#a46567"/>
<text x="3280.6" y="1760.7" font-size="29.5" text-anchor="middle">97</text>
<text x="2790" y="1200" font-size="29.5" text-anchor="middle">I</text>
<text x="2790" y="1383.9" font-size="29.5" text-anchor="middle">II</text>
<text x="2790" y="1519.8" font-size="29.5" text-anchor="middle">III</text>
<text x="2790" y="1650" font-size="29.5" text-anchor="middle">IV</text>
<text x="2977.3" y="1173" font-size="29.5" text-anchor="middle">V</text>
<text x="2977.3" y="1356.5" font-size="29.5" text-anchor="middle">VI</text>
<text x="2977.3" y="1535.1" font-size="29.5" text-anchor="middle">VII</text>
<text x="2977.3" y="1602.9" font-size="29.5" text-anchor="middle">VIII</text>
<text x="2977.3" y="1681.5" font-size="29.5" text-anchor="middle">IX</text>
<text x="2977.3" y="1747.1" font-size="29.5" text-anchor="middle">X</text>
<text x="3162" y="1356.5" font-size="29.5" text-anchor="middle">XI</text>
<text x="3162" y="1586.1" font-size="29.5" text-anchor="middle">XII</text>
<text x="3162" y="1681.5" font-size="29.5" text-anchor="middle">XIII</text>
<text x="3162" y="1733.9" font-size="29.5" text-anchor="middle">XIV</text>
<text x="3350.5" y="1266.7" font-size="29.5" text-anchor="middle">XV</text>
<text x="3350.5" y="1428.6" font-size="29.5" text-anchor="middle">XVI</text>
<text x="3350.5" y="1500.1" font-size="22.3" text-anchor="middle">XVII</text>
<text x="3350.5" y="1595.8" font-size="22.3" text-anchor="middle">XVIII</text>
<text x="3350.5" y="1652" font-size="29.5" text-anchor="middle">XIX</text>
<text x="3350.5" y="1708.3" font-size="29.5" text-anchor="middle">XX</text>
<text x="3350.5" y="1759.5" font-size="29.5" text-anchor="middle">XXI</text>
<path d="M2726.9 1157.4V1225M2733.4 1189.4H2770.2M2726.9 1291.4V1464.2M2733.4 1373.3H2770.2M2750.4 1509.2H2770.2M2726.9 1558.4V1731.2M2733.4 1639.4H2770.2M2915.1 1157.4V1172M2915.1 1162.4H2952.2M2915.1 1236.3V1465.6M2915.1 1345.9H2952.2M2915.1 1520V1528M2933.6 1524.5H2954.2M2915.1 1585V1600M2915.1 1592.3H2952.2M2915.1 1665.9V1680.6M2915.1 1670.9H2954.2M2915.1 1732V1741M2933.6 1736.5H2954.2M3100.9 1186.3V1489.2M3100.9 1345.9H3137.7M3100.9 1554V1596M3100.9 1575.5H3136.9M3100.9 1662V1679M3100.9 1670.9H3138.9M3126.5 1723.3H3139.7M3283.1 1156V1356.2M3283.1 1256.1H3321.4M3303.1 1418H3323.8M3283.1 1476.5V1518.6M3283.1 1492.1H3321.4M3283.1 1579V1599M3283.1 1587.8H3322.3M3309.1 1641.4H3322.3M3283.1 1688V1705M3283.1 1697.7H3321.4M3309.1 1748.9H3322.3" stroke="#000" stroke-width="1.6" stroke-dasharray="1.6 2.4" fill="none"/>
<text x="1934" y="1130.3">Iron &amp; steel (HS 72)</text>
<text x="2035" y="1526.2">Mineral fuel (HS 27)</text>
<text x="2302" y="1626.3" fill="#fff">Ore (HS 26)</text>
<path d="M2174.6 1165.6L2249 1246.2M2225.5 1240.5L2249.8 1247.1L2245 1222.5" stroke="#000" stroke-width="3" fill="none"/>
</svg>
</body></html>
